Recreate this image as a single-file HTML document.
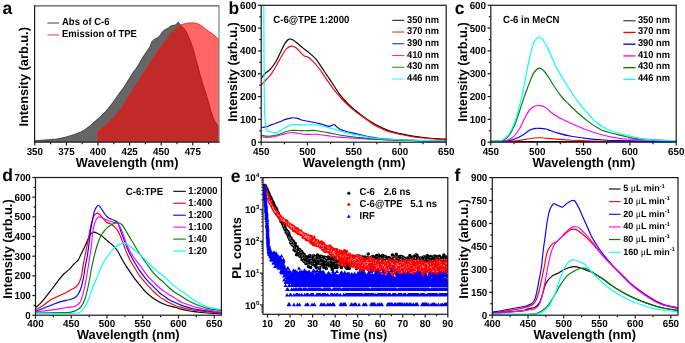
<!DOCTYPE html>
<html><head><meta charset="utf-8"><style>
html,body{margin:0;padding:0;background:#fff;width:685px;height:343px;overflow:hidden}
svg{display:block;will-change:transform;text-rendering:geometricPrecision}
</style></head><body>
<svg width="685" height="343" viewBox="0 0 685 343">
<rect width="685" height="343" fill="#fff"/>
<clipPath id="ca"><rect x="34.6" y="5.8" width="184.4" height="136.39999999999998"/></clipPath>
<g clip-path="url(#ca)"><path d="M34.80,141.20 C35.08,141.10 34.80,140.80 36.50,140.60 C38.20,140.40 41.28,140.32 45.00,140.00 C48.72,139.68 54.45,139.45 58.80,138.70 C63.15,137.95 66.98,136.87 71.10,135.50 C75.22,134.13 79.37,132.98 83.50,130.50 C87.63,128.02 91.77,124.30 95.90,120.60 C100.03,116.90 104.18,113.15 108.30,108.30 C112.42,103.45 117.82,95.30 120.60,91.50 C123.38,87.70 122.93,88.67 125.00,85.50 C127.07,82.33 130.93,75.67 133.00,72.50 C135.07,69.33 135.73,69.08 137.40,66.50 C139.07,63.92 140.93,60.28 143.00,57.00 C145.07,53.72 148.35,49.32 149.80,46.80 C151.25,44.28 151.08,43.05 151.70,41.90 C152.32,40.75 152.78,40.45 153.50,39.90 C154.22,39.35 154.97,39.25 156.00,38.60 C157.03,37.95 158.68,37.05 159.70,36.00 C160.72,34.95 161.28,33.32 162.10,32.30 C162.92,31.28 163.57,30.63 164.60,29.90 C165.63,29.17 167.27,28.53 168.30,27.90 C169.33,27.27 169.57,26.62 170.80,26.10 C172.03,25.58 174.67,25.22 175.70,24.80 C176.73,24.38 176.63,24.02 177.00,23.60 C177.37,23.18 177.57,22.43 177.90,22.30 C178.23,22.17 178.60,22.37 179.00,22.80 C179.40,23.23 179.47,23.95 180.30,24.90 C181.13,25.85 182.73,26.78 184.00,28.50 C185.27,30.22 186.47,32.03 187.90,35.20 C189.33,38.37 191.02,42.62 192.60,47.50 C194.18,52.38 196.00,59.42 197.40,64.50 C198.80,69.58 199.80,73.83 201.00,78.00 C202.20,82.17 203.40,85.68 204.60,89.50 C205.80,93.32 207.13,97.27 208.20,100.90 C209.27,104.53 210.08,108.30 211.00,111.30 C211.92,114.30 212.68,116.68 213.70,118.90 C214.72,121.12 216.13,123.12 217.10,124.60 C218.07,126.08 219.10,127.27 219.50,127.80 L219.5,142.2 L34.8,142.2 Z" fill="#666666"/><path d="M34.80,141.20 C35.08,141.10 34.80,140.80 36.50,140.60 C38.20,140.40 41.28,140.32 45.00,140.00 C48.72,139.68 54.45,139.45 58.80,138.70 C63.15,137.95 66.98,136.87 71.10,135.50 C75.22,134.13 79.37,132.98 83.50,130.50 C87.63,128.02 91.77,124.30 95.90,120.60 C100.03,116.90 104.18,113.15 108.30,108.30 C112.42,103.45 117.82,95.30 120.60,91.50 C123.38,87.70 122.93,88.67 125.00,85.50 C127.07,82.33 130.93,75.67 133.00,72.50 C135.07,69.33 135.73,69.08 137.40,66.50 C139.07,63.92 140.93,60.28 143.00,57.00 C145.07,53.72 148.35,49.32 149.80,46.80 C151.25,44.28 151.08,43.05 151.70,41.90 C152.32,40.75 152.78,40.45 153.50,39.90 C154.22,39.35 154.97,39.25 156.00,38.60 C157.03,37.95 158.68,37.05 159.70,36.00 C160.72,34.95 161.28,33.32 162.10,32.30 C162.92,31.28 163.57,30.63 164.60,29.90 C165.63,29.17 167.27,28.53 168.30,27.90 C169.33,27.27 169.57,26.62 170.80,26.10 C172.03,25.58 174.67,25.22 175.70,24.80 C176.73,24.38 176.63,24.02 177.00,23.60 C177.37,23.18 177.57,22.43 177.90,22.30 C178.23,22.17 178.60,22.37 179.00,22.80 C179.40,23.23 179.47,23.95 180.30,24.90 C181.13,25.85 182.73,26.78 184.00,28.50 C185.27,30.22 186.47,32.03 187.90,35.20 C189.33,38.37 191.02,42.62 192.60,47.50 C194.18,52.38 196.00,59.42 197.40,64.50 C198.80,69.58 199.80,73.83 201.00,78.00 C202.20,82.17 203.40,85.68 204.60,89.50 C205.80,93.32 207.13,97.27 208.20,100.90 C209.27,104.53 210.08,108.30 211.00,111.30 C211.92,114.30 212.68,116.68 213.70,118.90 C214.72,121.12 216.13,123.12 217.10,124.60 C218.07,126.08 219.10,127.27 219.50,127.80" fill="none" stroke="#3a3a3a" stroke-width="0.9"/><path d="M98,142 L98.00,131.30 C99.72,129.93 104.53,126.73 108.30,123.10 C112.07,119.47 117.40,113.60 120.60,109.50 C123.80,105.40 125.43,101.80 127.50,98.50 C129.57,95.20 130.93,92.88 133.00,89.70 C135.07,86.52 136.70,84.42 139.90,79.40 C143.10,74.38 148.08,65.80 152.20,59.60 C156.32,53.40 160.88,47.15 164.60,42.20 C168.32,37.25 171.62,32.83 174.50,29.90 C177.38,26.97 179.02,25.77 181.90,24.60 C184.78,23.43 188.90,22.93 191.80,22.90 C194.70,22.87 196.82,23.23 199.30,24.40 C201.78,25.57 204.58,28.38 206.70,29.90 C208.82,31.42 210.15,32.07 212.00,33.50 C213.85,34.93 216.55,37.42 217.80,38.50 C219.05,39.58 219.22,39.75 219.50,40.00 L219.5,142 Z" fill="rgb(255,0,0)" fill-opacity="0.6"/><path d="M98,142.2 L98.00,131.30 C99.72,129.93 104.53,126.73 108.30,123.10 C112.07,119.47 117.40,113.60 120.60,109.50 C123.80,105.40 125.43,101.80 127.50,98.50 C129.57,95.20 130.93,92.88 133.00,89.70 C135.07,86.52 136.70,84.42 139.90,79.40 C143.10,74.38 148.08,65.80 152.20,59.60 C156.32,53.40 160.88,47.15 164.60,42.20 C168.32,37.25 171.62,32.83 174.50,29.90 C177.38,26.97 179.02,25.77 181.90,24.60 C184.78,23.43 188.90,22.93 191.80,22.90 C194.70,22.87 196.82,23.23 199.30,24.40 C201.78,25.57 204.58,28.38 206.70,29.90 C208.82,31.42 210.15,32.07 212.00,33.50 C213.85,34.93 216.55,37.42 217.80,38.50 C219.05,39.58 219.22,39.75 219.50,40.00" fill="none" stroke="rgb(235,30,30)" stroke-width="0.9"/></g>
<line x1="34.6" y1="5.8" x2="219.0" y2="5.8" stroke="#555" stroke-width="1.2"/>
<line x1="219.0" y1="5.8" x2="219.0" y2="142.2" stroke="#808080" stroke-width="1.2"/>
<line x1="34.6" y1="5.2" x2="34.6" y2="142.79999999999998" stroke="#1a1a1a" stroke-width="1.2"/>
<line x1="34.0" y1="142.2" x2="219.6" y2="142.2" stroke="#1a1a1a" stroke-width="1.2"/>
<line x1="34.80" y1="142.2" x2="34.80" y2="145.6" stroke="#1a1a1a" stroke-width="1.2"/>
<text transform="translate(34.80,154.6) scale(1,1.04)" font-size="9.8" text-anchor="middle" font-family="Liberation Sans, sans-serif" font-weight="bold" >350</text>
<line x1="66.40" y1="142.2" x2="66.40" y2="145.6" stroke="#1a1a1a" stroke-width="1.2"/>
<text transform="translate(66.40,154.6) scale(1,1.04)" font-size="9.8" text-anchor="middle" font-family="Liberation Sans, sans-serif" font-weight="bold" >375</text>
<line x1="98.00" y1="142.2" x2="98.00" y2="145.6" stroke="#1a1a1a" stroke-width="1.2"/>
<text transform="translate(98.00,154.6) scale(1,1.04)" font-size="9.8" text-anchor="middle" font-family="Liberation Sans, sans-serif" font-weight="bold" >400</text>
<line x1="129.60" y1="142.2" x2="129.60" y2="145.6" stroke="#1a1a1a" stroke-width="1.2"/>
<text transform="translate(129.60,154.6) scale(1,1.04)" font-size="9.8" text-anchor="middle" font-family="Liberation Sans, sans-serif" font-weight="bold" >425</text>
<line x1="161.20" y1="142.2" x2="161.20" y2="145.6" stroke="#1a1a1a" stroke-width="1.2"/>
<text transform="translate(161.20,154.6) scale(1,1.04)" font-size="9.8" text-anchor="middle" font-family="Liberation Sans, sans-serif" font-weight="bold" >450</text>
<line x1="192.80" y1="142.2" x2="192.80" y2="145.6" stroke="#1a1a1a" stroke-width="1.2"/>
<text transform="translate(192.80,154.6) scale(1,1.04)" font-size="9.8" text-anchor="middle" font-family="Liberation Sans, sans-serif" font-weight="bold" >475</text>
<line x1="50.60" y1="142.2" x2="50.60" y2="144.2" stroke="#1a1a1a" stroke-width="1.2"/>
<line x1="82.20" y1="142.2" x2="82.20" y2="144.2" stroke="#1a1a1a" stroke-width="1.2"/>
<line x1="113.80" y1="142.2" x2="113.80" y2="144.2" stroke="#1a1a1a" stroke-width="1.2"/>
<line x1="145.40" y1="142.2" x2="145.40" y2="144.2" stroke="#1a1a1a" stroke-width="1.2"/>
<line x1="177.00" y1="142.2" x2="177.00" y2="144.2" stroke="#1a1a1a" stroke-width="1.2"/>
<line x1="208.60" y1="142.2" x2="208.60" y2="144.2" stroke="#1a1a1a" stroke-width="1.2"/>
<line x1="47.4" y1="23" x2="59.1" y2="23" stroke="#888" stroke-width="1.6"/>
<line x1="47.4" y1="34.9" x2="59.1" y2="34.9" stroke="#ff8080" stroke-width="1.6"/>
<text transform="translate(62,24.8) scale(1,1.07)" font-size="9.5" text-anchor="start" font-family="Liberation Sans, sans-serif" font-weight="bold" >Abs of C-6</text>
<text transform="translate(62,36.7) scale(1,1.07)" font-size="9.5" text-anchor="start" font-family="Liberation Sans, sans-serif" font-weight="bold" >Emission of TPE</text>
<text x="0" y="0" font-size="12.8" text-anchor="middle" font-family="Liberation Sans, sans-serif" font-weight="bold" transform="translate(28.4,76.85) rotate(-90)">Intensity (arb.u.)</text>
<text transform="translate(127.1,166.6) scale(1,1.03)" font-size="12.8" text-anchor="middle" font-family="Liberation Sans, sans-serif" font-weight="bold" >Wavelength (nm)</text>
<text x="2.5" y="13.7" font-size="17.5" text-anchor="start" font-family="Liberation Sans, sans-serif" font-weight="bold" >a</text>
<clipPath id="cb"><rect x="261.2" y="5.3" width="185.0" height="136.89999999999998"/></clipPath>
<g clip-path="url(#cb)">
<path d="M261.20,78.60 C261.83,77.78 263.50,75.25 265.00,73.70 C266.50,72.15 268.45,71.20 270.20,69.30 C271.95,67.40 273.75,65.20 275.50,62.30 C277.25,59.40 279.10,55.10 280.70,51.90 C282.30,48.70 283.70,45.23 285.10,43.10 C286.50,40.97 287.65,39.53 289.10,39.10 C290.55,38.67 292.28,39.68 293.80,40.50 C295.32,41.32 296.58,42.68 298.20,44.00 C299.82,45.32 301.88,47.10 303.50,48.40 C305.12,49.70 305.87,50.05 307.90,51.80 C309.93,53.55 313.08,55.83 315.70,58.90 C318.32,61.97 320.97,66.35 323.60,70.20 C326.23,74.05 328.88,78.07 331.50,82.00 C334.12,85.93 336.68,90.32 339.30,93.80 C341.92,97.28 344.57,100.15 347.20,102.90 C349.83,105.65 352.48,108.10 355.10,110.30 C357.72,112.50 360.98,114.67 362.90,116.10 C364.82,117.53 364.85,117.72 366.60,118.90 C368.35,120.08 371.22,121.92 373.40,123.20 C375.58,124.48 377.57,125.53 379.70,126.60 C381.83,127.67 384.02,128.72 386.20,129.60 C388.38,130.48 390.62,131.25 392.80,131.90 C394.98,132.55 396.02,132.80 399.30,133.50 C402.58,134.20 408.12,135.40 412.50,136.10 C416.88,136.80 421.23,137.27 425.60,137.70 C429.97,138.13 435.22,138.47 438.70,138.70 C442.18,138.93 445.20,139.03 446.50,139.10" fill="none" stroke="#000000" stroke-width="1.15" stroke-linejoin="round"/>
<path d="M261.20,85.10 C262.12,84.08 264.90,81.05 266.70,79.00 C268.50,76.95 270.25,75.28 272.00,72.80 C273.75,70.32 275.45,67.15 277.20,64.10 C278.95,61.05 280.90,57.12 282.50,54.50 C284.10,51.88 285.35,49.80 286.80,48.40 C288.25,47.00 289.73,46.25 291.20,46.10 C292.67,45.95 294.13,46.55 295.60,47.50 C297.07,48.45 298.62,50.43 300.00,51.80 C301.38,53.17 302.60,54.82 303.90,55.70 C305.20,56.58 306.70,56.57 307.80,57.10 C308.90,57.63 308.73,57.17 310.50,58.90 C312.27,60.63 315.78,64.18 318.40,67.50 C321.02,70.82 323.58,75.08 326.20,78.80 C328.82,82.52 331.47,86.43 334.10,89.80 C336.73,93.17 339.38,96.15 342.00,99.00 C344.62,101.85 347.18,104.50 349.80,106.90 C352.42,109.30 355.07,111.43 357.70,113.40 C360.33,115.37 362.98,116.87 365.60,118.70 C368.22,120.53 371.05,122.90 373.40,124.40 C375.75,125.90 377.57,126.67 379.70,127.70 C381.83,128.73 384.02,129.78 386.20,130.60 C388.38,131.42 390.62,132.00 392.80,132.60 C394.98,133.20 396.02,133.52 399.30,134.20 C402.58,134.88 408.12,136.03 412.50,136.70 C416.88,137.37 421.23,137.80 425.60,138.20 C429.97,138.60 435.22,138.90 438.70,139.10 C442.18,139.30 445.20,139.35 446.50,139.40" fill="none" stroke="#ff0000" stroke-width="1.15" stroke-linejoin="round"/>
<path d="M261.20,127.60 C261.98,127.48 264.25,127.35 265.90,126.90 C267.55,126.45 269.35,125.55 271.10,124.90 C272.85,124.25 274.65,123.65 276.40,123.00 C278.15,122.35 280.07,121.60 281.60,121.00 C283.13,120.40 284.28,119.83 285.60,119.40 C286.92,118.97 288.20,118.68 289.50,118.40 C290.80,118.12 292.08,117.70 293.40,117.70 C294.72,117.70 295.87,117.97 297.40,118.40 C298.93,118.83 300.85,119.82 302.60,120.30 C304.35,120.78 306.15,120.97 307.90,121.30 C309.65,121.63 311.42,121.95 313.10,122.30 C314.78,122.65 316.52,123.07 318.00,123.40 C319.48,123.73 320.17,123.80 322.00,124.30 C323.83,124.80 327.35,126.22 329.00,126.40 C330.65,126.58 331.02,125.70 331.90,125.40 C332.78,125.10 333.42,124.30 334.30,124.60 C335.18,124.90 335.95,126.28 337.20,127.20 C338.45,128.12 339.67,129.23 341.80,130.10 C343.93,130.97 346.68,131.57 350.00,132.40 C353.32,133.23 357.85,134.27 361.70,135.10 C365.55,135.93 369.02,136.73 373.10,137.40 C377.18,138.07 379.63,138.60 386.20,139.10 C392.77,139.60 402.45,140.07 412.50,140.40 C422.55,140.73 440.83,140.98 446.50,141.10" fill="none" stroke="#0000ff" stroke-width="1.15" stroke-linejoin="round"/>
<path d="M261.20,136.50 C261.98,136.65 263.80,137.35 265.90,137.40 C268.00,137.45 271.18,137.23 273.80,136.80 C276.42,136.37 278.98,135.47 281.60,134.80 C284.22,134.13 287.53,133.17 289.50,132.80 C291.47,132.43 291.87,132.48 293.40,132.60 C294.93,132.72 296.72,133.20 298.70,133.50 C300.68,133.80 302.58,134.27 305.30,134.40 C308.02,134.53 311.43,134.10 315.00,134.30 C318.57,134.50 322.82,135.13 326.70,135.60 C330.58,136.07 334.42,136.72 338.30,137.10 C342.18,137.48 346.10,137.65 350.00,137.90 C353.90,138.15 357.53,138.35 361.70,138.60 C365.87,138.85 368.62,139.12 375.00,139.40 C381.38,139.68 388.08,140.00 400.00,140.30 C411.92,140.60 438.75,141.05 446.50,141.20" fill="none" stroke="#ff00ff" stroke-width="1.15" stroke-linejoin="round"/>
<path d="M261.20,135.20 C261.98,135.35 264.25,135.95 265.90,136.10 C267.55,136.25 269.13,136.32 271.10,136.10 C273.07,135.88 275.50,135.45 277.70,134.80 C279.90,134.15 282.12,132.92 284.30,132.20 C286.48,131.48 288.62,130.78 290.80,130.50 C292.98,130.22 294.98,130.47 297.40,130.50 C299.82,130.53 302.37,130.70 305.30,130.70 C308.23,130.70 311.43,130.22 315.00,130.50 C318.57,130.78 322.82,131.68 326.70,132.40 C330.58,133.12 334.42,134.12 338.30,134.80 C342.18,135.48 346.10,135.98 350.00,136.50 C353.90,137.02 357.53,137.47 361.70,137.90 C365.87,138.33 368.62,138.70 375.00,139.10 C381.38,139.50 388.08,139.98 400.00,140.30 C411.92,140.62 438.75,140.88 446.50,141.00" fill="none" stroke="#008000" stroke-width="1.15" stroke-linejoin="round"/>
<path d="M263.80,4.00 C263.83,13.33 263.92,44.00 264.00,60.00 C264.08,76.00 264.17,90.83 264.30,100.00 C264.43,109.17 264.60,111.00 264.80,115.00 C265.00,119.00 265.22,121.58 265.50,124.00 C265.78,126.42 266.00,128.25 266.50,129.50 C267.00,130.75 267.07,130.98 268.50,131.50 C269.93,132.02 273.35,132.60 275.10,132.60 C276.85,132.60 277.47,132.23 279.00,131.50 C280.53,130.77 282.55,129.18 284.30,128.20 C286.05,127.22 287.98,126.25 289.50,125.60 C291.02,124.95 291.87,124.42 293.40,124.30 C294.93,124.18 296.72,124.80 298.70,124.90 C300.68,125.00 302.90,124.93 305.30,124.90 C307.70,124.87 310.98,124.65 313.10,124.70 C315.22,124.75 315.73,124.78 318.00,125.20 C320.27,125.62 323.32,126.33 326.70,127.20 C330.08,128.07 334.42,129.33 338.30,130.40 C342.18,131.47 346.10,132.68 350.00,133.60 C353.90,134.52 357.53,135.12 361.70,135.90 C365.87,136.68 368.62,137.65 375.00,138.30 C381.38,138.95 388.08,139.35 400.00,139.80 C411.92,140.25 438.75,140.80 446.50,141.00" fill="none" stroke="#00ffff" stroke-width="1.15" stroke-linejoin="round"/>
</g>
<rect x="261.2" y="5.3" width="185.00" height="136.90" fill="none" stroke="#1a1a1a" stroke-width="1.2"/>
<line x1="261.20" y1="142.2" x2="261.20" y2="145.6" stroke="#1a1a1a" stroke-width="1.2"/>
<text transform="translate(261.20,154.6) scale(1,1.04)" font-size="9.8" text-anchor="middle" font-family="Liberation Sans, sans-serif" font-weight="bold" >450</text>
<line x1="307.45" y1="142.2" x2="307.45" y2="145.6" stroke="#1a1a1a" stroke-width="1.2"/>
<text transform="translate(307.45,154.6) scale(1,1.04)" font-size="9.8" text-anchor="middle" font-family="Liberation Sans, sans-serif" font-weight="bold" >500</text>
<line x1="353.70" y1="142.2" x2="353.70" y2="145.6" stroke="#1a1a1a" stroke-width="1.2"/>
<text transform="translate(353.70,154.6) scale(1,1.04)" font-size="9.8" text-anchor="middle" font-family="Liberation Sans, sans-serif" font-weight="bold" >550</text>
<line x1="399.95" y1="142.2" x2="399.95" y2="145.6" stroke="#1a1a1a" stroke-width="1.2"/>
<text transform="translate(399.95,154.6) scale(1,1.04)" font-size="9.8" text-anchor="middle" font-family="Liberation Sans, sans-serif" font-weight="bold" >600</text>
<line x1="446.20" y1="142.2" x2="446.20" y2="145.6" stroke="#1a1a1a" stroke-width="1.2"/>
<text transform="translate(446.20,154.6) scale(1,1.04)" font-size="9.8" text-anchor="middle" font-family="Liberation Sans, sans-serif" font-weight="bold" >650</text>
<line x1="284.32" y1="142.2" x2="284.32" y2="144.2" stroke="#1a1a1a" stroke-width="1.2"/>
<line x1="330.57" y1="142.2" x2="330.57" y2="144.2" stroke="#1a1a1a" stroke-width="1.2"/>
<line x1="376.82" y1="142.2" x2="376.82" y2="144.2" stroke="#1a1a1a" stroke-width="1.2"/>
<line x1="423.07" y1="142.2" x2="423.07" y2="144.2" stroke="#1a1a1a" stroke-width="1.2"/>
<line x1="258.0" y1="142.20" x2="261.2" y2="142.20" stroke="#1a1a1a" stroke-width="1.2"/>
<text transform="translate(256.4,145.70) scale(1,1.04)" font-size="9.8" text-anchor="end" font-family="Liberation Sans, sans-serif" font-weight="bold" >0</text>
<line x1="258.0" y1="119.38" x2="261.2" y2="119.38" stroke="#1a1a1a" stroke-width="1.2"/>
<text transform="translate(256.4,122.88) scale(1,1.04)" font-size="9.8" text-anchor="end" font-family="Liberation Sans, sans-serif" font-weight="bold" >100</text>
<line x1="258.0" y1="96.57" x2="261.2" y2="96.57" stroke="#1a1a1a" stroke-width="1.2"/>
<text transform="translate(256.4,100.07) scale(1,1.04)" font-size="9.8" text-anchor="end" font-family="Liberation Sans, sans-serif" font-weight="bold" >200</text>
<line x1="258.0" y1="73.75" x2="261.2" y2="73.75" stroke="#1a1a1a" stroke-width="1.2"/>
<text transform="translate(256.4,77.25) scale(1,1.04)" font-size="9.8" text-anchor="end" font-family="Liberation Sans, sans-serif" font-weight="bold" >300</text>
<line x1="258.0" y1="50.93" x2="261.2" y2="50.93" stroke="#1a1a1a" stroke-width="1.2"/>
<text transform="translate(256.4,54.43) scale(1,1.04)" font-size="9.8" text-anchor="end" font-family="Liberation Sans, sans-serif" font-weight="bold" >400</text>
<line x1="258.0" y1="28.12" x2="261.2" y2="28.12" stroke="#1a1a1a" stroke-width="1.2"/>
<text transform="translate(256.4,31.62) scale(1,1.04)" font-size="9.8" text-anchor="end" font-family="Liberation Sans, sans-serif" font-weight="bold" >500</text>
<line x1="258.0" y1="5.30" x2="261.2" y2="5.30" stroke="#1a1a1a" stroke-width="1.2"/>
<text transform="translate(256.4,8.80) scale(1,1.04)" font-size="9.8" text-anchor="end" font-family="Liberation Sans, sans-serif" font-weight="bold" >600</text>
<line x1="259.2" y1="130.79" x2="261.2" y2="130.79" stroke="#1a1a1a" stroke-width="1.2"/>
<line x1="259.2" y1="107.97" x2="261.2" y2="107.97" stroke="#1a1a1a" stroke-width="1.2"/>
<line x1="259.2" y1="85.16" x2="261.2" y2="85.16" stroke="#1a1a1a" stroke-width="1.2"/>
<line x1="259.2" y1="62.34" x2="261.2" y2="62.34" stroke="#1a1a1a" stroke-width="1.2"/>
<line x1="259.2" y1="39.53" x2="261.2" y2="39.53" stroke="#1a1a1a" stroke-width="1.2"/>
<line x1="259.2" y1="16.71" x2="261.2" y2="16.71" stroke="#1a1a1a" stroke-width="1.2"/>
<text transform="translate(273.3,23) scale(1,1.07)" font-size="9.6" text-anchor="start" font-family="Liberation Sans, sans-serif" font-weight="bold" >C-6@TPE 1:2000</text>
<line x1="392.3" y1="20.30" x2="404.3" y2="20.30" stroke="#000" stroke-width="0.95"/>
<text transform="translate(407,22.50) scale(1,1.07)" font-size="9.3" text-anchor="start" font-family="Liberation Sans, sans-serif" font-weight="bold" >350 nm</text>
<line x1="392.3" y1="32.04" x2="404.3" y2="32.04" stroke="#ff0000" stroke-width="0.95"/>
<text transform="translate(407,34.24) scale(1,1.07)" font-size="9.3" text-anchor="start" font-family="Liberation Sans, sans-serif" font-weight="bold" >370 nm</text>
<line x1="392.3" y1="43.78" x2="404.3" y2="43.78" stroke="#0000ff" stroke-width="0.95"/>
<text transform="translate(407,45.98) scale(1,1.07)" font-size="9.3" text-anchor="start" font-family="Liberation Sans, sans-serif" font-weight="bold" >390 nm</text>
<line x1="392.3" y1="55.52" x2="404.3" y2="55.52" stroke="#ff00ff" stroke-width="0.95"/>
<text transform="translate(407,57.72) scale(1,1.07)" font-size="9.3" text-anchor="start" font-family="Liberation Sans, sans-serif" font-weight="bold" >410 nm</text>
<line x1="392.3" y1="67.26" x2="404.3" y2="67.26" stroke="#008000" stroke-width="0.95"/>
<text transform="translate(407,69.46) scale(1,1.07)" font-size="9.3" text-anchor="start" font-family="Liberation Sans, sans-serif" font-weight="bold" >430 nm</text>
<line x1="392.3" y1="79.00" x2="404.3" y2="79.00" stroke="#00ffff" stroke-width="0.95"/>
<text transform="translate(407,81.20) scale(1,1.07)" font-size="9.3" text-anchor="start" font-family="Liberation Sans, sans-serif" font-weight="bold" >446 nm</text>
<text x="0" y="0" font-size="12.8" text-anchor="middle" font-family="Liberation Sans, sans-serif" font-weight="bold" transform="translate(236.8,71.95) rotate(-90)">Intensity (arb.u.)</text>
<text transform="translate(354.1,166.7) scale(1,1.03)" font-size="12.8" text-anchor="middle" font-family="Liberation Sans, sans-serif" font-weight="bold" >Wavelength (nm)</text>
<text x="228.4" y="13.8" font-size="17.5" text-anchor="start" font-family="Liberation Sans, sans-serif" font-weight="bold" >b</text>
<clipPath id="cc"><rect x="490.8" y="5.3" width="185.40000000000003" height="136.89999999999998"/></clipPath>
<g clip-path="url(#cc)">
<path d="M490.80,141.60 L677.00,141.70" fill="none" stroke="#000" stroke-width="1.15" stroke-linejoin="round"/>
<path d="M490.80,141.50 C494.70,141.42 508.25,141.38 514.20,141.00 C520.15,140.62 522.42,139.73 526.50,139.20 C530.58,138.67 535.12,137.93 538.70,137.80 C542.28,137.67 542.58,138.00 548.00,138.40 C553.42,138.80 560.03,139.72 571.20,140.20 C582.37,140.68 597.37,141.07 615.00,141.30 C632.63,141.53 666.67,141.55 677.00,141.60" fill="none" stroke="#ff0000" stroke-width="1.15" stroke-linejoin="round"/>
<path d="M490.80,141.40 C493.25,141.33 501.60,141.37 505.50,141.00 C509.40,140.63 511.28,140.22 514.20,139.20 C517.12,138.18 520.37,136.42 523.00,134.90 C525.63,133.38 527.97,131.18 530.00,130.10 C532.03,129.02 533.45,128.68 535.20,128.40 C536.95,128.12 538.87,128.32 540.50,128.40 C542.13,128.48 543.75,128.70 545.00,128.90 C546.25,129.10 545.82,128.90 548.00,129.60 C550.18,130.30 554.23,131.98 558.10,133.10 C561.97,134.22 565.95,135.33 571.20,136.30 C576.45,137.27 583.97,138.28 589.60,138.90 C595.23,139.52 600.77,139.72 605.00,140.00 C609.23,140.28 603.00,140.33 615.00,140.60 C627.00,140.87 666.67,141.43 677.00,141.60" fill="none" stroke="#0000ff" stroke-width="1.15" stroke-linejoin="round"/>
<path d="M490.80,141.30 C493.25,141.18 501.88,141.23 505.50,140.60 C509.12,139.97 510.17,139.48 512.50,137.50 C514.83,135.52 517.47,131.92 519.50,128.70 C521.53,125.48 522.95,121.40 524.70,118.20 C526.45,115.00 528.25,111.53 530.00,109.50 C531.75,107.47 533.45,106.65 535.20,106.00 C536.95,105.35 539.03,105.48 540.50,105.60 C541.97,105.72 542.92,106.20 544.00,106.70 C545.08,107.20 546.00,107.83 547.00,108.60 C548.00,109.37 549.00,110.43 550.00,111.30 C551.00,112.17 551.83,112.97 553.00,113.80 C554.17,114.63 555.27,115.30 557.00,116.30 C558.73,117.30 560.15,118.22 563.40,119.80 C566.65,121.38 572.13,123.93 576.50,125.80 C580.87,127.67 585.23,129.47 589.60,131.00 C593.97,132.53 598.47,133.90 602.70,135.00 C606.93,136.10 610.97,136.93 615.00,137.60 C619.03,138.27 616.57,138.35 626.90,139.00 C637.23,139.65 668.65,141.08 677.00,141.50" fill="none" stroke="#ff00ff" stroke-width="1.15" stroke-linejoin="round"/>
<path d="M490.80,141.20 C492.00,141.22 495.85,141.48 498.00,141.30 C500.15,141.12 501.87,141.03 503.70,140.10 C505.53,139.17 507.25,138.03 509.00,135.70 C510.75,133.37 512.45,130.18 514.20,126.10 C515.95,122.02 517.75,116.30 519.50,111.20 C521.25,106.10 522.90,100.58 524.70,95.50 C526.50,90.42 528.78,84.48 530.30,80.70 C531.82,76.92 532.33,74.90 533.80,72.80 C535.27,70.70 537.48,68.48 539.10,68.10 C540.72,67.72 541.90,68.93 543.50,70.50 C545.10,72.07 547.12,75.17 548.70,77.50 C550.28,79.83 551.43,82.08 553.00,84.50 C554.57,86.92 556.43,89.67 558.10,92.00 C559.77,94.33 561.25,96.50 563.00,98.50 C564.75,100.50 565.92,101.42 568.60,104.00 C571.28,106.58 575.60,110.90 579.10,114.00 C582.60,117.10 586.10,120.07 589.60,122.60 C593.10,125.13 597.20,127.67 600.10,129.20 C603.00,130.73 604.35,130.97 607.00,131.80 C609.65,132.63 612.68,133.37 616.00,134.20 C619.32,135.03 623.25,136.05 626.90,136.80 C630.55,137.55 629.55,138.00 637.90,138.70 C646.25,139.40 670.48,140.62 677.00,141.00" fill="none" stroke="#008000" stroke-width="1.15" stroke-linejoin="round"/>
<path d="M490.80,140.60 C492.08,140.67 496.35,141.23 498.50,141.00 C500.65,140.77 501.95,140.37 503.70,139.20 C505.45,138.03 507.25,136.62 509.00,134.00 C510.75,131.38 512.60,127.58 514.20,123.50 C515.80,119.42 517.28,114.17 518.60,109.50 C519.92,104.83 520.87,101.17 522.10,95.50 C523.33,89.83 524.77,81.75 526.00,75.50 C527.23,69.25 528.33,63.10 529.50,58.00 C530.67,52.90 531.98,47.97 533.00,44.90 C534.02,41.83 534.58,40.87 535.60,39.60 C536.62,38.33 537.93,37.30 539.10,37.30 C540.27,37.30 541.28,38.05 542.60,39.60 C543.92,41.15 545.55,43.83 547.00,46.60 C548.45,49.37 550.00,53.28 551.30,56.20 C552.60,59.12 553.88,62.12 554.80,64.10 C555.72,66.08 554.93,64.82 556.80,68.10 C558.67,71.38 562.72,78.55 566.00,83.80 C569.28,89.05 573.00,94.78 576.50,99.60 C580.00,104.42 583.52,108.77 587.00,112.70 C590.48,116.63 594.90,120.93 597.40,123.20 C599.90,125.47 600.25,125.25 602.00,126.30 C603.75,127.35 605.73,128.52 607.90,129.50 C610.07,130.48 611.83,131.23 615.00,132.20 C618.17,133.17 623.08,134.35 626.90,135.30 C630.72,136.25 634.25,137.18 637.90,137.90 C641.55,138.62 642.28,139.13 648.80,139.60 C655.32,140.07 672.30,140.52 677.00,140.70" fill="none" stroke="#00ffff" stroke-width="1.15" stroke-linejoin="round"/>
</g>
<rect x="490.8" y="5.3" width="185.40" height="136.90" fill="none" stroke="#1a1a1a" stroke-width="1.2"/>
<line x1="490.80" y1="142.2" x2="490.80" y2="145.6" stroke="#1a1a1a" stroke-width="1.2"/>
<text transform="translate(490.80,154.6) scale(1,1.04)" font-size="9.8" text-anchor="middle" font-family="Liberation Sans, sans-serif" font-weight="bold" >450</text>
<line x1="537.15" y1="142.2" x2="537.15" y2="145.6" stroke="#1a1a1a" stroke-width="1.2"/>
<text transform="translate(537.15,154.6) scale(1,1.04)" font-size="9.8" text-anchor="middle" font-family="Liberation Sans, sans-serif" font-weight="bold" >500</text>
<line x1="583.50" y1="142.2" x2="583.50" y2="145.6" stroke="#1a1a1a" stroke-width="1.2"/>
<text transform="translate(583.50,154.6) scale(1,1.04)" font-size="9.8" text-anchor="middle" font-family="Liberation Sans, sans-serif" font-weight="bold" >550</text>
<line x1="629.85" y1="142.2" x2="629.85" y2="145.6" stroke="#1a1a1a" stroke-width="1.2"/>
<text transform="translate(629.85,154.6) scale(1,1.04)" font-size="9.8" text-anchor="middle" font-family="Liberation Sans, sans-serif" font-weight="bold" >600</text>
<line x1="676.20" y1="142.2" x2="676.20" y2="145.6" stroke="#1a1a1a" stroke-width="1.2"/>
<text transform="translate(676.20,154.6) scale(1,1.04)" font-size="9.8" text-anchor="middle" font-family="Liberation Sans, sans-serif" font-weight="bold" >650</text>
<line x1="513.98" y1="142.2" x2="513.98" y2="144.2" stroke="#1a1a1a" stroke-width="1.2"/>
<line x1="560.33" y1="142.2" x2="560.33" y2="144.2" stroke="#1a1a1a" stroke-width="1.2"/>
<line x1="606.68" y1="142.2" x2="606.68" y2="144.2" stroke="#1a1a1a" stroke-width="1.2"/>
<line x1="653.03" y1="142.2" x2="653.03" y2="144.2" stroke="#1a1a1a" stroke-width="1.2"/>
<line x1="487.6" y1="142.20" x2="490.8" y2="142.20" stroke="#1a1a1a" stroke-width="1.2"/>
<text transform="translate(486.0,145.70) scale(1,1.04)" font-size="9.8" text-anchor="end" font-family="Liberation Sans, sans-serif" font-weight="bold" >0</text>
<line x1="487.6" y1="119.38" x2="490.8" y2="119.38" stroke="#1a1a1a" stroke-width="1.2"/>
<text transform="translate(486.0,122.88) scale(1,1.04)" font-size="9.8" text-anchor="end" font-family="Liberation Sans, sans-serif" font-weight="bold" >100</text>
<line x1="487.6" y1="96.57" x2="490.8" y2="96.57" stroke="#1a1a1a" stroke-width="1.2"/>
<text transform="translate(486.0,100.07) scale(1,1.04)" font-size="9.8" text-anchor="end" font-family="Liberation Sans, sans-serif" font-weight="bold" >200</text>
<line x1="487.6" y1="73.75" x2="490.8" y2="73.75" stroke="#1a1a1a" stroke-width="1.2"/>
<text transform="translate(486.0,77.25) scale(1,1.04)" font-size="9.8" text-anchor="end" font-family="Liberation Sans, sans-serif" font-weight="bold" >300</text>
<line x1="487.6" y1="50.93" x2="490.8" y2="50.93" stroke="#1a1a1a" stroke-width="1.2"/>
<text transform="translate(486.0,54.43) scale(1,1.04)" font-size="9.8" text-anchor="end" font-family="Liberation Sans, sans-serif" font-weight="bold" >400</text>
<line x1="487.6" y1="28.12" x2="490.8" y2="28.12" stroke="#1a1a1a" stroke-width="1.2"/>
<text transform="translate(486.0,31.62) scale(1,1.04)" font-size="9.8" text-anchor="end" font-family="Liberation Sans, sans-serif" font-weight="bold" >500</text>
<line x1="487.6" y1="5.30" x2="490.8" y2="5.30" stroke="#1a1a1a" stroke-width="1.2"/>
<text transform="translate(486.0,8.80) scale(1,1.04)" font-size="9.8" text-anchor="end" font-family="Liberation Sans, sans-serif" font-weight="bold" >600</text>
<line x1="488.8" y1="130.79" x2="490.8" y2="130.79" stroke="#1a1a1a" stroke-width="1.2"/>
<line x1="488.8" y1="107.97" x2="490.8" y2="107.97" stroke="#1a1a1a" stroke-width="1.2"/>
<line x1="488.8" y1="85.16" x2="490.8" y2="85.16" stroke="#1a1a1a" stroke-width="1.2"/>
<line x1="488.8" y1="62.34" x2="490.8" y2="62.34" stroke="#1a1a1a" stroke-width="1.2"/>
<line x1="488.8" y1="39.53" x2="490.8" y2="39.53" stroke="#1a1a1a" stroke-width="1.2"/>
<line x1="488.8" y1="16.71" x2="490.8" y2="16.71" stroke="#1a1a1a" stroke-width="1.2"/>
<text transform="translate(503,23) scale(1,1.07)" font-size="9.6" text-anchor="start" font-family="Liberation Sans, sans-serif" font-weight="bold" >C-6 in MeCN</text>
<line x1="623.3" y1="20.70" x2="635.5" y2="20.70" stroke="#555" stroke-width="1.35"/>
<text transform="translate(637.9,22.50) scale(1,1.07)" font-size="9.3" text-anchor="start" font-family="Liberation Sans, sans-serif" font-weight="bold" >350 nm</text>
<line x1="623.3" y1="32.44" x2="635.5" y2="32.44" stroke="#ff0000" stroke-width="1.35"/>
<text transform="translate(637.9,34.24) scale(1,1.07)" font-size="9.3" text-anchor="start" font-family="Liberation Sans, sans-serif" font-weight="bold" >370 nm</text>
<line x1="623.3" y1="44.18" x2="635.5" y2="44.18" stroke="#0000ff" stroke-width="1.35"/>
<text transform="translate(637.9,45.98) scale(1,1.07)" font-size="9.3" text-anchor="start" font-family="Liberation Sans, sans-serif" font-weight="bold" >390 nm</text>
<line x1="623.3" y1="55.92" x2="635.5" y2="55.92" stroke="#ff00ff" stroke-width="1.35"/>
<text transform="translate(637.9,57.72) scale(1,1.07)" font-size="9.3" text-anchor="start" font-family="Liberation Sans, sans-serif" font-weight="bold" >410 nm</text>
<line x1="623.3" y1="67.66" x2="635.5" y2="67.66" stroke="#008000" stroke-width="1.35"/>
<text transform="translate(637.9,69.46) scale(1,1.07)" font-size="9.3" text-anchor="start" font-family="Liberation Sans, sans-serif" font-weight="bold" >430 nm</text>
<line x1="623.3" y1="79.40" x2="635.5" y2="79.40" stroke="#00ffff" stroke-width="1.35"/>
<text transform="translate(637.9,81.20) scale(1,1.07)" font-size="9.3" text-anchor="start" font-family="Liberation Sans, sans-serif" font-weight="bold" >446 nm</text>
<text x="0" y="0" font-size="12.8" text-anchor="middle" font-family="Liberation Sans, sans-serif" font-weight="bold" transform="translate(466.6,72.05) rotate(-90)">Intensity (arb.u.)</text>
<text transform="translate(583.9,166.7) scale(1,1.03)" font-size="12.8" text-anchor="middle" font-family="Liberation Sans, sans-serif" font-weight="bold" >Wavelength (nm)</text>
<text x="454.8" y="13.8" font-size="17.5" text-anchor="start" font-family="Liberation Sans, sans-serif" font-weight="bold" >c</text>
<clipPath id="cd"><rect x="35.5" y="177.5" width="185.9" height="137.7"/></clipPath>
<g clip-path="url(#cd)">
<path d="M35.50,307.60 C36.38,306.82 38.97,304.80 40.80,302.90 C42.63,301.00 44.58,298.60 46.50,296.20 C48.42,293.80 50.37,291.07 52.30,288.50 C54.23,285.93 56.18,283.22 58.10,280.80 C60.02,278.38 61.88,275.93 63.80,274.00 C65.72,272.07 67.90,270.87 69.60,269.20 C71.30,267.53 72.58,265.50 74.00,264.00 C75.42,262.50 76.93,261.82 78.10,260.20 C79.27,258.58 80.03,256.25 81.00,254.30 C81.97,252.35 82.93,250.53 83.90,248.50 C84.87,246.47 85.83,244.27 86.80,242.10 C87.77,239.93 88.83,237.03 89.70,235.50 C90.57,233.97 91.23,233.47 92.00,232.90 C92.77,232.33 93.42,232.03 94.30,232.10 C95.18,232.17 96.13,232.72 97.30,233.30 C98.47,233.88 100.05,234.73 101.30,235.60 C102.55,236.47 103.68,237.55 104.80,238.50 C105.92,239.45 106.60,240.10 108.00,241.30 C109.40,242.50 111.60,244.08 113.20,245.70 C114.80,247.32 116.02,248.53 117.60,251.00 C119.18,253.47 121.05,257.65 122.70,260.50 C124.35,263.35 125.75,265.42 127.50,268.10 C129.25,270.78 131.12,273.75 133.20,276.60 C135.28,279.45 137.98,282.72 140.00,285.20 C142.02,287.68 143.22,289.42 145.30,291.50 C147.38,293.58 149.83,295.78 152.50,297.70 C155.17,299.62 158.72,301.70 161.30,303.00 C163.88,304.30 165.72,304.78 168.00,305.50 C170.28,306.22 172.83,306.70 175.00,307.30 C177.17,307.90 179.00,308.57 181.00,309.10 C183.00,309.63 185.02,310.10 187.00,310.50 C188.98,310.90 190.92,311.20 192.90,311.50 C194.88,311.80 195.90,312.00 198.90,312.30 C201.90,312.60 207.05,313.03 210.90,313.30 C214.75,313.57 220.15,313.80 222.00,313.90" fill="none" stroke="#000" stroke-width="1.15" stroke-linejoin="round"/>
<path d="M35.50,309.70 C36.70,309.05 40.22,307.42 42.70,305.80 C45.18,304.18 47.83,301.60 50.40,300.00 C52.97,298.40 55.53,297.42 58.10,296.20 C60.67,294.98 63.82,293.70 65.80,292.70 C67.78,291.70 68.52,291.02 70.00,290.20 C71.48,289.38 73.33,288.78 74.70,287.80 C76.07,286.82 77.33,285.47 78.20,284.30 C79.07,283.13 79.32,282.35 79.90,280.80 C80.48,279.25 81.22,277.27 81.70,275.00 C82.18,272.73 82.23,270.45 82.80,267.20 C83.37,263.95 84.33,259.40 85.10,255.50 C85.87,251.60 86.63,247.80 87.40,243.80 C88.17,239.80 89.03,234.92 89.70,231.50 C90.37,228.08 90.72,225.83 91.40,223.30 C92.08,220.77 93.12,217.82 93.80,216.30 C94.48,214.78 94.92,214.73 95.50,214.20 C96.08,213.67 96.72,213.13 97.30,213.10 C97.88,213.07 98.33,213.47 99.00,214.00 C99.67,214.53 100.42,215.33 101.30,216.30 C102.18,217.27 103.42,218.82 104.30,219.80 C105.18,220.78 105.90,221.65 106.60,222.20 C107.30,222.75 107.70,222.77 108.50,223.10 C109.30,223.43 110.33,223.50 111.40,224.20 C112.47,224.90 113.80,226.15 114.90,227.30 C116.00,228.45 116.85,229.05 118.00,231.10 C119.15,233.15 120.53,236.43 121.80,239.60 C123.07,242.77 124.18,246.62 125.60,250.10 C127.02,253.58 128.57,257.18 130.30,260.50 C132.03,263.82 134.38,267.35 136.00,270.00 C137.62,272.65 138.45,274.30 140.00,276.40 C141.55,278.50 143.70,280.78 145.30,282.60 C146.90,284.42 148.15,285.73 149.60,287.30 C151.05,288.87 152.27,290.37 154.00,292.00 C155.73,293.63 158.42,295.88 160.00,297.10 C161.58,298.32 162.17,298.48 163.50,299.30 C164.83,300.12 166.08,300.97 168.00,302.00 C169.92,303.03 172.83,304.62 175.00,305.50 C177.17,306.38 179.00,306.73 181.00,307.30 C183.00,307.87 185.02,308.45 187.00,308.90 C188.98,309.35 190.92,309.67 192.90,310.00 C194.88,310.33 195.90,310.52 198.90,310.90 C201.90,311.28 207.05,311.87 210.90,312.30 C214.75,312.73 220.15,313.30 222.00,313.50" fill="none" stroke="#ff0000" stroke-width="1.15" stroke-linejoin="round"/>
<path d="M35.50,311.30 C37.02,310.70 41.80,308.78 44.60,307.70 C47.40,306.62 49.73,305.77 52.30,304.80 C54.87,303.83 57.43,302.70 60.00,301.90 C62.57,301.10 66.03,300.40 67.70,300.00 C69.37,299.60 68.83,299.87 70.00,299.50 C71.17,299.13 73.33,298.67 74.70,297.80 C76.07,296.93 77.13,295.97 78.20,294.30 C79.27,292.63 80.33,290.05 81.10,287.80 C81.87,285.55 82.32,282.93 82.80,280.80 C83.28,278.67 83.62,277.27 84.00,275.00 C84.38,272.73 84.53,270.45 85.10,267.20 C85.67,263.95 86.68,259.95 87.40,255.50 C88.12,251.05 88.83,244.88 89.40,240.50 C89.97,236.12 90.27,232.73 90.80,229.20 C91.33,225.67 92.02,222.22 92.60,219.30 C93.18,216.38 93.72,213.65 94.30,211.70 C94.88,209.75 95.47,208.67 96.10,207.60 C96.73,206.53 97.42,205.37 98.10,205.30 C98.78,205.23 99.47,206.33 100.20,207.20 C100.93,208.07 101.73,209.37 102.50,210.50 C103.27,211.63 103.88,212.83 104.80,214.00 C105.72,215.17 106.45,216.45 108.00,217.50 C109.55,218.55 112.50,219.45 114.10,220.30 C115.70,221.15 116.48,220.80 117.60,222.60 C118.72,224.40 119.63,227.95 120.80,231.10 C121.97,234.25 123.17,237.87 124.60,241.50 C126.03,245.13 127.65,249.27 129.40,252.90 C131.15,256.53 133.33,260.27 135.10,263.30 C136.87,266.33 138.30,268.63 140.00,271.10 C141.70,273.57 143.83,276.27 145.30,278.10 C146.77,279.93 147.78,281.00 148.80,282.10 C149.82,283.20 150.53,283.83 151.40,284.70 C152.27,285.57 152.57,285.88 154.00,287.30 C155.43,288.72 158.27,291.70 160.00,293.20 C161.73,294.70 163.08,295.35 164.40,296.30 C165.72,297.25 166.13,297.85 167.90,298.90 C169.67,299.95 172.82,301.57 175.00,302.60 C177.18,303.63 179.00,304.35 181.00,305.10 C183.00,305.85 185.02,306.50 187.00,307.10 C188.98,307.70 190.92,308.23 192.90,308.70 C194.88,309.17 195.90,309.43 198.90,309.90 C201.90,310.37 207.05,310.98 210.90,311.50 C214.75,312.02 220.15,312.75 222.00,313.00" fill="none" stroke="#0000ff" stroke-width="1.15" stroke-linejoin="round"/>
<path d="M35.50,312.00 C38.62,311.60 49.15,310.32 54.20,309.60 C59.25,308.88 62.58,308.18 65.80,307.70 C69.02,307.22 71.83,307.00 73.50,306.70 C75.17,306.40 74.73,306.62 75.80,305.90 C76.87,305.18 78.73,304.25 79.90,302.40 C81.07,300.55 81.92,297.82 82.80,294.80 C83.68,291.78 84.52,287.60 85.20,284.30 C85.88,281.00 86.43,277.67 86.90,275.00 C87.37,272.33 87.52,271.35 88.00,268.30 C88.48,265.25 89.22,260.58 89.80,256.70 C90.38,252.82 91.03,249.00 91.50,245.00 C91.97,241.00 92.13,236.12 92.60,232.70 C93.07,229.28 93.62,226.83 94.30,224.50 C94.98,222.17 95.92,219.97 96.70,218.70 C97.48,217.43 98.23,217.10 99.00,216.90 C99.77,216.70 100.33,217.10 101.30,217.50 C102.27,217.90 103.68,218.83 104.80,219.30 C105.92,219.77 106.60,219.83 108.00,220.30 C109.40,220.77 111.60,221.62 113.20,222.10 C114.80,222.58 116.33,222.17 117.60,223.20 C118.87,224.23 119.78,226.18 120.80,228.30 C121.82,230.42 122.58,232.90 123.70,235.90 C124.82,238.90 125.92,242.87 127.50,246.30 C129.08,249.73 131.12,253.32 133.20,256.50 C135.28,259.68 137.98,262.67 140.00,265.40 C142.02,268.13 143.83,270.92 145.30,272.90 C146.77,274.88 147.63,275.98 148.80,277.30 C149.97,278.62 151.13,279.63 152.30,280.80 C153.47,281.97 154.52,283.05 155.80,284.30 C157.08,285.55 158.57,287.10 160.00,288.30 C161.43,289.50 162.93,290.47 164.40,291.50 C165.87,292.53 167.35,293.57 168.80,294.50 C170.25,295.43 171.80,296.30 173.10,297.10 C174.40,297.90 175.28,298.50 176.60,299.30 C177.92,300.10 179.27,301.07 181.00,301.90 C182.73,302.73 185.02,303.57 187.00,304.30 C188.98,305.03 190.92,305.70 192.90,306.30 C194.88,306.90 196.90,307.40 198.90,307.90 C200.90,308.40 202.90,308.87 204.90,309.30 C206.90,309.73 208.05,309.98 210.90,310.50 C213.75,311.02 220.15,312.08 222.00,312.40" fill="none" stroke="#ff00ff" stroke-width="1.15" stroke-linejoin="round"/>
<path d="M35.50,313.10 C40.22,313.00 58.05,312.62 63.80,312.50 C69.55,312.38 67.80,312.82 70.00,312.40 C72.20,311.98 75.05,311.08 77.00,310.00 C78.95,308.92 80.33,307.85 81.70,305.90 C83.07,303.95 84.13,301.50 85.20,298.30 C86.27,295.10 87.33,290.08 88.10,286.70 C88.87,283.32 89.23,281.07 89.80,278.00 C90.37,274.93 90.83,271.67 91.50,268.30 C92.17,264.93 93.02,261.10 93.80,257.80 C94.58,254.50 95.42,251.22 96.20,248.50 C96.98,245.78 97.65,243.75 98.50,241.50 C99.35,239.25 100.33,236.77 101.30,235.00 C102.27,233.23 103.18,232.23 104.30,230.90 C105.42,229.57 106.52,228.18 108.00,227.00 C109.48,225.82 111.60,224.53 113.20,223.80 C114.80,223.07 116.17,222.48 117.60,222.60 C119.03,222.72 120.47,223.23 121.80,224.50 C123.13,225.77 124.33,228.15 125.60,230.20 C126.87,232.25 127.82,234.12 129.40,236.80 C130.98,239.48 133.42,243.52 135.10,246.30 C136.78,249.08 138.10,251.33 139.50,253.50 C140.90,255.67 142.25,257.53 143.50,259.30 C144.75,261.07 145.68,262.27 147.00,264.10 C148.32,265.93 149.93,268.40 151.40,270.30 C152.87,272.20 154.37,274.02 155.80,275.50 C157.23,276.98 158.57,277.93 160.00,279.20 C161.43,280.47 162.93,281.72 164.40,283.10 C165.87,284.48 167.35,286.18 168.80,287.50 C170.25,288.82 171.65,289.90 173.10,291.00 C174.55,292.10 175.68,292.93 177.50,294.10 C179.32,295.27 182.42,297.00 184.00,298.00 C185.58,299.00 185.52,299.25 187.00,300.10 C188.48,300.95 190.92,302.20 192.90,303.10 C194.88,304.00 196.90,304.77 198.90,305.50 C200.90,306.23 202.90,306.90 204.90,307.50 C206.90,308.10 208.05,308.58 210.90,309.10 C213.75,309.62 220.15,310.35 222.00,310.60" fill="none" stroke="#008000" stroke-width="1.15" stroke-linejoin="round"/>
<path d="M35.50,313.50 C41.25,313.50 62.88,313.60 70.00,313.50 C77.12,313.40 76.07,313.48 78.20,312.90 C80.33,312.32 81.25,311.85 82.80,310.00 C84.35,308.15 85.93,305.30 87.50,301.80 C89.07,298.30 90.65,292.97 92.20,289.00 C93.75,285.03 95.55,281.05 96.80,278.00 C98.05,274.95 98.50,273.48 99.70,270.70 C100.90,267.92 102.48,263.93 104.00,261.30 C105.52,258.67 107.27,256.93 108.80,254.90 C110.33,252.87 111.67,250.70 113.20,249.10 C114.73,247.50 116.57,246.25 118.00,245.30 C119.43,244.35 120.53,243.72 121.80,243.40 C123.07,243.08 124.02,242.77 125.60,243.40 C127.18,244.03 129.40,245.77 131.30,247.20 C133.20,248.63 134.97,250.20 137.00,252.00 C139.03,253.80 141.53,256.12 143.50,258.00 C145.47,259.88 147.05,261.55 148.80,263.30 C150.55,265.05 152.13,266.80 154.00,268.50 C155.87,270.20 158.27,272.08 160.00,273.50 C161.73,274.92 162.93,275.77 164.40,277.00 C165.87,278.23 167.35,279.58 168.80,280.90 C170.25,282.22 171.65,283.65 173.10,284.90 C174.55,286.15 175.68,287.08 177.50,288.40 C179.32,289.72 181.43,290.95 184.00,292.80 C186.57,294.65 190.42,297.78 192.90,299.50 C195.38,301.22 196.90,302.03 198.90,303.10 C200.90,304.17 202.90,305.10 204.90,305.90 C206.90,306.70 208.05,307.27 210.90,307.90 C213.75,308.53 220.15,309.40 222.00,309.70" fill="none" stroke="#00ffff" stroke-width="1.15" stroke-linejoin="round"/>
</g>
<rect x="35.5" y="177.5" width="185.90" height="137.70" fill="none" stroke="#1a1a1a" stroke-width="1.2"/>
<line x1="35.50" y1="315.2" x2="35.50" y2="318.59999999999997" stroke="#1a1a1a" stroke-width="1.2"/>
<text transform="translate(35.50,327.3) scale(1,1.04)" font-size="9.8" text-anchor="middle" font-family="Liberation Sans, sans-serif" font-weight="bold" >400</text>
<line x1="71.25" y1="315.2" x2="71.25" y2="318.59999999999997" stroke="#1a1a1a" stroke-width="1.2"/>
<text transform="translate(71.25,327.3) scale(1,1.04)" font-size="9.8" text-anchor="middle" font-family="Liberation Sans, sans-serif" font-weight="bold" >450</text>
<line x1="107.00" y1="315.2" x2="107.00" y2="318.59999999999997" stroke="#1a1a1a" stroke-width="1.2"/>
<text transform="translate(107.00,327.3) scale(1,1.04)" font-size="9.8" text-anchor="middle" font-family="Liberation Sans, sans-serif" font-weight="bold" >500</text>
<line x1="142.75" y1="315.2" x2="142.75" y2="318.59999999999997" stroke="#1a1a1a" stroke-width="1.2"/>
<text transform="translate(142.75,327.3) scale(1,1.04)" font-size="9.8" text-anchor="middle" font-family="Liberation Sans, sans-serif" font-weight="bold" >550</text>
<line x1="178.50" y1="315.2" x2="178.50" y2="318.59999999999997" stroke="#1a1a1a" stroke-width="1.2"/>
<text transform="translate(178.50,327.3) scale(1,1.04)" font-size="9.8" text-anchor="middle" font-family="Liberation Sans, sans-serif" font-weight="bold" >600</text>
<line x1="214.25" y1="315.2" x2="214.25" y2="318.59999999999997" stroke="#1a1a1a" stroke-width="1.2"/>
<text transform="translate(214.25,327.3) scale(1,1.04)" font-size="9.8" text-anchor="middle" font-family="Liberation Sans, sans-serif" font-weight="bold" >650</text>
<line x1="53.38" y1="315.2" x2="53.38" y2="317.2" stroke="#1a1a1a" stroke-width="1.2"/>
<line x1="89.12" y1="315.2" x2="89.12" y2="317.2" stroke="#1a1a1a" stroke-width="1.2"/>
<line x1="124.88" y1="315.2" x2="124.88" y2="317.2" stroke="#1a1a1a" stroke-width="1.2"/>
<line x1="160.62" y1="315.2" x2="160.62" y2="317.2" stroke="#1a1a1a" stroke-width="1.2"/>
<line x1="196.38" y1="315.2" x2="196.38" y2="317.2" stroke="#1a1a1a" stroke-width="1.2"/>
<line x1="32.3" y1="315.20" x2="35.5" y2="315.20" stroke="#1a1a1a" stroke-width="1.2"/>
<text transform="translate(30.8,318.70) scale(1,1.04)" font-size="9.8" text-anchor="end" font-family="Liberation Sans, sans-serif" font-weight="bold" >0</text>
<line x1="32.3" y1="295.53" x2="35.5" y2="295.53" stroke="#1a1a1a" stroke-width="1.2"/>
<text transform="translate(30.8,299.03) scale(1,1.04)" font-size="9.8" text-anchor="end" font-family="Liberation Sans, sans-serif" font-weight="bold" >100</text>
<line x1="32.3" y1="275.86" x2="35.5" y2="275.86" stroke="#1a1a1a" stroke-width="1.2"/>
<text transform="translate(30.8,279.36) scale(1,1.04)" font-size="9.8" text-anchor="end" font-family="Liberation Sans, sans-serif" font-weight="bold" >200</text>
<line x1="32.3" y1="256.19" x2="35.5" y2="256.19" stroke="#1a1a1a" stroke-width="1.2"/>
<text transform="translate(30.8,259.69) scale(1,1.04)" font-size="9.8" text-anchor="end" font-family="Liberation Sans, sans-serif" font-weight="bold" >300</text>
<line x1="32.3" y1="236.51" x2="35.5" y2="236.51" stroke="#1a1a1a" stroke-width="1.2"/>
<text transform="translate(30.8,240.01) scale(1,1.04)" font-size="9.8" text-anchor="end" font-family="Liberation Sans, sans-serif" font-weight="bold" >400</text>
<line x1="32.3" y1="216.84" x2="35.5" y2="216.84" stroke="#1a1a1a" stroke-width="1.2"/>
<text transform="translate(30.8,220.34) scale(1,1.04)" font-size="9.8" text-anchor="end" font-family="Liberation Sans, sans-serif" font-weight="bold" >500</text>
<line x1="32.3" y1="197.17" x2="35.5" y2="197.17" stroke="#1a1a1a" stroke-width="1.2"/>
<text transform="translate(30.8,200.67) scale(1,1.04)" font-size="9.8" text-anchor="end" font-family="Liberation Sans, sans-serif" font-weight="bold" >600</text>
<line x1="32.3" y1="177.50" x2="35.5" y2="177.50" stroke="#1a1a1a" stroke-width="1.2"/>
<text transform="translate(30.8,181.00) scale(1,1.04)" font-size="9.8" text-anchor="end" font-family="Liberation Sans, sans-serif" font-weight="bold" >700</text>
<line x1="33.5" y1="305.36" x2="35.5" y2="305.36" stroke="#1a1a1a" stroke-width="1.2"/>
<line x1="33.5" y1="285.69" x2="35.5" y2="285.69" stroke="#1a1a1a" stroke-width="1.2"/>
<line x1="33.5" y1="266.02" x2="35.5" y2="266.02" stroke="#1a1a1a" stroke-width="1.2"/>
<line x1="33.5" y1="246.35" x2="35.5" y2="246.35" stroke="#1a1a1a" stroke-width="1.2"/>
<line x1="33.5" y1="226.68" x2="35.5" y2="226.68" stroke="#1a1a1a" stroke-width="1.2"/>
<line x1="33.5" y1="207.01" x2="35.5" y2="207.01" stroke="#1a1a1a" stroke-width="1.2"/>
<line x1="33.5" y1="187.34" x2="35.5" y2="187.34" stroke="#1a1a1a" stroke-width="1.2"/>
<text transform="translate(125.8,195) scale(1,1.07)" font-size="9.6" text-anchor="start" font-family="Liberation Sans, sans-serif" font-weight="bold" >C-6:TPE</text>
<line x1="173.2" y1="191.30" x2="185.8" y2="191.30" stroke="#000" stroke-width="1.1"/>
<text transform="translate(188.2,193.90) scale(1,1.07)" font-size="9.4" text-anchor="start" font-family="Liberation Sans, sans-serif" font-weight="bold" >1:2000</text>
<line x1="173.2" y1="203.25" x2="185.8" y2="203.25" stroke="#ff0000" stroke-width="1.1"/>
<text transform="translate(188.2,205.85) scale(1,1.07)" font-size="9.4" text-anchor="start" font-family="Liberation Sans, sans-serif" font-weight="bold" >1:400</text>
<line x1="173.2" y1="215.20" x2="185.8" y2="215.20" stroke="#0000ff" stroke-width="1.1"/>
<text transform="translate(188.2,217.80) scale(1,1.07)" font-size="9.4" text-anchor="start" font-family="Liberation Sans, sans-serif" font-weight="bold" >1:200</text>
<line x1="173.2" y1="227.15" x2="185.8" y2="227.15" stroke="#ff00ff" stroke-width="1.1"/>
<text transform="translate(188.2,229.75) scale(1,1.07)" font-size="9.4" text-anchor="start" font-family="Liberation Sans, sans-serif" font-weight="bold" >1:100</text>
<line x1="173.2" y1="239.10" x2="185.8" y2="239.10" stroke="#008000" stroke-width="1.1"/>
<text transform="translate(188.2,241.70) scale(1,1.07)" font-size="9.4" text-anchor="start" font-family="Liberation Sans, sans-serif" font-weight="bold" >1:40</text>
<line x1="173.2" y1="251.05" x2="185.8" y2="251.05" stroke="#00ffff" stroke-width="1.1"/>
<text transform="translate(188.2,253.65) scale(1,1.07)" font-size="9.4" text-anchor="start" font-family="Liberation Sans, sans-serif" font-weight="bold" >1:20</text>
<text x="0" y="0" font-size="12.8" text-anchor="middle" font-family="Liberation Sans, sans-serif" font-weight="bold" transform="translate(11.7,249.1) rotate(-90)">Intensity (arb.u.)</text>
<text transform="translate(128.3,339.1) scale(1,1.03)" font-size="12.8" text-anchor="middle" font-family="Liberation Sans, sans-serif" font-weight="bold" >Wavelength (nm)</text>
<text x="2.2" y="181" font-size="17.5" text-anchor="start" font-family="Liberation Sans, sans-serif" font-weight="bold" >d</text>
<clipPath id="ce"><rect x="263.0" y="177.6" width="184.8" height="136.70000000000002"/></clipPath>
<g clip-path="url(#ce)">
<path d="M263.9 186.3h0M264.0 186.0h0M264.4 185.5h0M264.5 186.0h0M265.0 185.6h0M265.1 185.8h0M265.6 186.4h0M265.7 187.0h0M266.2 188.4h0M266.3 188.1h0M266.7 188.8h0M266.8 189.5h0M266.9 189.1h0M267.1 190.2h0M267.4 190.3h0M267.5 191.1h0M267.9 191.8h0M268.0 191.9h0M268.2 192.5h0M268.5 192.8h0M268.6 192.9h0M268.7 193.8h0M268.9 193.7h0M269.2 194.7h0M269.3 195.0h0M269.7 195.6h0M269.8 195.9h0M269.9 196.5h0M270.4 197.8h0M270.5 197.3h0M270.9 198.3h0M271.0 197.9h0M271.1 199.1h0M271.2 198.7h0M271.5 199.8h0M271.6 199.5h0M271.8 199.9h0M271.9 200.9h0M272.2 200.9h0M272.3 201.5h0M272.5 202.0h0M272.8 202.2h0M272.9 203.1h0M273.1 203.5h0M273.4 203.1h0M273.5 204.1h0M273.6 204.3h0M274.0 204.7h0M274.1 204.9h0M274.2 205.4h0M274.5 205.8h0M274.6 206.3h0M274.7 207.1h0M275.1 207.4h0M275.2 208.1h0M275.5 208.4h0M275.7 209.1h0M275.8 209.7h0M275.9 207.7h0M276.0 210.0h0M276.4 210.5h0M276.5 210.1h0M276.6 210.8h0M276.7 209.6h0M276.9 211.8h0M277.0 211.5h0M277.1 212.8h0M277.2 212.2h0M277.5 213.8h0M277.6 212.2h0M277.7 213.3h0M277.8 212.4h0M277.9 213.2h0M278.1 214.4h0M278.2 215.0h0M278.3 214.4h0M278.4 213.8h0M278.7 215.7h0M278.8 215.0h0M278.9 215.3h0M279.0 216.0h0M279.1 216.8h0M279.3 216.4h0M279.4 217.3h0M279.5 217.1h0M279.7 216.6h0M280.0 218.0h0M280.1 218.4h0M280.2 219.0h0M280.6 219.0h0M280.7 219.4h0M280.8 219.9h0M281.1 221.5h0M281.2 220.7h0M281.4 221.3h0M281.5 221.1h0M281.8 222.0h0M282.0 222.6h0M282.4 221.6h0M282.5 222.1h0M282.6 223.7h0M282.7 223.9h0M283.0 223.9h0M283.1 225.1h0M283.2 224.4h0M283.3 225.5h0M283.5 225.8h0M283.6 226.1h0M283.7 225.0h0M283.8 226.5h0M284.1 227.8h0M284.2 225.5h0M284.3 227.6h0M284.4 226.1h0M284.5 227.8h0M284.7 227.0h0M284.8 228.9h0M284.9 227.5h0M285.0 227.2h0M285.4 229.0h0M285.5 229.7h0M285.9 230.5h0M286.0 230.7h0M286.1 232.2h0M286.2 230.8h0M286.3 229.9h0M286.6 232.8h0M286.7 231.7h0M287.1 232.2h0M287.2 233.3h0M287.5 234.2h0M287.7 231.4h0M287.8 232.6h0M287.9 232.1h0M288.0 234.1h0M288.3 234.4h0M288.4 235.2h0M288.5 236.1h0M288.6 232.7h0M288.7 237.1h0M288.9 236.5h0M289.0 237.7h0M289.1 234.4h0M289.2 236.2h0M289.6 239.3h0M289.7 238.7h0M290.1 236.9h0M290.2 236.9h0M290.3 239.7h0M290.4 239.9h0M290.5 238.3h0M290.8 242.9h0M290.9 239.4h0M291.0 238.0h0M291.1 241.7h0M291.3 240.0h0M291.4 239.9h0M291.6 240.9h0M291.7 242.9h0M291.9 241.6h0M292.0 242.3h0M292.1 240.2h0M292.2 244.6h0M292.3 242.0h0M292.5 241.6h0M292.6 244.9h0M292.7 242.9h0M292.8 242.5h0M292.9 241.3h0M293.1 245.6h0M293.2 240.9h0M293.3 244.7h0M293.5 245.5h0M293.7 244.0h0M293.8 242.8h0M293.9 245.6h0M294.0 250.1h0M294.1 246.2h0M294.3 244.6h0M294.4 245.1h0M294.5 247.2h0M294.6 246.0h0M294.7 245.6h0M294.9 249.6h0M295.0 247.2h0M295.1 245.5h0M295.3 243.5h0M295.5 250.3h0M295.6 248.8h0M295.7 250.9h0M295.9 247.0h0M296.1 250.1h0M296.2 249.3h0M296.3 248.4h0M296.4 247.2h0M296.5 254.7h0M296.7 249.1h0M296.8 247.9h0M296.9 250.6h0M297.0 248.8h0M297.1 246.8h0M297.3 251.4h0M297.4 248.1h0M297.5 252.3h0M297.6 251.2h0M298.0 248.8h0M298.1 250.9h0M298.2 250.1h0M298.3 252.3h0M298.5 254.0h0M298.6 254.3h0M298.7 250.9h0M298.8 252.3h0M298.9 251.7h0M299.1 255.0h0M299.2 252.6h0M299.3 249.6h0M299.4 253.6h0M299.8 251.2h0M299.9 250.1h0M300.0 256.2h0M300.1 253.0h0M300.3 254.7h0M300.4 254.7h0M300.5 255.8h0M300.7 251.2h0M300.9 253.0h0M301.0 251.7h0M301.1 253.0h0M301.2 255.4h0M301.3 252.3h0M301.5 256.2h0M301.6 251.4h0M301.7 252.3h0M301.8 256.6h0M301.9 259.4h0M302.1 253.3h0M302.2 256.2h0M302.3 257.0h0M302.4 253.0h0M302.5 258.4h0M302.7 253.6h0M302.8 256.6h0M302.9 256.2h0M303.0 258.9h0M303.1 258.4h0M303.3 254.7h0M303.4 255.0h0M303.5 259.9h0M303.6 260.4h0M303.7 261.0h0M304.0 254.3h0M304.2 257.9h0M304.3 261.6h0M304.5 255.8h0M304.6 256.2h0M304.7 258.4h0M304.9 258.9h0M305.2 256.2h0M305.3 258.4h0M305.4 262.2h0M305.5 257.5h0M305.7 256.6h0M305.8 261.0h0M305.9 263.5h0M306.0 262.2h0M306.1 257.9h0M306.3 259.9h0M306.4 259.9h0M306.5 258.9h0M306.6 257.9h0M306.7 257.0h0M307.0 259.9h0M307.1 257.0h0M307.2 259.4h0M307.3 257.5h0M307.5 257.9h0M307.6 257.5h0M307.7 259.4h0M307.8 262.9h0M307.9 258.9h0M308.2 257.9h0M308.3 259.4h0M308.4 266.6h0M308.7 257.0h0M308.8 259.4h0M308.9 257.9h0M309.0 260.4h0M309.1 258.9h0M309.3 259.9h0M309.4 258.9h0M309.6 255.8h0M309.7 255.4h0M309.9 257.5h0M310.0 262.9h0M310.1 260.4h0M310.3 256.6h0M310.5 261.0h0M310.6 261.6h0M310.7 267.5h0M310.8 258.9h0M311.1 257.5h0M311.2 262.2h0M311.3 258.9h0M311.4 257.5h0M311.5 258.4h0M311.7 261.0h0M311.8 256.6h0M311.9 258.4h0M312.0 261.0h0M312.4 264.2h0M312.5 260.4h0M312.6 262.2h0M312.7 256.6h0M312.9 261.0h0M313.0 260.4h0M313.1 259.9h0M313.2 257.9h0M313.3 261.6h0M313.6 255.8h0M313.7 261.6h0M313.9 258.4h0M314.1 258.9h0M314.2 259.4h0M314.3 259.9h0M314.4 260.4h0M314.7 258.4h0M314.8 257.9h0M314.9 265.8h0M315.0 261.6h0M315.4 257.0h0M315.5 258.9h0M315.6 257.5h0M315.9 258.4h0M316.0 265.0h0M316.1 256.6h0M316.2 257.5h0M316.3 267.5h0M316.5 260.4h0M316.6 262.9h0M316.7 261.6h0M316.8 258.9h0M317.1 261.0h0M317.2 261.6h0M317.3 259.4h0M317.4 259.9h0M317.5 255.0h0M317.7 262.9h0M317.8 261.6h0M317.9 262.2h0M318.0 262.9h0M318.3 260.4h0M318.4 262.9h0M318.5 259.9h0M318.9 258.4h0M319.0 262.2h0M319.1 257.5h0M319.2 258.9h0M319.3 261.6h0M319.5 259.9h0M319.6 268.5h0M319.7 261.6h0M319.8 267.5h0M319.9 256.2h0M320.1 263.5h0M320.2 259.9h0M320.7 263.5h0M320.8 263.5h0M320.9 262.9h0M321.0 257.9h0M321.1 261.6h0M321.3 260.4h0M321.4 256.2h0M321.5 258.9h0M321.6 263.5h0M321.7 257.0h0M321.9 261.0h0M322.0 264.2h0M322.1 262.9h0M322.2 265.0h0M322.5 258.9h0M322.6 257.5h0M322.7 259.4h0M322.8 257.0h0M322.9 265.0h0M323.1 262.2h0M323.2 258.4h0M323.3 259.4h0M323.4 265.0h0M323.5 262.2h0M323.7 259.9h0M323.8 259.9h0M323.9 267.5h0M324.0 257.0h0M324.1 262.9h0M324.4 258.4h0M324.5 259.4h0M324.6 259.9h0M325.0 260.4h0M325.1 262.9h0M325.2 263.5h0M325.5 257.5h0M325.6 265.8h0M325.7 266.6h0M325.8 257.9h0M325.9 261.0h0M326.1 263.5h0M326.2 261.0h0M326.3 268.5h0M326.4 265.0h0M326.5 258.9h0M326.7 260.4h0M326.8 258.9h0M326.9 259.4h0M327.0 260.4h0M327.1 258.4h0M327.4 261.6h0M327.5 262.9h0M327.7 262.2h0M328.0 258.9h0M328.1 262.9h0M328.2 257.0h0M328.5 261.6h0M328.6 261.0h0M328.7 258.4h0M328.8 259.4h0M328.9 261.6h0M329.1 263.5h0M329.2 260.4h0M329.3 265.8h0M329.4 264.2h0M329.7 261.0h0M329.8 261.0h0M330.0 259.4h0M330.1 263.5h0M330.3 261.6h0M330.4 263.5h0M330.5 261.6h0M330.6 264.2h0M330.7 258.4h0M330.9 259.9h0M331.0 254.0h0M331.1 257.5h0M331.2 265.0h0M331.5 259.9h0M331.6 258.9h0M331.7 255.0h0M331.8 267.5h0M331.9 263.5h0M332.1 257.5h0M332.2 269.5h0M332.3 261.0h0M332.4 258.9h0M332.5 263.5h0M332.7 264.2h0M332.8 257.5h0M332.9 265.8h0M333.0 261.6h0M333.1 263.5h0M333.4 259.9h0M333.5 261.6h0M333.6 258.9h0M333.9 262.2h0M334.0 267.5h0M334.1 263.5h0M334.2 261.6h0M334.3 256.6h0M334.5 262.2h0M334.6 258.9h0M334.7 262.9h0M334.8 262.2h0M334.9 261.6h0M335.1 259.4h0M335.2 261.6h0M335.3 259.4h0M335.4 262.2h0M335.5 263.5h0M335.7 265.0h0M335.8 263.5h0M335.9 260.4h0M336.0 264.2h0M336.1 262.9h0M336.3 267.5h0M336.4 259.4h0M336.5 259.9h0M336.6 264.2h0M336.7 261.6h0M336.9 265.8h0M337.0 257.5h0M337.1 267.5h0M337.2 262.9h0M337.3 257.0h0M337.6 257.5h0M337.7 276.2h0M337.8 263.5h0M337.9 256.6h0M338.1 258.4h0M338.2 263.5h0M338.4 258.4h0M338.5 261.6h0M338.7 262.9h0M338.8 257.5h0M338.9 257.0h0M339.0 261.0h0M339.1 263.5h0M339.3 260.4h0M339.4 261.6h0M339.5 264.2h0M339.9 263.5h0M340.0 258.4h0M340.1 259.4h0M340.2 264.2h0M340.5 260.4h0M340.6 265.0h0M340.7 262.9h0M340.8 261.0h0M340.9 258.4h0M341.1 259.9h0M341.2 266.6h0M341.4 267.5h0M341.5 259.9h0M341.7 258.9h0M341.8 261.6h0M341.9 262.2h0M342.1 259.9h0M342.3 257.9h0M342.4 260.4h0M342.5 259.9h0M342.6 261.0h0M342.7 265.0h0M342.9 263.5h0M343.0 260.4h0M343.1 261.0h0M343.2 259.9h0M343.5 265.0h0M343.6 262.9h0M343.7 261.6h0M343.8 258.4h0M343.9 256.6h0M344.2 262.2h0M344.3 259.9h0M344.4 261.0h0M344.5 260.4h0M344.8 261.6h0M344.9 264.2h0M345.0 258.9h0M345.3 265.8h0M345.4 257.5h0M345.6 262.2h0M345.7 259.9h0M345.9 258.4h0M346.0 267.5h0M346.2 258.4h0M346.3 262.2h0M346.6 261.0h0M346.7 258.9h0M346.8 259.4h0M346.9 262.9h0M347.1 268.5h0M347.2 263.5h0M347.3 264.2h0M347.4 262.2h0M347.5 261.6h0M347.7 257.5h0M347.8 259.9h0M347.9 265.0h0M348.0 261.6h0M348.1 266.6h0M348.3 262.9h0M348.4 262.2h0M348.5 259.4h0M348.7 265.0h0M348.9 257.0h0M349.0 258.9h0M349.1 261.0h0M349.2 260.4h0M349.3 268.5h0M349.5 258.4h0M349.6 262.9h0M349.7 265.8h0M349.8 263.5h0M349.9 259.4h0M350.1 262.2h0M350.2 265.8h0M350.3 259.4h0M350.4 261.0h0M350.7 261.6h0M350.8 258.9h0M350.9 259.9h0M351.0 262.9h0M351.3 257.0h0M351.4 259.4h0M351.5 257.9h0M351.9 262.2h0M352.0 264.2h0M352.1 258.4h0M352.2 257.0h0M352.3 259.4h0M352.5 261.0h0M352.6 257.5h0M352.7 261.6h0M352.9 265.8h0M353.1 259.9h0M353.2 256.2h0M353.3 261.0h0M353.4 257.9h0M353.5 258.4h0M353.7 259.4h0M353.8 263.5h0M354.0 260.4h0M354.1 265.0h0M354.3 261.0h0M354.4 259.4h0M354.5 259.9h0M354.6 261.0h0M354.7 262.2h0M354.9 264.2h0M355.0 258.4h0M355.1 262.2h0M355.2 265.0h0M355.5 257.9h0M355.6 265.8h0M355.8 262.9h0M355.9 259.4h0M356.1 265.0h0M356.2 256.2h0M356.3 263.5h0M356.4 268.5h0M356.5 260.4h0M356.7 261.0h0M356.8 258.9h0M357.0 260.4h0M357.1 262.2h0M357.3 265.0h0M357.4 261.0h0M357.5 262.2h0M357.6 259.4h0M357.7 262.9h0M357.9 258.9h0M358.0 261.0h0M358.1 261.6h0M358.2 263.5h0M358.6 267.5h0M358.7 261.6h0M358.8 265.8h0M358.9 262.2h0M359.1 261.0h0M359.2 262.9h0M359.3 258.4h0M359.4 257.0h0M359.5 265.8h0M359.8 262.2h0M359.9 262.9h0M360.0 261.6h0M360.1 261.0h0M360.3 265.0h0M360.4 261.0h0M360.5 270.6h0M360.6 262.9h0M360.7 259.9h0M360.9 261.6h0M361.0 261.0h0M361.1 264.2h0M361.2 259.9h0M361.3 260.4h0M361.5 265.0h0M361.6 258.9h0M361.7 259.9h0M361.8 267.5h0M361.9 263.5h0M362.1 261.0h0M362.2 258.9h0M362.3 263.5h0M362.4 259.9h0M362.7 257.0h0M362.8 257.0h0M362.9 266.6h0M363.0 264.2h0M363.1 258.4h0M363.3 262.9h0M363.4 261.6h0M363.5 267.5h0M363.6 266.6h0M363.7 258.9h0M364.0 261.6h0M364.1 259.9h0M364.2 259.4h0M364.3 258.9h0M364.6 266.6h0M364.7 260.4h0M364.8 261.0h0M364.9 265.0h0M365.1 257.0h0M365.2 261.6h0M365.3 261.0h0M365.4 259.4h0M365.5 262.2h0M365.7 264.2h0M365.8 262.9h0M365.9 263.5h0M366.1 260.4h0M366.3 264.2h0M366.4 263.5h0M366.5 259.9h0M366.6 260.4h0M366.7 261.0h0M366.9 261.6h0M367.0 262.9h0M367.1 264.2h0M367.2 257.5h0M367.3 262.2h0M367.5 259.4h0M367.6 259.9h0M367.8 265.0h0M367.9 266.6h0M368.1 261.6h0M368.2 254.0h0M368.3 262.9h0M368.4 261.6h0M368.5 259.9h0M368.7 263.5h0M368.8 262.9h0M368.9 265.0h0M369.0 257.9h0M369.1 265.8h0M369.4 262.2h0M369.5 259.4h0M369.6 260.4h0M369.9 264.2h0M370.0 265.8h0M370.1 261.6h0M370.2 264.2h0M370.3 261.0h0M370.5 260.4h0M370.6 262.9h0M370.7 261.0h0M370.8 265.0h0M370.9 259.9h0M371.1 263.5h0M371.2 260.4h0M371.3 262.2h0M371.4 261.6h0M371.5 265.0h0M371.7 257.0h0M371.8 265.0h0M371.9 265.8h0M372.0 262.9h0M372.1 261.0h0M372.4 261.0h0M372.5 259.9h0M372.6 258.9h0M372.7 265.0h0M372.9 262.2h0M373.0 257.5h0M373.1 265.0h0M373.2 262.9h0M373.3 256.6h0M373.5 257.9h0M373.6 268.5h0M373.7 258.9h0M373.8 263.5h0M373.9 261.6h0M374.1 260.4h0M374.2 262.2h0M374.3 257.9h0M374.4 262.9h0M374.5 261.6h0M374.7 260.4h0M374.8 259.4h0M374.9 263.5h0M375.0 261.0h0M375.1 258.4h0M375.3 262.2h0M375.4 261.0h0M375.5 267.5h0M375.7 257.0h0M375.9 258.9h0M376.0 261.0h0M376.1 263.5h0M376.2 261.6h0M376.3 260.4h0M376.6 260.4h0M376.7 255.4h0M376.8 259.9h0M377.2 261.6h0M377.3 263.5h0M377.4 259.9h0M377.5 257.0h0M377.7 255.4h0M377.8 260.4h0M377.9 258.4h0M378.0 257.0h0M378.1 262.9h0M378.3 261.0h0M378.4 264.2h0M378.5 267.5h0M378.6 255.0h0M378.7 257.0h0M378.9 265.8h0M379.0 261.0h0M379.1 258.9h0M379.2 263.5h0M379.3 255.8h0M379.6 265.8h0M379.7 261.6h0M379.8 261.0h0M379.9 259.4h0M380.2 261.6h0M380.3 261.0h0M380.4 265.8h0M380.5 259.4h0M380.8 257.9h0M380.9 259.9h0M381.0 261.6h0M381.1 264.2h0M381.3 261.0h0M381.4 259.4h0M381.5 259.9h0M381.6 265.8h0M381.7 258.9h0M381.9 262.9h0M382.0 264.2h0M382.1 259.4h0M382.2 265.0h0M382.3 255.8h0M382.6 261.0h0M382.7 255.4h0M382.9 265.8h0M383.1 263.5h0M383.2 258.9h0M383.3 263.5h0M383.4 260.4h0M383.5 258.4h0M383.7 265.0h0M383.8 259.9h0M383.9 264.2h0M384.0 266.6h0M384.1 260.4h0M384.4 257.9h0M384.5 261.0h0M384.6 262.2h0M384.9 269.5h0M385.0 258.9h0M385.1 260.4h0M385.2 258.4h0M385.3 256.6h0M385.5 265.0h0M385.6 264.2h0M385.7 265.0h0M385.8 269.5h0M386.2 258.9h0M386.3 262.2h0M386.4 259.4h0M386.5 258.4h0M386.7 263.5h0M386.8 258.4h0M386.9 260.4h0M387.0 259.9h0M387.1 264.2h0M387.4 261.0h0M387.5 266.6h0M387.6 262.2h0M387.7 263.5h0M387.9 262.9h0M388.0 264.2h0M388.1 267.5h0M388.2 257.5h0M388.3 260.4h0M388.5 262.9h0M388.6 258.9h0M388.7 259.9h0M388.8 262.2h0M389.1 268.5h0M389.2 262.2h0M389.3 261.6h0M389.4 267.5h0M389.5 263.5h0M389.7 259.4h0M389.8 262.2h0M389.9 257.9h0M390.0 261.0h0M390.1 263.5h0M390.3 262.9h0M390.4 262.9h0M390.5 259.4h0M390.6 265.8h0M390.7 260.4h0M391.0 262.9h0M391.2 263.5h0M391.3 264.2h0M391.5 259.4h0M391.6 263.5h0M391.8 262.2h0M391.9 260.4h0M392.1 265.0h0M392.2 261.0h0M392.3 260.4h0M392.4 255.0h0M392.5 259.9h0M392.8 261.6h0M392.9 259.9h0M393.0 262.2h0M393.3 265.8h0M393.4 261.6h0M393.5 258.4h0M393.6 258.9h0M394.0 264.2h0M394.1 260.4h0M394.2 261.6h0M394.3 262.2h0M394.5 261.0h0M394.6 264.2h0M394.7 260.4h0M394.8 259.9h0M394.9 263.5h0M395.1 265.8h0M395.2 262.9h0M395.3 259.9h0M395.4 256.6h0M395.5 257.0h0M395.7 265.8h0M395.8 260.4h0M395.9 257.9h0M396.0 265.8h0M396.1 262.9h0M396.3 254.3h0M396.4 256.2h0M396.5 265.8h0M396.6 264.2h0M396.9 261.0h0M397.0 261.0h0M397.1 258.4h0M397.2 259.4h0M397.3 257.5h0M397.5 257.0h0M397.6 261.6h0M397.7 262.2h0M397.8 261.0h0M398.1 265.0h0M398.2 261.6h0M398.3 260.4h0M398.4 263.5h0M398.5 258.9h0M398.8 261.0h0M398.9 259.4h0M399.0 262.9h0M399.1 262.2h0M399.3 268.5h0M399.4 260.4h0M399.5 265.0h0M399.6 259.4h0M399.7 261.6h0M399.9 256.6h0M400.0 263.5h0M400.1 261.6h0M400.2 262.2h0M400.3 262.9h0M400.6 260.4h0M400.7 264.2h0M400.8 262.2h0M400.9 262.9h0M401.1 259.9h0M401.2 256.6h0M401.3 261.6h0M401.4 259.9h0M401.5 257.5h0M401.7 257.0h0M401.8 258.9h0M401.9 261.6h0M402.0 261.0h0M402.3 266.6h0M402.4 265.0h0M402.5 260.4h0M402.6 257.0h0M402.7 263.5h0M402.9 261.6h0M403.0 265.0h0M403.1 257.9h0M403.2 262.9h0M403.3 265.8h0M403.5 267.5h0M403.6 257.9h0M403.7 262.9h0M403.8 261.0h0M403.9 260.4h0M404.1 261.6h0M404.2 260.4h0M404.3 257.9h0M404.5 266.6h0M404.7 261.6h0M404.8 258.4h0M404.9 258.9h0M405.0 259.9h0M405.4 263.5h0M405.5 259.9h0M405.6 261.6h0M405.9 259.4h0M406.0 264.2h0M406.1 262.9h0M406.2 260.4h0M406.3 262.2h0M406.5 265.8h0M406.6 273.1h0M406.7 266.6h0M406.8 258.9h0M406.9 264.2h0M407.1 260.4h0M407.2 262.2h0M407.3 261.6h0M407.4 265.0h0M407.5 260.4h0M407.7 257.9h0M407.8 262.9h0M407.9 278.0h0M408.0 265.0h0M408.1 259.4h0M408.3 259.9h0M408.4 265.0h0M408.5 261.6h0M408.6 261.0h0M408.7 257.9h0M408.9 260.4h0M409.0 264.2h0M409.2 262.9h0M409.3 258.4h0M409.5 260.4h0M409.6 261.6h0M409.7 259.9h0M409.8 257.9h0M409.9 255.4h0M410.1 260.4h0M410.2 261.0h0M410.3 262.2h0M410.4 265.0h0M410.5 259.9h0M410.7 257.5h0M410.8 262.9h0M410.9 260.4h0M411.1 265.8h0M411.4 258.9h0M411.5 259.4h0M411.6 260.4h0M411.7 265.0h0M412.0 260.4h0M412.1 262.9h0M412.2 259.9h0M412.3 262.2h0M412.5 261.6h0M412.6 260.4h0M412.7 271.8h0M412.8 258.9h0M412.9 262.9h0M413.1 261.0h0M413.2 264.2h0M413.3 261.6h0M413.4 259.4h0M413.7 258.4h0M413.8 265.8h0M413.9 256.6h0M414.0 257.0h0M414.1 260.4h0M414.3 265.0h0M414.4 257.9h0M414.5 261.0h0M414.6 257.0h0M414.7 262.2h0M414.9 262.9h0M415.0 265.0h0M415.1 257.0h0M415.2 267.5h0M415.3 261.6h0M415.5 265.8h0M415.6 261.0h0M415.7 258.4h0M415.8 258.9h0M415.9 257.9h0M416.1 254.7h0M416.2 262.2h0M416.3 263.5h0M416.4 258.9h0M416.7 265.0h0M416.8 260.4h0M416.9 259.9h0M417.0 274.6h0M417.1 255.4h0M417.3 268.5h0M417.4 259.9h0M417.5 261.6h0M417.6 258.9h0M417.7 262.2h0M418.0 258.9h0M418.2 261.0h0M418.3 258.4h0M418.5 260.4h0M418.6 257.9h0M418.7 261.6h0M418.8 259.4h0M418.9 260.4h0M419.1 258.9h0M419.2 260.4h0M419.3 262.2h0M419.4 265.8h0M419.5 265.0h0M419.7 259.9h0M419.8 261.0h0M420.0 263.5h0M420.1 261.6h0M420.4 257.9h0M420.5 264.2h0M420.6 263.5h0M420.7 259.9h0M421.0 263.5h0M421.1 257.9h0M421.2 265.0h0M421.3 260.4h0M421.5 261.0h0M421.6 259.9h0M421.7 259.4h0M421.8 263.5h0M421.9 261.0h0M422.1 262.2h0M422.2 259.4h0M422.3 261.6h0M422.4 262.9h0M422.8 264.2h0M422.9 262.9h0M423.0 261.6h0M423.1 262.2h0M423.4 264.2h0M423.5 259.9h0M423.6 257.0h0M423.7 261.0h0M423.9 262.9h0M424.0 258.4h0M424.1 265.0h0M424.2 265.8h0M424.3 258.9h0M424.6 263.5h0M424.7 262.2h0M424.9 259.4h0M425.1 265.0h0M425.2 257.0h0M425.3 262.2h0M425.4 259.9h0M425.5 257.9h0M425.7 260.4h0M425.8 262.2h0M426.0 257.5h0M426.1 260.4h0M426.3 268.5h0M426.4 264.2h0M426.5 263.5h0M426.6 258.9h0M426.7 266.6h0M426.9 262.2h0M427.0 269.5h0M427.1 265.8h0M427.2 262.9h0M427.3 255.4h0M427.5 258.9h0M427.6 262.9h0M427.7 267.5h0M427.8 257.9h0M427.9 259.9h0M428.1 261.6h0M428.2 259.9h0M428.3 265.8h0M428.4 261.6h0M428.5 263.5h0M428.8 266.6h0M428.9 265.0h0M429.0 261.6h0M429.1 264.2h0M429.3 261.0h0M429.4 261.0h0M429.5 269.5h0M429.6 260.4h0M429.7 261.6h0M429.9 262.2h0M430.0 263.5h0M430.1 262.2h0M430.2 264.2h0M430.3 261.0h0M430.5 256.6h0M430.6 258.9h0M430.7 257.9h0M430.8 261.0h0M430.9 263.5h0M431.1 265.0h0M431.2 258.4h0M431.3 257.9h0M431.4 259.9h0M431.5 260.4h0M431.8 265.8h0M431.9 263.5h0M432.1 259.9h0M432.3 260.4h0M432.4 261.0h0M432.5 264.2h0M432.6 262.2h0M432.7 259.4h0M433.0 259.4h0M433.1 260.4h0M433.2 267.5h0M433.3 265.8h0M433.5 261.0h0M433.6 262.2h0M433.7 263.5h0M433.8 256.2h0M433.9 259.4h0M434.1 261.6h0M434.2 262.9h0M434.3 260.4h0M434.4 257.0h0M434.5 264.2h0M434.7 265.0h0M434.8 264.2h0M434.9 260.4h0M435.1 257.5h0M435.3 258.4h0M435.4 256.2h0M435.5 261.6h0M435.6 265.0h0M435.7 267.5h0M435.9 258.4h0M436.0 262.9h0M436.1 265.0h0M436.2 257.9h0M436.3 263.5h0M436.5 259.9h0M436.6 260.4h0M436.7 263.5h0M436.8 267.5h0M436.9 264.2h0M437.1 262.9h0M437.2 266.6h0M437.3 262.2h0M437.4 262.9h0M437.5 263.5h0M437.7 261.6h0M437.8 258.4h0M437.9 262.2h0M438.0 263.5h0M438.1 261.0h0M438.3 256.6h0M438.4 258.4h0M438.5 261.6h0M438.6 263.5h0M438.7 261.0h0M438.9 265.0h0M439.0 266.6h0M439.2 259.9h0M439.3 257.9h0M439.5 256.2h0M439.6 259.4h0M439.7 262.2h0M439.8 258.4h0M440.1 257.9h0M440.2 260.4h0M440.3 261.0h0M440.4 259.9h0M440.5 259.4h0M440.7 262.9h0M440.8 260.4h0M440.9 258.9h0M441.0 259.9h0M441.1 261.0h0M441.4 264.2h0M441.5 260.4h0M441.6 261.6h0M441.7 259.9h0M441.9 265.0h0M442.0 261.0h0M442.1 265.8h0M442.2 262.2h0M442.3 261.6h0M442.5 260.4h0M442.6 259.9h0M442.7 262.9h0M442.8 259.4h0M442.9 262.2h0M443.1 257.0h0M443.2 262.9h0M443.3 260.4h0M443.5 261.0h0M443.7 262.2h0M443.8 264.2h0M443.9 255.0h0M444.0 269.5h0M444.1 263.5h0M444.3 257.9h0M444.4 259.9h0M444.5 262.2h0M444.6 261.0h0M444.7 259.4h0M444.9 271.8h0M445.0 265.0h0M445.1 266.6h0M445.2 259.9h0M445.3 267.5h0M445.5 260.4h0M445.6 259.9h0M445.7 258.4h0M445.8 262.9h0M445.9 261.0h0M446.2 261.6h0M446.4 259.4h0M446.5 259.9h0M446.7 257.0h0M446.8 262.2h0M446.9 264.2h0M447.0 259.9h0M447.1 265.8h0M447.3 257.9h0M447.4 261.6h0M447.5 262.2h0M447.6 263.5h0M447.7 261.0h0" stroke="#000" stroke-width="3.5" stroke-linecap="round" fill="none"/><path d="M263.5 185.9h0M264.7 185.4h0M265.2 186.0h0M265.8 188.0h0M265.9 187.7h0M267.1 190.7h0M268.3 193.4h0M268.9 194.6h0M269.3 195.2h0M271.5 200.5h0M271.8 200.5h0M271.9 201.1h0M272.7 203.1h0M275.1 208.0h0M276.1 209.7h0M276.5 211.4h0M276.6 211.1h0M277.1 213.4h0M277.4 212.0h0M277.5 212.8h0M277.9 214.0h0M278.3 215.3h0M278.5 214.9h0M279.1 216.7h0M279.3 216.2h0M279.7 218.0h0M279.8 218.6h0M280.4 219.5h0M280.7 221.1h0M281.0 220.9h0M283.3 224.6h0M283.4 226.1h0M284.0 225.7h0M284.4 228.5h0M285.0 228.6h0M286.2 232.4h0M286.3 231.3h0M287.1 233.8h0M287.5 231.7h0M287.9 234.0h0M288.2 232.3h0M288.6 237.3h0M289.2 238.9h0M289.3 238.3h0M289.8 236.5h0M289.9 239.3h0M290.4 242.5h0M290.5 239.0h0M290.6 237.6h0M291.2 240.5h0M291.3 242.5h0M291.8 244.2h0M291.9 241.6h0M292.2 244.5h0M292.5 240.9h0M292.7 245.2h0M293.3 243.6h0M293.4 242.4h0M293.5 245.2h0M293.7 245.8h0M293.9 244.2h0M294.5 249.2h0M294.6 246.8h0M295.7 249.7h0M296.3 248.7h0M296.4 247.5h0M296.5 250.2h0M296.6 248.4h0M296.9 251.0h0M297.1 251.9h0M298.2 253.9h0M298.4 251.9h0M298.5 251.3h0M299.5 249.7h0M299.6 255.8h0M300.3 250.8h0M300.7 252.6h0M301.3 251.9h0M301.7 252.9h0M301.8 255.8h0M301.9 256.6h0M302.5 255.8h0M302.6 258.5h0M302.7 258.0h0M302.9 254.3h0M303.0 254.6h0M303.3 260.6h0M303.8 257.5h0M303.9 261.2h0M304.8 255.8h0M304.9 258.0h0M305.0 261.8h0M305.5 263.1h0M305.6 261.8h0M307.4 262.5h0M307.9 259.0h0M309.0 258.5h0M309.3 255.0h0M310.4 258.5h0M310.8 261.8h0M310.9 258.5h0M311.1 258.0h0M311.3 260.6h0M311.4 256.2h0M311.6 260.6h0M312.0 263.8h0M312.2 261.8h0M313.2 255.4h0M313.8 259.0h0M314.3 258.0h0M314.4 257.5h0M315.0 256.6h0M315.1 258.5h0M315.2 257.1h0M316.3 261.2h0M317.0 259.5h0M318.1 259.5h0M318.5 258.0h0M319.2 268.1h0M319.3 261.2h0M319.4 267.1h0M319.7 263.1h0M319.8 259.5h0M320.5 262.5h0M321.1 258.5h0M321.2 263.1h0M321.3 256.6h0M321.7 262.5h0M322.1 258.5h0M322.3 259.0h0M324.2 259.5h0M324.6 260.0h0M325.3 266.2h0M325.4 257.5h0M325.5 260.6h0M325.7 263.1h0M326.1 258.5h0M326.4 258.5h0M326.7 258.0h0M327.0 261.2h0M327.3 261.8h0M328.1 261.2h0M328.2 260.6h0M328.5 261.2h0M329.3 260.6h0M329.4 260.6h0M329.7 263.1h0M330.1 261.2h0M330.7 257.1h0M331.3 254.6h0M331.9 260.6h0M332.6 261.2h0M333.1 261.2h0M333.6 267.1h0M333.8 261.2h0M333.9 256.2h0M334.7 259.0h0M334.8 261.2h0M334.9 259.0h0M335.6 263.8h0M336.0 259.0h0M336.2 263.8h0M336.6 257.1h0M337.4 263.1h0M337.5 256.2h0M337.7 258.0h0M337.8 263.1h0M338.3 262.5h0M338.4 257.1h0M339.1 263.8h0M339.6 258.0h0M340.1 260.0h0M340.2 264.6h0M340.4 260.6h0M341.9 257.5h0M342.5 263.1h0M343.3 261.2h0M343.5 256.2h0M344.6 258.5h0M345.2 261.8h0M345.5 258.0h0M345.6 267.1h0M346.2 260.6h0M346.5 262.5h0M347.3 257.1h0M348.1 259.0h0M348.3 264.6h0M348.5 256.6h0M348.6 258.5h0M348.7 260.6h0M349.4 263.1h0M349.9 259.0h0M351.0 259.0h0M351.1 257.5h0M351.5 261.8h0M351.7 258.0h0M351.9 259.0h0M352.1 260.6h0M352.2 257.1h0M352.5 265.4h0M352.7 259.5h0M352.8 255.8h0M352.9 260.6h0M353.1 258.0h0M353.3 259.0h0M353.9 260.6h0M354.2 260.6h0M354.5 263.8h0M354.6 258.0h0M354.8 264.6h0M355.2 265.4h0M355.4 262.5h0M355.5 259.0h0M355.8 255.8h0M356.3 260.6h0M356.4 258.5h0M356.6 260.0h0M357.0 260.6h0M357.1 261.8h0M357.6 260.6h0M357.7 261.2h0M357.8 263.1h0M358.2 267.1h0M358.3 261.2h0M358.4 265.4h0M358.8 262.5h0M359.6 261.2h0M359.7 260.6h0M360.1 270.2h0M360.2 262.5h0M360.5 261.2h0M360.7 263.8h0M361.1 264.6h0M362.0 259.5h0M362.5 266.2h0M362.6 263.8h0M363.3 258.5h0M363.7 259.5h0M364.3 260.0h0M364.4 260.6h0M365.4 262.5h0M365.7 260.0h0M366.1 259.5h0M366.3 260.6h0M366.5 261.2h0M366.7 263.8h0M366.8 257.1h0M366.9 261.8h0M367.4 264.6h0M367.5 266.2h0M367.8 253.6h0M368.6 257.5h0M368.7 265.4h0M369.0 261.8h0M369.2 260.0h0M369.5 263.8h0M369.7 261.2h0M369.9 260.6h0M370.2 262.5h0M370.9 261.8h0M371.3 256.6h0M371.7 260.6h0M372.3 264.6h0M372.5 261.8h0M372.7 264.6h0M373.4 263.1h0M373.8 261.8h0M374.0 262.5h0M374.1 261.2h0M374.3 260.0h0M376.8 261.2h0M377.0 259.5h0M377.1 256.6h0M377.4 260.0h0M377.7 262.5h0M378.0 263.8h0M378.2 254.6h0M378.6 260.6h0M378.7 258.5h0M378.8 263.1h0M379.2 265.4h0M379.3 261.2h0M380.4 257.5h0M380.5 259.5h0M381.2 265.4h0M381.7 259.0h0M381.8 264.6h0M382.2 260.6h0M382.3 255.0h0M382.8 258.5h0M382.9 263.1h0M383.0 260.0h0M383.7 260.0h0M384.0 257.5h0M384.1 260.6h0M384.5 269.1h0M384.6 258.5h0M384.8 258.0h0M384.9 256.2h0M385.1 264.6h0M385.4 269.1h0M385.8 258.5h0M386.5 260.0h0M386.6 259.5h0M387.5 262.5h0M387.6 263.8h0M387.7 267.1h0M389.1 263.1h0M389.3 259.0h0M390.6 262.5h0M390.8 263.1h0M391.8 260.6h0M392.4 261.2h0M392.9 265.4h0M393.9 261.8h0M394.2 263.8h0M394.5 263.1h0M394.7 265.4h0M395.0 256.2h0M395.3 265.4h0M395.4 260.0h0M395.5 257.5h0M395.7 262.5h0M395.9 253.9h0M396.0 255.8h0M396.1 265.4h0M396.9 257.1h0M397.1 256.6h0M397.3 261.8h0M397.4 260.6h0M397.8 261.2h0M398.0 263.1h0M398.1 258.5h0M398.5 259.0h0M398.7 261.8h0M399.2 259.0h0M399.3 261.2h0M399.6 263.1h0M399.7 261.2h0M400.2 260.0h0M400.7 259.5h0M401.0 259.5h0M401.1 257.1h0M401.3 256.6h0M401.4 258.5h0M401.9 266.2h0M402.0 264.6h0M402.5 261.2h0M403.1 267.1h0M403.2 257.5h0M403.3 262.5h0M404.5 258.5h0M405.2 261.2h0M405.7 262.5h0M405.8 260.0h0M405.9 261.8h0M406.1 265.4h0M406.5 263.8h0M406.7 260.0h0M407.5 277.6h0M407.9 259.5h0M408.1 261.2h0M408.5 260.0h0M409.4 257.5h0M409.7 260.0h0M409.8 260.6h0M410.1 259.5h0M410.4 262.5h0M411.9 261.8h0M412.4 258.5h0M413.0 259.0h0M414.0 257.5h0M414.8 267.1h0M414.9 261.2h0M415.3 258.0h0M415.4 258.5h0M415.5 257.5h0M415.7 254.3h0M415.8 261.8h0M417.1 261.2h0M417.9 258.0h0M418.1 260.0h0M418.4 259.0h0M418.5 260.0h0M418.8 260.0h0M419.0 265.4h0M419.1 264.6h0M420.2 263.1h0M420.7 257.5h0M421.2 259.5h0M421.3 259.0h0M421.9 261.2h0M422.6 261.2h0M423.0 263.8h0M423.2 256.6h0M423.7 264.6h0M423.8 265.4h0M424.5 259.0h0M425.0 259.5h0M425.1 257.5h0M425.4 261.8h0M426.5 261.8h0M426.6 269.1h0M426.8 262.5h0M426.9 255.0h0M427.2 262.5h0M427.5 259.5h0M427.9 265.4h0M428.0 261.2h0M428.1 263.1h0M428.9 260.6h0M429.2 260.0h0M429.3 261.2h0M429.5 261.8h0M429.7 261.8h0M429.8 263.8h0M429.9 260.6h0M430.3 257.5h0M430.5 263.1h0M430.9 257.5h0M432.0 260.6h0M432.7 260.0h0M433.1 260.6h0M433.4 255.8h0M433.8 262.5h0M434.0 256.6h0M434.4 263.8h0M435.7 264.6h0M435.8 257.5h0M436.2 260.0h0M437.0 262.5h0M437.1 263.1h0M437.9 256.2h0M438.3 260.6h0M438.6 266.2h0M438.9 257.5h0M439.2 259.0h0M439.7 257.5h0M439.8 260.0h0M440.0 259.5h0M440.3 262.5h0M440.4 260.0h0M441.2 261.2h0M441.3 259.5h0M441.5 264.6h0M441.7 265.4h0M442.2 259.5h0M442.4 259.0h0M442.8 262.5h0M442.9 260.0h0M443.6 269.1h0M444.0 259.5h0M444.3 259.0h0M444.6 264.6h0M444.8 259.5h0M446.1 259.5h0M446.6 259.5h0M446.7 265.4h0M447.0 261.2h0" stroke="#9a9a9a" stroke-width="0.9" stroke-linecap="round" fill="none"/>
<path d="M263.9 185.9h0M264.1 186.3h0M264.3 186.9h0M264.4 187.4h0M264.6 188.0h0M265.0 188.8h0M265.2 189.5h0M265.3 189.9h0M265.6 190.8h0M265.7 190.6h0M265.8 191.4h0M266.2 191.8h0M266.3 192.7h0M266.5 193.1h0M266.7 193.7h0M266.8 194.2h0M267.0 194.3h0M267.1 194.8h0M267.4 195.5h0M267.5 196.0h0M267.7 196.3h0M268.0 197.0h0M268.1 197.3h0M268.2 197.8h0M268.6 197.9h0M268.7 198.6h0M268.9 199.6h0M269.1 200.0h0M269.2 200.2h0M269.4 200.5h0M269.5 201.2h0M269.8 201.7h0M270.0 202.4h0M270.1 201.8h0M270.4 202.0h0M270.5 203.1h0M270.6 203.4h0M271.0 204.3h0M271.1 204.0h0M271.6 205.0h0M271.7 205.3h0M271.9 205.8h0M272.2 206.2h0M272.3 206.9h0M272.5 207.4h0M272.8 207.2h0M272.9 207.5h0M273.0 208.1h0M273.1 208.3h0M273.4 208.0h0M273.5 208.8h0M274.0 208.7h0M274.1 209.9h0M274.2 209.6h0M274.6 210.3h0M274.7 211.2h0M275.1 211.4h0M275.2 211.3h0M275.3 211.2h0M275.4 212.1h0M275.8 212.0h0M276.3 212.8h0M276.4 213.5h0M276.5 212.5h0M276.7 213.0h0M276.9 214.4h0M277.0 213.7h0M277.1 214.7h0M277.5 214.9h0M277.6 214.8h0M277.7 213.8h0M278.2 215.3h0M278.3 215.0h0M278.4 216.1h0M278.8 216.1h0M278.9 215.3h0M279.0 217.1h0M279.4 216.9h0M279.6 216.1h0M280.0 216.1h0M280.1 217.6h0M280.5 218.1h0M280.6 217.4h0M280.7 219.0h0M280.8 218.0h0M281.2 218.2h0M281.4 218.9h0M281.5 220.2h0M281.7 219.7h0M281.8 219.5h0M282.1 219.1h0M282.3 219.9h0M282.4 218.4h0M282.5 220.2h0M282.6 220.3h0M283.0 219.5h0M283.1 220.7h0M283.2 220.1h0M283.5 220.8h0M283.6 220.9h0M283.7 219.8h0M283.8 221.3h0M284.2 221.8h0M284.3 221.2h0M284.4 221.3h0M284.5 220.7h0M284.8 221.7h0M284.9 222.0h0M285.0 221.1h0M285.1 220.6h0M285.4 223.0h0M285.5 222.0h0M285.6 221.6h0M285.9 221.0h0M286.0 222.3h0M286.3 222.2h0M286.6 223.7h0M286.7 222.8h0M286.8 221.3h0M287.2 222.9h0M287.3 224.2h0M287.4 223.5h0M287.8 224.7h0M287.9 223.3h0M288.0 223.9h0M288.3 224.9h0M288.4 224.0h0M288.5 224.4h0M288.6 225.2h0M288.7 225.3h0M289.0 224.6h0M289.1 224.8h0M289.2 224.0h0M289.5 225.5h0M289.6 225.4h0M289.7 226.0h0M290.1 226.5h0M290.2 226.4h0M290.3 224.9h0M290.4 226.0h0M290.7 226.8h0M290.8 225.7h0M290.9 226.3h0M291.0 225.8h0M291.1 227.5h0M291.4 226.0h0M291.6 226.5h0M291.7 227.5h0M292.0 228.3h0M292.1 226.6h0M292.2 225.9h0M292.3 227.2h0M292.6 228.1h0M292.7 227.1h0M293.1 227.5h0M293.2 228.9h0M293.4 226.6h0M293.5 229.6h0M293.8 230.5h0M293.9 229.0h0M294.0 227.3h0M294.1 229.6h0M294.3 228.1h0M294.4 229.0h0M294.5 228.5h0M294.9 229.3h0M295.0 229.2h0M295.1 228.6h0M295.3 230.1h0M295.5 230.8h0M295.6 230.6h0M295.7 230.9h0M295.8 229.8h0M295.9 228.7h0M296.2 230.2h0M296.5 229.0h0M296.8 232.0h0M296.9 231.1h0M297.3 230.2h0M297.4 231.3h0M297.5 229.2h0M297.7 230.9h0M297.9 230.1h0M298.0 231.5h0M298.1 230.9h0M298.6 233.4h0M298.7 231.7h0M298.8 232.7h0M299.1 231.8h0M299.2 232.1h0M299.3 233.1h0M299.4 232.5h0M299.5 233.7h0M299.7 231.5h0M299.8 232.7h0M299.9 232.0h0M300.3 231.7h0M300.4 232.7h0M300.5 231.9h0M300.7 231.2h0M300.9 233.7h0M301.0 233.3h0M301.1 232.1h0M301.2 232.7h0M301.5 233.8h0M301.6 234.5h0M301.7 232.9h0M301.8 234.0h0M301.9 233.3h0M302.2 234.6h0M302.3 233.1h0M302.4 233.3h0M302.8 233.8h0M302.9 233.5h0M303.1 237.0h0M303.4 235.0h0M303.5 234.3h0M303.7 236.1h0M304.0 234.6h0M304.1 235.2h0M304.2 234.1h0M304.3 235.3h0M304.6 237.7h0M304.7 234.3h0M304.9 235.5h0M305.1 235.2h0M305.2 234.9h0M305.3 236.9h0M305.4 234.6h0M305.5 236.5h0M305.7 236.1h0M305.8 235.7h0M305.9 236.6h0M306.0 236.1h0M306.1 237.3h0M306.3 237.8h0M306.4 239.3h0M306.5 237.6h0M306.6 236.2h0M306.7 236.5h0M306.9 238.3h0M307.0 239.0h0M307.1 237.5h0M307.3 238.6h0M307.5 235.3h0M307.6 236.4h0M307.7 239.3h0M307.8 237.8h0M307.9 238.8h0M308.1 237.1h0M308.2 237.2h0M308.3 238.1h0M308.4 237.7h0M308.5 240.0h0M308.7 238.7h0M308.8 238.9h0M308.9 237.8h0M309.0 237.1h0M309.3 236.5h0M309.4 236.3h0M309.5 238.7h0M309.7 239.4h0M309.9 238.8h0M310.0 239.0h0M310.1 238.2h0M310.3 241.0h0M310.5 237.7h0M310.6 237.0h0M310.7 241.9h0M310.8 240.8h0M310.9 236.6h0M311.1 238.2h0M311.2 239.3h0M311.5 239.0h0M311.8 242.9h0M311.9 239.1h0M312.1 240.4h0M312.3 242.0h0M312.4 238.4h0M312.5 239.7h0M312.6 242.8h0M312.7 241.6h0M312.9 240.8h0M313.0 241.4h0M313.1 242.6h0M313.2 243.5h0M313.3 239.3h0M313.6 241.4h0M313.7 237.3h0M313.8 244.7h0M313.9 240.9h0M314.1 242.9h0M314.2 241.4h0M314.3 239.3h0M314.4 240.1h0M314.7 241.2h0M314.8 243.1h0M314.9 242.0h0M315.3 240.8h0M315.4 243.1h0M315.5 241.4h0M315.7 243.5h0M315.9 244.7h0M316.0 242.6h0M316.1 244.9h0M316.2 244.2h0M316.3 241.6h0M316.5 243.1h0M316.6 240.9h0M316.7 242.2h0M316.8 242.9h0M316.9 241.4h0M317.1 242.3h0M317.2 244.0h0M317.3 243.1h0M317.4 244.9h0M317.5 242.5h0M317.8 241.2h0M317.9 243.5h0M318.0 245.6h0M318.1 244.9h0M318.4 243.7h0M318.5 245.1h0M318.6 244.2h0M318.7 244.6h0M319.0 243.5h0M319.1 245.6h0M319.2 244.6h0M319.6 243.5h0M319.7 244.0h0M319.8 244.6h0M320.1 246.6h0M320.2 245.5h0M320.3 244.0h0M320.7 242.9h0M320.8 244.7h0M320.9 247.2h0M321.0 244.9h0M321.1 245.6h0M321.4 242.0h0M321.5 245.5h0M321.6 243.5h0M321.7 246.0h0M321.9 244.4h0M322.0 244.6h0M322.1 245.5h0M322.3 246.6h0M322.5 248.8h0M322.6 246.0h0M322.7 248.6h0M322.8 243.2h0M322.9 249.3h0M323.2 249.8h0M323.3 246.2h0M323.4 248.6h0M323.5 249.1h0M323.7 249.6h0M323.8 243.9h0M323.9 246.0h0M324.0 247.2h0M324.3 248.4h0M324.4 247.5h0M324.5 248.1h0M324.9 248.8h0M325.0 249.3h0M325.1 247.9h0M325.2 251.4h0M325.5 246.0h0M325.6 248.1h0M325.7 247.0h0M325.8 250.3h0M325.9 248.8h0M326.2 250.6h0M326.3 248.6h0M326.4 247.7h0M326.5 250.1h0M326.7 248.8h0M326.8 249.3h0M326.9 247.5h0M327.1 247.9h0M327.3 250.1h0M327.4 250.6h0M327.7 250.1h0M327.9 250.9h0M328.0 247.0h0M328.1 247.7h0M328.2 250.9h0M328.3 249.6h0M328.5 249.8h0M328.6 246.4h0M328.7 248.6h0M328.9 251.2h0M329.1 252.0h0M329.2 252.3h0M329.3 250.6h0M329.4 248.4h0M329.5 251.2h0M329.7 250.1h0M329.8 252.0h0M329.9 253.0h0M330.0 248.4h0M330.1 246.4h0M330.4 248.1h0M330.5 248.6h0M330.9 254.0h0M331.0 251.7h0M331.1 252.0h0M331.3 253.6h0M331.5 248.8h0M331.6 251.4h0M331.7 250.3h0M331.8 255.4h0M331.9 248.4h0M332.1 249.1h0M332.2 252.3h0M332.3 254.7h0M332.4 250.6h0M332.8 253.3h0M332.9 254.3h0M333.0 252.3h0M333.1 249.1h0M333.4 253.0h0M333.5 255.8h0M333.6 251.7h0M333.7 252.3h0M333.9 254.0h0M334.0 250.9h0M334.1 252.0h0M334.2 253.0h0M334.5 254.7h0M334.6 253.0h0M334.7 252.0h0M334.8 251.7h0M334.9 254.3h0M335.1 253.6h0M335.2 255.0h0M335.3 253.0h0M335.4 255.4h0M335.5 254.3h0M335.8 251.7h0M335.9 253.0h0M336.0 250.6h0M336.1 249.6h0M336.3 250.9h0M336.4 255.4h0M336.5 256.2h0M336.7 257.9h0M336.9 254.0h0M337.0 250.6h0M337.1 256.2h0M337.2 254.0h0M337.6 257.5h0M337.7 257.9h0M337.8 254.0h0M337.9 258.4h0M338.2 253.3h0M338.3 258.9h0M338.4 256.2h0M338.5 254.3h0M338.7 252.0h0M338.8 254.3h0M338.9 253.3h0M339.0 251.7h0M339.1 251.2h0M339.3 255.8h0M339.4 251.4h0M339.5 255.0h0M339.6 263.5h0M339.7 254.7h0M339.9 258.4h0M340.0 254.0h0M340.1 256.2h0M340.2 257.5h0M340.3 256.6h0M340.5 252.0h0M340.6 261.6h0M340.7 257.0h0M340.8 262.9h0M340.9 251.7h0M341.1 256.6h0M341.2 259.4h0M341.3 255.0h0M341.4 255.4h0M341.5 259.9h0M341.7 256.2h0M341.8 256.2h0M341.9 260.4h0M342.0 253.3h0M342.1 254.3h0M342.3 257.5h0M342.4 261.6h0M342.5 257.0h0M342.6 265.0h0M342.7 252.6h0M342.9 259.4h0M343.0 254.7h0M343.1 255.4h0M343.2 257.5h0M343.3 257.0h0M343.5 261.0h0M343.6 257.5h0M343.7 255.0h0M343.8 256.2h0M344.2 255.0h0M344.3 254.0h0M344.4 255.8h0M344.5 257.9h0M344.7 250.9h0M344.8 265.0h0M344.9 258.9h0M345.0 259.9h0M345.1 262.2h0M345.3 258.4h0M345.4 259.4h0M345.5 255.0h0M345.6 255.8h0M345.7 257.5h0M345.9 256.6h0M346.0 255.0h0M346.1 256.6h0M346.2 261.0h0M346.3 251.7h0M346.5 257.0h0M346.6 255.0h0M346.7 255.4h0M346.8 261.0h0M346.9 258.4h0M347.1 260.4h0M347.2 256.2h0M347.3 257.0h0M347.4 257.9h0M347.5 256.6h0M347.7 261.6h0M347.8 258.9h0M347.9 261.0h0M348.3 257.9h0M348.4 258.9h0M348.5 261.6h0M348.6 258.4h0M348.7 256.6h0M349.0 262.2h0M349.1 257.0h0M349.2 255.0h0M349.3 260.4h0M349.5 256.6h0M349.6 254.3h0M349.7 259.9h0M349.8 258.4h0M349.9 261.6h0M350.1 263.5h0M350.2 262.9h0M350.3 265.8h0M350.4 261.0h0M350.5 261.6h0M350.7 260.4h0M350.8 256.6h0M350.9 259.4h0M351.0 260.4h0M351.1 262.2h0M351.3 264.2h0M351.4 257.9h0M351.5 257.5h0M351.6 258.4h0M351.7 258.9h0M351.9 263.5h0M352.0 259.4h0M352.1 261.0h0M352.3 261.6h0M352.6 257.0h0M352.7 261.0h0M352.8 260.4h0M352.9 256.2h0M353.1 265.8h0M353.2 261.0h0M353.3 261.6h0M353.4 262.9h0M353.8 257.5h0M353.9 263.5h0M354.0 261.0h0M354.1 259.9h0M354.3 258.4h0M354.4 262.9h0M354.5 262.2h0M354.7 258.9h0M354.9 261.6h0M355.0 262.2h0M355.1 259.4h0M355.2 260.4h0M355.3 259.9h0M355.6 260.4h0M355.8 258.4h0M355.9 259.9h0M356.1 261.0h0M356.2 265.8h0M356.3 263.5h0M356.4 262.9h0M356.5 267.5h0M356.7 261.6h0M356.8 259.9h0M356.9 260.4h0M357.0 258.9h0M357.1 259.4h0M357.3 262.2h0M357.4 258.4h0M357.5 255.8h0M357.6 261.6h0M357.7 264.2h0M357.9 263.5h0M358.0 262.9h0M358.1 258.9h0M358.2 263.5h0M358.3 257.5h0M358.5 259.4h0M358.6 255.8h0M358.7 257.5h0M358.8 259.9h0M358.9 262.9h0M359.2 265.0h0M359.3 265.8h0M359.4 260.4h0M359.5 261.0h0M359.8 261.0h0M359.9 261.6h0M360.0 265.0h0M360.1 256.6h0M360.3 268.5h0M360.4 263.5h0M360.5 261.6h0M360.6 257.0h0M360.7 258.9h0M360.9 258.4h0M361.0 263.5h0M361.1 271.8h0M361.2 262.2h0M361.3 266.6h0M361.5 262.9h0M361.6 262.2h0M361.7 260.4h0M361.8 258.9h0M361.9 261.6h0M362.1 268.5h0M362.2 258.4h0M362.3 265.0h0M362.4 265.8h0M362.5 268.5h0M362.7 262.9h0M362.8 259.9h0M362.9 261.0h0M363.0 265.8h0M363.1 261.6h0M363.4 262.2h0M363.5 262.9h0M363.6 273.1h0M363.7 269.5h0M363.9 259.4h0M364.0 268.5h0M364.1 265.0h0M364.2 262.9h0M364.3 264.2h0M364.6 264.2h0M364.7 259.9h0M364.8 265.0h0M364.9 266.6h0M365.1 267.5h0M365.2 262.9h0M365.3 261.0h0M365.4 266.6h0M365.5 264.2h0M365.8 265.8h0M365.9 260.4h0M366.0 262.2h0M366.1 262.9h0M366.4 265.0h0M366.5 263.5h0M366.6 262.9h0M366.7 276.2h0M367.0 265.0h0M367.1 261.6h0M367.2 266.6h0M367.5 265.8h0M367.6 264.2h0M367.7 262.9h0M367.8 265.0h0M367.9 261.0h0M368.1 269.5h0M368.2 262.2h0M368.3 261.6h0M368.4 267.5h0M368.5 265.0h0M368.7 257.9h0M368.8 265.8h0M368.9 262.9h0M369.0 267.5h0M369.1 259.4h0M369.4 263.5h0M369.5 265.0h0M369.7 270.6h0M370.0 267.5h0M370.1 261.6h0M370.2 265.8h0M370.5 258.4h0M370.6 260.4h0M370.7 271.8h0M370.8 262.9h0M370.9 262.2h0M371.1 267.5h0M371.2 265.8h0M371.3 267.5h0M371.4 268.5h0M371.5 265.0h0M371.7 263.5h0M371.8 265.8h0M371.9 267.5h0M372.1 262.9h0M372.4 269.5h0M372.5 263.5h0M372.6 270.6h0M372.7 267.5h0M373.0 259.9h0M373.1 264.2h0M373.2 265.0h0M373.3 259.4h0M373.5 261.0h0M373.6 265.8h0M373.7 266.6h0M373.9 263.5h0M374.1 262.2h0M374.2 265.8h0M374.3 262.9h0M374.4 266.6h0M374.5 263.5h0M374.7 267.5h0M374.8 263.5h0M374.9 267.5h0M375.0 262.2h0M375.1 265.0h0M375.3 268.5h0M375.4 265.8h0M375.5 261.6h0M375.6 267.5h0M375.7 262.2h0M375.9 271.8h0M376.0 263.5h0M376.1 267.5h0M376.2 262.2h0M376.3 261.0h0M376.5 266.6h0M376.6 267.5h0M376.7 268.5h0M376.8 261.6h0M376.9 262.9h0M377.2 274.6h0M377.3 265.8h0M377.4 267.5h0M377.5 266.6h0M377.7 265.0h0M377.8 265.0h0M377.9 274.6h0M378.0 268.5h0M378.1 265.8h0M378.3 271.8h0M378.4 268.5h0M378.5 265.0h0M378.6 262.2h0M378.7 267.5h0M379.0 266.6h0M379.1 263.5h0M379.2 265.0h0M379.3 268.5h0M379.5 265.8h0M379.6 268.5h0M379.7 264.2h0M379.8 269.5h0M379.9 273.1h0M380.2 259.4h0M380.3 266.6h0M380.4 268.5h0M380.5 261.6h0M380.7 265.8h0M380.8 261.0h0M380.9 265.8h0M381.0 262.9h0M381.1 276.2h0M381.3 265.0h0M381.4 264.2h0M381.5 263.5h0M381.6 262.9h0M381.7 266.6h0M381.9 265.0h0M382.0 265.0h0M382.2 263.5h0M382.3 268.5h0M382.5 265.8h0M382.6 267.5h0M382.7 266.6h0M382.8 264.2h0M382.9 262.9h0M383.1 274.6h0M383.2 266.6h0M383.3 270.6h0M383.4 265.0h0M383.5 264.2h0M383.7 269.5h0M383.8 265.8h0M383.9 264.2h0M384.0 265.0h0M384.1 273.1h0M384.3 271.8h0M384.4 271.8h0M384.5 263.5h0M384.6 261.6h0M384.7 268.5h0M384.9 267.5h0M385.0 265.8h0M385.1 267.5h0M385.2 268.5h0M385.5 263.5h0M385.6 265.0h0M385.7 266.6h0M385.8 267.5h0M385.9 271.8h0M386.1 263.5h0M386.2 268.5h0M386.3 267.5h0M386.4 270.6h0M386.7 262.9h0M386.8 264.2h0M386.9 269.5h0M387.0 261.0h0M387.3 266.6h0M387.4 273.1h0M387.5 268.5h0M387.6 267.5h0M387.7 266.6h0M387.9 263.5h0M388.0 265.8h0M388.3 264.2h0M388.5 268.5h0M388.6 265.0h0M388.7 270.6h0M388.8 268.5h0M388.9 267.5h0M389.2 269.5h0M389.3 259.9h0M389.4 265.8h0M389.5 265.0h0M389.7 262.2h0M389.8 268.5h0M389.9 270.6h0M390.0 265.0h0M390.1 269.5h0M390.3 263.5h0M390.4 261.6h0M390.5 266.6h0M390.9 262.9h0M391.0 273.1h0M391.1 270.6h0M391.2 267.5h0M391.5 266.6h0M391.6 266.6h0M391.7 262.9h0M391.8 264.2h0M392.1 274.6h0M392.2 268.5h0M392.3 278.0h0M392.4 276.2h0M392.5 264.2h0M392.8 271.8h0M392.9 268.5h0M393.0 264.2h0M393.3 267.5h0M393.4 266.6h0M393.5 265.0h0M393.6 269.5h0M393.7 261.6h0M393.9 273.1h0M394.0 265.0h0M394.1 268.5h0M394.2 271.8h0M394.3 270.6h0M394.5 278.0h0M394.6 265.8h0M394.7 263.5h0M394.9 258.9h0M395.1 270.6h0M395.2 269.5h0M395.3 264.2h0M395.4 260.4h0M395.5 280.2h0M395.8 268.5h0M395.9 271.8h0M396.0 273.1h0M396.1 265.8h0M396.3 267.5h0M396.4 263.5h0M396.5 264.2h0M396.6 267.5h0M396.7 266.6h0M396.9 268.5h0M397.0 265.8h0M397.1 264.2h0M397.2 263.5h0M397.5 265.0h0M397.6 268.5h0M397.7 266.6h0M397.8 267.5h0M398.2 264.2h0M398.3 265.8h0M398.4 267.5h0M398.8 271.8h0M398.9 262.9h0M399.0 265.8h0M399.1 269.5h0M399.3 274.6h0M399.4 269.5h0M399.5 265.8h0M399.6 262.9h0M400.0 266.6h0M400.1 269.5h0M400.3 262.9h0M400.5 263.5h0M400.6 265.8h0M400.7 265.0h0M400.8 269.5h0M400.9 263.5h0M401.2 265.0h0M401.3 268.5h0M401.4 267.5h0M401.5 263.5h0M401.8 271.8h0M401.9 262.9h0M402.0 264.2h0M402.3 273.1h0M402.4 271.8h0M402.5 267.5h0M402.7 268.5h0M402.9 261.0h0M403.0 273.1h0M403.1 264.2h0M403.2 267.5h0M403.5 268.5h0M403.6 268.5h0M403.7 267.5h0M403.8 274.6h0M403.9 270.6h0M404.2 262.9h0M404.3 265.0h0M404.4 264.2h0M404.5 266.6h0M404.8 265.0h0M404.9 271.8h0M405.0 266.6h0M405.1 270.6h0M405.4 265.8h0M405.5 270.6h0M405.6 273.1h0M405.7 262.9h0M405.9 261.0h0M406.0 276.2h0M406.1 269.5h0M406.2 268.5h0M406.3 270.6h0M406.5 271.8h0M406.6 265.0h0M406.7 273.1h0M406.8 271.8h0M406.9 267.5h0M407.1 263.5h0M407.2 261.0h0M407.3 267.5h0M407.4 266.6h0M407.5 273.1h0M407.8 266.6h0M407.9 276.2h0M408.0 270.6h0M408.1 263.5h0M408.3 268.5h0M408.4 264.2h0M408.5 274.6h0M408.6 267.5h0M408.7 265.0h0M408.9 268.5h0M409.0 265.0h0M409.1 264.2h0M409.2 270.6h0M409.3 274.6h0M409.6 266.6h0M409.7 268.5h0M409.8 265.0h0M410.2 265.8h0M410.3 268.5h0M410.4 267.5h0M410.5 261.6h0M410.8 273.1h0M410.9 262.9h0M411.0 274.6h0M411.1 270.6h0M411.3 276.2h0M411.4 269.5h0M411.5 268.5h0M411.7 263.5h0M411.9 265.8h0M412.0 271.8h0M412.1 267.5h0M412.2 273.1h0M412.3 259.9h0M412.6 265.8h0M412.7 264.2h0M412.8 265.0h0M413.2 269.5h0M413.3 265.8h0M413.5 271.8h0M413.7 273.1h0M413.8 265.8h0M413.9 268.5h0M414.0 262.9h0M414.1 270.6h0M414.4 266.6h0M414.5 267.5h0M414.6 270.6h0M414.7 268.5h0M414.9 280.2h0M415.0 271.8h0M415.1 269.5h0M415.2 265.8h0M415.3 261.6h0M415.5 274.6h0M415.6 271.8h0M415.7 264.2h0M415.8 269.5h0M415.9 261.6h0M416.1 268.5h0M416.2 269.5h0M416.3 265.8h0M416.4 267.5h0M416.7 266.6h0M416.8 276.2h0M416.9 270.6h0M417.0 269.5h0M417.1 265.8h0M417.3 265.0h0M417.4 280.2h0M417.5 268.5h0M417.7 265.0h0M417.9 270.6h0M418.0 263.5h0M418.1 265.0h0M418.2 266.6h0M418.3 262.2h0M418.5 261.0h0M418.6 265.8h0M418.7 268.5h0M418.8 264.2h0M419.1 267.5h0M419.2 265.0h0M419.3 276.2h0M419.4 264.2h0M419.5 265.8h0M419.8 274.6h0M419.9 270.6h0M420.0 267.5h0M420.1 265.0h0M420.4 266.6h0M420.5 269.5h0M420.6 270.6h0M420.9 268.5h0M421.0 268.5h0M421.1 265.0h0M421.2 263.5h0M421.3 266.6h0M421.5 262.9h0M421.6 268.5h0M421.7 265.8h0M421.8 267.5h0M421.9 273.1h0M422.1 261.0h0M422.2 271.8h0M422.3 276.2h0M422.4 262.9h0M422.5 267.5h0M422.7 264.2h0M422.8 265.8h0M422.9 267.5h0M423.0 273.1h0M423.1 264.2h0M423.3 276.2h0M423.4 269.5h0M423.5 262.9h0M423.6 267.5h0M423.7 265.8h0M423.9 266.6h0M424.0 273.1h0M424.1 267.5h0M424.2 266.6h0M424.6 266.6h0M424.7 264.2h0M424.8 269.5h0M424.9 274.6h0M425.1 289.7h0M425.2 266.6h0M425.3 269.5h0M425.4 264.2h0M425.5 270.6h0M425.7 265.0h0M425.8 274.6h0M425.9 276.2h0M426.1 271.8h0M426.3 265.8h0M426.4 263.5h0M426.5 267.5h0M426.9 268.5h0M427.0 264.2h0M427.1 270.6h0M427.2 278.0h0M427.3 269.5h0M427.5 268.5h0M427.6 263.5h0M427.7 266.6h0M427.8 269.5h0M427.9 267.5h0M428.2 268.5h0M428.3 265.0h0M428.4 264.2h0M428.7 265.8h0M428.8 268.5h0M428.9 269.5h0M429.0 267.5h0M429.1 265.0h0M429.4 271.8h0M429.5 276.2h0M429.6 274.6h0M429.9 265.8h0M430.0 268.5h0M430.1 262.2h0M430.2 274.6h0M430.3 271.8h0M430.5 273.1h0M430.6 274.6h0M430.7 265.0h0M430.8 263.5h0M430.9 267.5h0M431.2 274.6h0M431.3 265.8h0M431.4 267.5h0M431.7 268.5h0M431.8 274.6h0M431.9 269.5h0M432.0 265.8h0M432.1 266.6h0M432.3 268.5h0M432.4 269.5h0M432.5 266.6h0M432.6 274.6h0M432.7 270.6h0M433.0 265.0h0M433.1 276.2h0M433.2 262.2h0M433.3 271.8h0M433.5 264.2h0M433.6 270.6h0M433.7 269.5h0M433.8 278.0h0M433.9 263.5h0M434.1 271.8h0M434.2 271.8h0M434.3 266.6h0M434.4 274.6h0M434.5 270.6h0M434.8 262.9h0M434.9 271.8h0M435.0 267.5h0M435.1 262.2h0M435.4 265.0h0M435.5 267.5h0M435.6 268.5h0M436.0 273.1h0M436.1 268.5h0M436.2 267.5h0M436.3 270.6h0M436.6 259.9h0M436.7 271.8h0M436.8 269.5h0M436.9 266.6h0M437.1 270.6h0M437.2 271.8h0M437.3 270.6h0M437.4 265.8h0M437.5 262.9h0M437.7 263.5h0M437.8 266.6h0M437.9 271.8h0M438.0 268.5h0M438.1 264.2h0M438.3 269.5h0M438.4 265.0h0M438.5 266.6h0M438.6 269.5h0M438.7 274.6h0M439.0 273.1h0M439.1 270.6h0M439.2 267.5h0M439.3 261.0h0M439.5 269.5h0M439.6 265.0h0M439.7 269.5h0M439.8 261.6h0M439.9 263.5h0M440.2 269.5h0M440.3 265.0h0M440.4 265.8h0M440.5 273.1h0M440.7 270.6h0M440.8 262.9h0M440.9 268.5h0M441.3 278.0h0M441.4 270.6h0M441.5 262.2h0M441.6 265.0h0M441.7 264.2h0M441.9 274.6h0M442.0 265.8h0M442.1 266.6h0M442.2 265.0h0M442.3 269.5h0M442.5 271.8h0M442.6 265.0h0M442.7 276.2h0M442.9 273.1h0M443.1 271.8h0M443.2 270.6h0M443.3 266.6h0M443.4 267.5h0M443.7 264.2h0M443.8 265.8h0M443.9 264.2h0M444.1 266.6h0M444.3 262.2h0M444.4 271.8h0M444.5 266.6h0M444.6 265.8h0M445.0 265.0h0M445.1 266.6h0M445.2 269.5h0M445.5 267.5h0M445.6 273.1h0M445.7 270.6h0M445.8 261.0h0M445.9 267.5h0M446.2 264.2h0M446.3 262.9h0M446.4 269.5h0M446.5 270.6h0M446.7 267.5h0M446.8 263.5h0M446.9 266.6h0M447.1 276.2h0M447.3 268.5h0M447.4 265.8h0M447.5 268.5h0M447.6 267.5h0" stroke="#ff0000" stroke-width="3.7" stroke-linecap="round" fill="none"/><path d="M264.0 187.0h0M264.9 189.5h0M265.2 190.4h0M266.1 192.7h0M266.7 194.4h0M267.0 195.1h0M267.6 196.6h0M267.7 196.9h0M267.8 197.4h0M269.0 200.1h0M269.4 201.3h0M269.6 202.0h0M270.0 201.6h0M270.1 202.7h0M270.6 203.9h0M271.2 204.6h0M272.4 206.8h0M272.5 207.1h0M273.0 207.6h0M273.1 208.4h0M273.7 209.5h0M273.8 209.2h0M274.8 210.9h0M274.9 210.8h0M275.0 211.7h0M275.4 211.6h0M275.9 212.4h0M276.1 212.1h0M277.3 213.4h0M277.8 214.9h0M278.4 215.7h0M279.6 215.7h0M280.1 217.7h0M280.4 217.6h0M281.1 219.8h0M281.7 218.7h0M282.0 218.0h0M282.7 220.3h0M283.1 220.4h0M283.3 219.4h0M283.4 220.9h0M283.8 221.4h0M284.0 220.9h0M284.4 221.3h0M284.6 220.7h0M284.7 220.2h0M285.9 221.8h0M286.8 222.5h0M286.9 223.8h0M288.3 224.9h0M288.6 224.2h0M288.8 223.6h0M289.2 225.0h0M290.3 226.4h0M290.4 225.3h0M290.5 225.9h0M290.6 225.4h0M291.2 226.1h0M291.3 227.1h0M291.6 227.9h0M291.7 226.2h0M291.9 226.8h0M292.7 227.1h0M293.0 226.2h0M293.7 229.2h0M293.9 227.7h0M294.0 228.6h0M294.1 228.1h0M294.9 229.7h0M295.8 229.8h0M297.0 230.9h0M297.7 230.5h0M298.4 232.3h0M298.9 232.7h0M299.4 232.3h0M299.5 231.6h0M300.1 231.5h0M300.6 232.9h0M300.7 231.7h0M301.1 233.4h0M301.4 233.6h0M301.5 232.9h0M301.9 232.7h0M302.0 232.9h0M302.5 233.1h0M303.0 234.6h0M303.1 233.9h0M303.3 235.7h0M304.2 237.3h0M304.9 236.5h0M305.0 234.2h0M305.1 236.1h0M305.3 235.7h0M305.9 237.4h0M306.1 237.2h0M306.3 236.1h0M306.5 237.9h0M306.7 237.1h0M307.1 234.9h0M307.3 238.9h0M307.7 236.7h0M308.0 237.3h0M308.1 239.6h0M308.4 238.5h0M308.6 236.7h0M308.9 236.1h0M309.0 235.9h0M309.1 238.3h0M309.3 239.0h0M309.7 237.8h0M309.9 240.6h0M310.7 237.8h0M310.8 238.9h0M312.3 241.2h0M313.3 236.9h0M313.5 240.5h0M313.8 241.0h0M314.0 239.7h0M314.3 240.8h0M315.3 243.1h0M315.6 242.2h0M316.7 241.9h0M316.9 242.7h0M317.0 244.5h0M317.4 240.8h0M317.6 245.2h0M317.7 244.5h0M318.1 244.7h0M318.6 243.1h0M319.7 246.2h0M319.8 245.1h0M320.4 244.3h0M320.6 244.5h0M321.3 245.6h0M321.9 246.2h0M322.1 248.4h0M322.2 245.6h0M323.0 248.2h0M323.1 248.7h0M323.5 245.6h0M323.6 246.8h0M324.8 251.0h0M325.1 245.6h0M327.0 250.2h0M327.5 250.5h0M327.7 247.3h0M328.2 246.0h0M328.3 248.2h0M328.5 250.8h0M328.9 250.2h0M329.0 248.0h0M329.1 250.8h0M329.6 248.0h0M330.5 253.6h0M330.9 253.2h0M331.2 251.0h0M331.3 249.9h0M332.0 250.2h0M332.4 252.9h0M333.0 252.6h0M333.1 255.4h0M333.2 251.3h0M333.3 251.9h0M333.5 253.6h0M333.8 252.6h0M334.3 251.6h0M334.5 253.9h0M334.8 254.6h0M334.9 252.6h0M335.0 255.0h0M335.6 250.2h0M336.0 255.0h0M337.2 257.1h0M337.3 257.5h0M337.4 253.6h0M337.5 258.0h0M337.9 258.5h0M338.7 250.8h0M338.9 255.4h0M340.7 256.2h0M340.9 254.6h0M341.3 255.8h0M342.2 264.6h0M342.9 256.6h0M343.2 257.1h0M344.0 255.4h0M345.0 259.0h0M345.5 256.2h0M345.6 254.6h0M346.1 256.6h0M347.1 256.2h0M348.1 261.2h0M348.7 256.6h0M348.9 260.0h0M349.2 253.9h0M350.0 260.6h0M350.5 259.0h0M350.7 261.8h0M351.1 257.1h0M351.6 259.0h0M352.4 260.0h0M352.7 265.4h0M352.8 260.6h0M353.0 262.5h0M353.7 259.5h0M354.5 261.2h0M354.9 259.5h0M355.2 260.0h0M355.4 258.0h0M355.7 260.6h0M355.8 265.4h0M356.0 262.5h0M356.6 258.5h0M357.0 258.0h0M357.1 255.4h0M357.5 263.1h0M357.7 258.5h0M357.9 257.1h0M358.4 259.5h0M358.5 262.5h0M358.9 265.4h0M359.1 260.6h0M359.9 268.1h0M360.0 263.1h0M360.2 256.6h0M360.3 258.5h0M361.5 261.2h0M361.7 268.1h0M361.8 258.0h0M362.0 265.4h0M362.6 265.4h0M363.1 262.5h0M363.2 272.7h0M363.9 263.8h0M364.2 263.8h0M364.5 266.2h0M364.8 262.5h0M365.0 266.2h0M366.0 264.6h0M366.2 262.5h0M366.7 261.2h0M367.1 265.4h0M367.2 263.8h0M367.3 262.5h0M367.4 264.6h0M367.5 260.6h0M368.5 262.5h0M368.6 267.1h0M369.0 263.1h0M369.3 270.2h0M370.1 258.0h0M370.2 260.0h0M370.4 262.5h0M371.7 262.5h0M372.9 259.0h0M373.5 263.1h0M373.7 261.8h0M375.0 265.4h0M375.6 263.1h0M375.9 260.6h0M376.2 267.1h0M376.3 268.1h0M376.9 265.4h0M377.0 267.1h0M377.5 274.2h0M377.9 271.4h0M378.1 264.6h0M378.3 267.1h0M378.6 266.2h0M379.4 269.1h0M379.5 272.7h0M380.0 268.1h0M380.1 261.2h0M380.4 260.6h0M381.5 264.6h0M382.3 266.2h0M382.7 274.2h0M382.8 266.2h0M383.0 264.6h0M383.4 265.4h0M383.6 264.6h0M383.9 271.4h0M384.2 261.2h0M384.5 267.1h0M384.7 267.1h0M384.8 268.1h0M385.1 263.1h0M385.3 266.2h0M385.4 267.1h0M386.0 270.2h0M386.5 269.1h0M386.6 260.6h0M387.0 272.7h0M387.5 263.1h0M387.6 265.4h0M388.2 264.6h0M388.3 270.2h0M388.4 268.1h0M388.8 269.1h0M389.5 270.2h0M390.0 261.2h0M390.5 262.5h0M390.6 272.7h0M391.2 266.2h0M391.4 263.8h0M391.7 274.2h0M392.1 263.8h0M392.6 263.8h0M393.1 264.6h0M393.5 272.7h0M393.6 264.6h0M394.5 258.5h0M395.1 279.8h0M395.4 268.1h0M395.7 265.4h0M396.2 267.1h0M396.3 266.2h0M396.5 268.1h0M396.7 263.8h0M397.1 264.6h0M397.3 266.2h0M397.8 263.8h0M397.9 265.4h0M398.6 265.4h0M398.7 269.1h0M398.9 274.2h0M399.1 265.4h0M399.9 262.5h0M400.2 265.4h0M400.3 264.6h0M400.4 269.1h0M400.9 268.1h0M401.0 267.1h0M401.4 271.4h0M401.5 262.5h0M401.9 272.7h0M402.1 267.1h0M402.7 263.8h0M403.2 268.1h0M403.3 267.1h0M403.8 262.5h0M404.0 263.8h0M404.5 271.4h0M404.6 266.2h0M404.7 270.2h0M405.0 265.4h0M405.8 268.1h0M405.9 270.2h0M406.2 264.6h0M406.3 272.7h0M406.4 271.4h0M406.5 267.1h0M407.5 275.8h0M407.9 268.1h0M408.3 264.6h0M408.8 270.2h0M409.2 266.2h0M409.8 265.4h0M410.1 261.2h0M410.4 272.7h0M410.5 262.5h0M411.1 268.1h0M411.3 263.1h0M411.5 265.4h0M411.8 272.7h0M413.1 271.4h0M413.5 268.1h0M414.0 266.2h0M414.1 267.1h0M414.3 268.1h0M414.5 279.8h0M414.6 271.4h0M415.1 274.2h0M415.2 271.4h0M415.5 261.2h0M415.8 269.1h0M416.3 266.2h0M416.5 270.2h0M416.6 269.1h0M418.1 260.6h0M418.2 265.4h0M419.5 270.2h0M419.7 264.6h0M420.2 270.2h0M420.5 268.1h0M420.9 266.2h0M421.8 271.4h0M422.0 262.5h0M422.1 267.1h0M422.4 265.4h0M422.5 267.1h0M423.2 267.1h0M423.5 266.2h0M423.7 267.1h0M424.2 266.2h0M424.7 289.3h0M425.0 263.8h0M425.4 274.2h0M425.5 275.8h0M426.0 263.1h0M426.6 263.8h0M426.8 277.6h0M427.3 266.2h0M427.8 268.1h0M427.9 264.6h0M428.0 263.8h0M428.3 265.4h0M429.0 271.4h0M430.3 264.6h0M430.4 263.1h0M430.5 267.1h0M430.8 274.2h0M431.0 267.1h0M431.3 268.1h0M431.4 274.2h0M432.0 269.1h0M432.1 266.2h0M432.2 274.2h0M432.9 271.4h0M433.2 270.2h0M433.7 271.4h0M433.8 271.4h0M433.9 266.2h0M434.4 262.5h0M435.7 268.1h0M436.3 271.4h0M436.4 269.1h0M437.1 262.5h0M437.5 271.4h0M438.1 266.2h0M439.4 261.2h0M439.5 263.1h0M440.0 265.4h0M440.1 272.7h0M440.3 270.2h0M440.4 262.5h0M440.9 277.6h0M441.2 264.6h0M441.9 269.1h0M442.8 270.2h0M442.9 266.2h0M443.4 265.4h0M444.1 266.2h0M444.2 265.4h0M445.8 263.8h0M446.3 267.1h0M446.4 263.1h0M447.2 267.1h0" stroke="#ffb0b0" stroke-width="0.9" stroke-linecap="round" fill="none"/>
<path d="M262.0,187.3H266.0L264.0,183.7H264.0zM262.0,187.1H266.0L264.0,183.5H264.0zM262.0,187.5H266.0L264.0,183.9H264.0zM262.0,187.1H266.0L264.0,183.5H264.0zM262.0,187.4H266.0L264.0,183.8H264.0zM262.0,187.5H266.0L264.0,183.9H264.0zM262.0,187.9H266.0L264.0,184.3H264.0zM262.0,187.8H266.0L264.0,184.2H264.0zM262.0,188.3H266.0L264.0,184.7H264.0zM262.0,188.8H266.0L264.0,185.2H264.0zM262.0,189.0H266.0L264.0,185.4H264.0zM262.0,189.0H266.0L264.0,185.4H264.0zM262.0,189.2H266.0L264.0,185.6H264.0zM262.0,189.7H266.0L264.0,186.1H264.0zM262.0,190.1H266.0L264.0,186.5H264.0zM262.5,190.3H266.5L264.5,186.7H264.5zM262.5,190.1H266.5L264.5,186.5H264.5zM262.5,190.7H266.5L264.5,187.1H264.5zM262.5,191.2H266.5L264.5,187.6H264.5zM262.5,190.9H266.5L264.5,187.3H264.5zM262.5,191.2H266.5L264.5,187.6H264.5zM262.5,191.5H266.5L264.5,187.9H264.5zM262.5,192.5H266.5L264.5,188.9H264.5zM262.5,192.6H266.5L264.5,189.0H264.5zM262.5,192.2H266.5L264.5,188.6H264.5zM262.5,192.8H266.5L264.5,189.2H264.5zM262.5,192.9H266.5L264.5,189.3H264.5zM262.5,192.7H266.5L264.5,189.1H264.5zM262.5,193.8H266.5L264.5,190.2H264.5zM262.5,194.1H266.5L264.5,190.5H264.5zM262.5,194.3H266.5L264.5,190.7H264.5zM262.5,194.7H266.5L264.5,191.1H264.5zM262.5,195.0H266.5L264.5,191.4H264.5zM262.5,195.0H266.5L264.5,191.4H264.5zM262.5,195.2H266.5L264.5,191.6H264.5zM263.0,195.5H267.0L265.0,191.9H265.0zM263.0,196.0H267.0L265.0,192.4H265.0zM263.0,196.3H267.0L265.0,192.7H265.0zM263.0,196.3H267.0L265.0,192.7H265.0zM263.0,196.2H267.0L265.0,192.6H265.0zM263.0,196.9H267.0L265.0,193.3H265.0zM263.0,197.2H267.0L265.0,193.6H265.0zM263.0,197.2H267.0L265.0,193.6H265.0zM263.0,197.7H267.0L265.0,194.1H265.0zM263.0,198.4H267.0L265.0,194.8H265.0zM263.0,198.5H267.0L265.0,194.9H265.0zM263.0,198.5H267.0L265.0,194.9H265.0zM263.0,198.2H267.0L265.0,194.6H265.0zM263.0,199.3H267.0L265.0,195.7H265.0zM263.0,199.4H267.0L265.0,195.8H265.0zM263.0,198.9H267.0L265.0,195.3H265.0zM263.0,199.7H267.0L265.0,196.1H265.0zM263.0,199.9H267.0L265.0,196.3H265.0zM263.0,200.8H267.0L265.0,197.2H265.0zM263.0,200.5H267.0L265.0,196.9H265.0zM263.5,200.8H267.5L265.5,197.2H265.5zM263.5,201.2H267.5L265.5,197.6H265.5zM263.5,201.2H267.5L265.5,197.6H265.5zM263.5,202.1H267.5L265.5,198.5H265.5zM263.5,201.9H267.5L265.5,198.3H265.5zM263.5,202.4H267.5L265.5,198.8H265.5zM263.5,202.7H267.5L265.5,199.1H265.5zM263.5,202.8H267.5L265.5,199.2H265.5zM263.5,202.7H267.5L265.5,199.1H265.5zM263.5,203.1H267.5L265.5,199.5H265.5zM263.5,203.5H267.5L265.5,199.9H265.5zM263.5,204.2H267.5L265.5,200.6H265.5zM263.5,203.9H267.5L265.5,200.3H265.5zM263.5,204.4H267.5L265.5,200.8H265.5zM263.5,205.2H267.5L265.5,201.6H265.5zM263.5,205.2H267.5L265.5,201.6H265.5zM263.5,205.2H267.5L265.5,201.6H265.5zM263.5,205.3H267.5L265.5,201.7H265.5zM263.5,205.9H267.5L265.5,202.3H265.5zM263.5,206.2H267.5L265.5,202.6H265.5zM264.0,206.6H268.0L266.0,203.0H266.0zM264.0,206.9H268.0L266.0,203.3H266.0zM264.0,206.5H268.0L266.0,202.9H266.0zM264.0,207.3H268.0L266.0,203.7H266.0zM264.0,207.5H268.0L266.0,203.9H266.0zM264.0,207.7H268.0L266.0,204.1H266.0zM264.0,207.6H268.0L266.0,204.0H266.0zM264.0,208.4H268.0L266.0,204.8H266.0zM264.0,208.8H268.0L266.0,205.2H266.0zM264.0,209.4H268.0L266.0,205.8H266.0zM264.0,209.7H268.0L266.0,206.1H266.0zM264.0,209.8H268.0L266.0,206.2H266.0zM264.0,210.7H268.0L266.0,207.1H266.0zM264.0,211.0H268.0L266.0,207.4H266.0zM264.0,211.2H268.0L266.0,207.6H266.0zM264.0,211.7H268.0L266.0,208.1H266.0zM264.0,212.8H268.0L266.0,209.2H266.0zM264.0,212.6H268.0L266.0,209.0H266.0zM264.0,213.5H268.0L266.0,209.9H266.0zM264.5,213.5H268.5L266.5,209.9H266.5zM264.5,213.6H268.5L266.5,210.0H266.5zM264.5,214.8H268.5L266.5,211.2H266.5zM264.5,213.4H268.5L266.5,209.8H266.5zM264.5,215.2H268.5L266.5,211.6H266.5zM264.5,216.0H268.5L266.5,212.4H266.5zM264.5,214.8H268.5L266.5,211.2H266.5zM264.5,215.1H268.5L266.5,211.5H266.5zM264.5,217.4H268.5L266.5,213.8H266.5zM264.5,215.7H268.5L266.5,212.1H266.5zM264.5,217.1H268.5L266.5,213.5H266.5zM264.5,216.7H268.5L266.5,213.1H266.5zM264.5,218.7H268.5L266.5,215.1H266.5zM264.5,218.6H268.5L266.5,215.0H266.5zM264.5,218.1H268.5L266.5,214.5H266.5zM264.5,218.9H268.5L266.5,215.3H266.5zM264.5,219.9H268.5L266.5,216.3H266.5zM264.5,219.8H268.5L266.5,216.2H266.5zM264.5,219.3H268.5L266.5,215.7H266.5zM264.5,221.9H268.5L266.5,218.3H266.5zM265.0,221.5H269.0L267.0,217.9H267.0zM265.0,220.7H269.0L267.0,217.1H267.0zM265.0,221.6H269.0L267.0,218.0H267.0zM265.0,220.4H269.0L267.0,216.8H267.0zM265.0,222.2H269.0L267.0,218.6H267.0zM265.0,221.7H269.0L267.0,218.1H267.0zM265.0,222.5H269.0L267.0,218.9H267.0zM265.0,222.5H269.0L267.0,218.9H267.0zM265.0,223.9H269.0L267.0,220.3H267.0zM265.0,224.1H269.0L267.0,220.5H267.0zM265.0,223.9H269.0L267.0,220.3H267.0zM265.0,225.3H269.0L267.0,221.7H267.0zM265.0,225.4H269.0L267.0,221.8H267.0zM265.0,225.7H269.0L267.0,222.1H267.0zM265.0,226.3H269.0L267.0,222.7H267.0zM265.0,226.9H269.0L267.0,223.3H267.0zM265.0,225.6H269.0L267.0,222.0H267.0zM265.0,227.5H269.0L267.0,223.9H267.0zM265.0,228.6H269.0L267.0,225.0H267.0zM265.0,227.9H269.0L267.0,224.3H267.0zM265.5,228.5H269.5L267.5,224.9H267.5zM265.5,229.8H269.5L267.5,226.2H267.5zM265.5,229.9H269.5L267.5,226.3H267.5zM265.5,230.3H269.5L267.5,226.7H267.5zM265.5,233.7H269.5L267.5,230.1H267.5zM265.5,229.9H269.5L267.5,226.3H267.5zM265.5,230.6H269.5L267.5,227.0H267.5zM265.5,232.2H269.5L267.5,228.6H267.5zM265.5,234.0H269.5L267.5,230.4H267.5zM265.5,231.6H269.5L267.5,228.0H267.5zM265.5,234.0H269.5L267.5,230.4H267.5zM265.5,233.7H269.5L267.5,230.1H267.5zM265.5,235.8H269.5L267.5,232.2H267.5zM265.5,236.5H269.5L267.5,232.9H267.5zM265.5,234.9H269.5L267.5,231.3H267.5zM265.5,238.4H269.5L267.5,234.8H267.5zM265.5,239.1H269.5L267.5,235.5H267.5zM265.5,237.8H269.5L267.5,234.2H267.5zM265.5,239.0H269.5L267.5,235.4H267.5zM266.0,238.3H270.0L268.0,234.7H268.0zM266.0,241.7H270.0L268.0,238.1H268.0zM266.0,241.8H270.0L268.0,238.2H268.0zM266.0,240.2H270.0L268.0,236.6H268.0zM266.0,241.2H270.0L268.0,237.6H268.0zM266.0,239.5H270.0L268.0,235.9H268.0zM266.0,240.7H270.0L268.0,237.1H268.0zM266.0,243.6H270.0L268.0,240.0H268.0zM266.0,241.0H270.0L268.0,237.4H268.0zM266.0,243.5H270.0L268.0,239.9H268.0zM266.0,243.2H270.0L268.0,239.6H268.0zM266.0,242.6H270.0L268.0,239.0H268.0zM266.0,242.7H270.0L268.0,239.1H268.0zM266.0,245.5H270.0L268.0,241.9H268.0zM266.0,244.4H270.0L268.0,240.8H268.0zM266.0,246.9H270.5L268.5,243.3H268.0zM266.0,243.0H270.0L268.0,239.4H268.0zM266.0,244.1H270.0L268.0,240.5H268.0zM266.5,248.1H270.5L268.5,244.5H268.5zM266.5,249.9H271.0L269.0,246.3H268.5zM266.5,247.1H270.5L268.5,243.5H268.5zM266.5,246.8H270.5L268.5,243.2H268.5zM266.5,249.4H271.5L269.5,245.8H268.5zM266.5,248.5H270.5L268.5,244.9H268.5zM266.5,249.2H270.5L268.5,245.6H268.5zM266.5,247.9H270.5L268.5,244.3H268.5zM266.5,250.6H270.5L268.5,247.0H268.5zM266.5,247.5H271.0L269.0,243.9H268.5zM266.5,253.0H271.5L269.5,249.4H268.5zM269.0,253.0H273.0L271.0,249.4H271.0zM267.0,250.9H271.0L269.0,247.3H269.0zM267.0,252.5H272.0L270.0,248.9H269.0zM267.0,253.6H273.0L271.0,250.0H269.0zM267.0,251.6H272.0L270.0,248.0H269.0zM267.0,252.7H272.5L270.5,249.1H269.0zM267.0,250.1H271.0L269.0,246.5H269.0zM267.0,252.2H271.5L269.5,248.6H269.0zM267.0,251.1H271.5L269.5,247.5H269.0zM267.0,253.9H271.5L269.5,250.3H269.0zM272.0,253.9H276.0L274.0,250.3H274.0zM267.0,255.3H272.0L270.0,251.7H269.0zM267.0,251.4H271.5L269.5,247.8H269.0zM267.0,248.8H271.0L269.0,245.2H269.0zM267.5,254.3H272.0L270.0,250.7H269.5zM267.5,256.0H274.0L272.0,252.4H269.5zM267.5,251.9H271.5L269.5,248.3H269.5zM267.5,255.6H272.5L270.5,252.0H269.5zM271.0,255.6H275.0L273.0,252.0H273.0zM267.5,253.3H272.0L270.0,249.7H269.5zM268.0,254.9H272.0L270.0,251.3H270.0zM271.0,254.9H275.0L273.0,251.3H273.0zM268.0,254.6H272.0L270.0,251.0H270.0zM274.0,254.6H278.0L276.0,251.0H276.0zM268.0,256.3H272.5L270.5,252.7H270.0zM270.0,256.3H275.0L273.0,252.7H272.0zM273.5,256.3H277.5L275.5,252.7H275.5zM268.5,257.5H273.0L271.0,253.9H270.5zM271.0,257.5H275.0L273.0,253.9H273.0zM273.5,257.5H277.5L275.5,253.9H275.5zM279.5,257.5H283.5L281.5,253.9H281.5zM268.5,257.1H274.0L272.0,253.5H270.5zM272.0,257.1H276.0L274.0,253.5H274.0zM274.0,257.1H279.0L277.0,253.5H276.0zM268.5,258.3H274.5L272.5,254.7H270.5zM273.0,258.3H277.0L275.0,254.7H275.0zM276.5,258.3H280.5L278.5,254.7H278.5zM269.0,261.2H273.5L271.5,257.6H271.0zM274.5,261.2H279.5L277.5,257.6H276.5zM277.5,261.2H281.5L279.5,257.6H279.5zM281.5,261.2H285.5L283.5,257.6H283.5zM269.5,259.2H276.5L274.5,255.6H271.5zM274.0,259.2H278.0L276.0,255.6H276.0zM269.5,260.7H273.5L271.5,257.1H271.5zM271.5,260.7H276.5L274.5,257.1H273.5zM274.0,260.7H279.5L277.5,257.1H276.0zM277.0,260.7H281.5L279.5,257.1H279.0zM279.0,260.7H283.0L281.0,257.1H281.0zM269.5,257.9H274.5L272.5,254.3H271.5zM273.0,257.9H277.0L275.0,254.3H275.0zM274.5,257.9H279.0L277.0,254.3H276.5zM276.5,257.9H280.5L278.5,254.3H278.5zM270.0,261.7H276.0L274.0,258.1H272.0zM273.5,261.7H277.5L275.5,258.1H275.5zM277.0,261.7H281.0L279.0,258.1H279.0zM278.5,261.7H282.5L280.5,258.1H280.5zM270.0,256.7H276.5L274.5,253.1H272.0zM271.0,258.8H276.0L274.0,255.2H273.0zM275.0,258.8H279.0L277.0,255.2H277.0zM271.5,264.8H275.5L273.5,261.2H273.5zM273.5,264.8H277.5L275.5,261.2H275.5zM275.0,264.8H280.0L278.0,261.2H277.0zM278.0,264.8H282.0L280.0,261.2H280.0zM279.5,264.8H283.5L281.5,261.2H281.5zM271.5,264.2H275.5L273.5,260.6H273.5zM276.0,264.2H280.0L278.0,260.6H278.0zM278.0,264.2H284.5L282.5,260.6H280.0zM272.5,260.2H276.5L274.5,256.6H274.5zM277.5,260.2H281.5L279.5,256.6H279.5zM272.5,259.7H276.5L274.5,256.1H274.5zM274.0,259.7H280.5L278.5,256.1H276.0zM278.0,259.7H282.0L280.0,256.1H280.0zM272.5,263.5H277.5L275.5,259.9H274.5zM275.0,263.5H280.0L278.0,259.9H277.0zM278.5,263.5H282.5L280.5,259.9H280.5zM281.0,263.5H285.0L283.0,259.9H283.0zM273.0,267.9H277.0L275.0,264.3H275.0zM281.0,267.9H286.0L284.0,264.3H283.0zM274.0,267.1H278.0L276.0,263.5H276.0zM280.0,267.1H284.0L282.0,263.5H282.0zM282.0,267.1H286.0L284.0,263.5H284.0zM274.0,262.3H278.0L276.0,258.7H276.0zM274.5,266.3H278.5L276.5,262.7H276.5zM276.0,266.3H281.5L279.5,262.7H278.0zM279.0,266.3H285.5L283.5,262.7H281.0zM274.5,262.9H284.0L282.0,259.3H276.5zM281.5,262.9H285.5L283.5,259.3H283.5zM275.5,265.5H280.5L278.5,261.9H277.5zM278.0,265.5H285.0L283.0,261.9H280.0zM276.0,268.8H280.0L278.0,265.2H278.0zM279.0,268.8H283.0L281.0,265.2H281.0zM277.0,269.8H282.0L280.0,266.2H279.0zM280.0,269.8H284.0L282.0,266.2H282.0zM281.5,269.8H287.0L285.0,266.2H283.5zM285.5,269.8H290.0L288.0,266.2H287.5zM297.0,269.8H301.0L299.0,266.2H299.0zM279.0,273.1H283.0L281.0,269.5H281.0zM281.0,273.1H289.0L287.0,269.5H283.0zM287.0,273.1H292.0L290.0,269.5H289.0zM293.0,273.1H298.0L296.0,269.5H295.0zM298.0,273.1H302.0L300.0,269.5H300.0zM300.0,273.1H304.0L302.0,269.5H302.0zM303.5,273.1H307.5L305.5,269.5H305.5zM307.0,273.1H311.0L309.0,269.5H309.0zM312.5,273.1H316.5L314.5,269.5H314.5zM318.0,273.1H322.5L320.5,269.5H320.0zM321.0,273.1H325.0L323.0,269.5H323.0zM331.0,273.1H335.0L333.0,269.5H333.0zM335.0,273.1H339.0L337.0,269.5H337.0zM361.5,273.1H365.5L363.5,269.5H363.5zM369.0,273.1H373.0L371.0,269.5H371.0zM376.0,273.1H380.0L378.0,269.5H378.0zM381.0,273.1H385.0L383.0,269.5H383.0zM279.5,274.4H284.5L282.5,270.8H281.5zM283.0,274.4H288.5L286.5,270.8H285.0zM286.5,274.4H291.0L289.0,270.8H288.5zM291.0,274.4H295.5L293.5,270.8H293.0zM293.5,274.4H297.5L295.5,270.8H295.5zM295.5,274.4H299.5L297.5,270.8H297.5zM297.5,274.4H301.5L299.5,270.8H299.5zM299.0,274.4H303.0L301.0,270.8H301.0zM301.5,274.4H306.5L304.5,270.8H303.5zM304.0,274.4H309.5L307.5,270.8H306.0zM307.5,274.4H312.0L310.0,270.8H309.5zM310.0,274.4H314.0L312.0,270.8H312.0zM317.0,274.4H322.0L320.0,270.8H319.0zM319.5,274.4H326.0L324.0,270.8H321.5zM326.5,274.4H330.5L328.5,270.8H328.5zM339.0,274.4H344.0L342.0,270.8H341.0zM342.5,274.4H347.0L345.0,270.8H344.5zM356.0,274.4H360.0L358.0,270.8H358.0zM358.0,274.4H362.0L360.0,270.8H360.0zM359.5,274.4H364.5L362.5,270.8H361.5zM366.5,274.4H371.0L369.0,270.8H368.5zM374.0,274.4H379.0L377.0,270.8H376.0zM387.0,274.4H391.0L389.0,270.8H389.0zM395.0,274.4H399.0L397.0,270.8H397.0zM405.5,274.4H409.5L407.5,270.8H407.5zM415.5,274.4H419.5L417.5,270.8H417.5zM417.0,274.4H422.0L420.0,270.8H419.0zM428.0,274.4H432.0L430.0,270.8H430.0zM438.0,274.4H442.0L440.0,270.8H440.0zM441.5,274.4H445.5L443.5,270.8H443.5zM280.0,270.8H286.0L284.0,267.2H282.0zM280.5,271.9H284.5L282.5,268.3H282.5zM282.0,271.9H288.5L286.5,268.3H284.0zM291.5,271.9H295.5L293.5,268.3H293.5zM302.5,271.9H306.5L304.5,268.3H304.5zM311.5,271.9H315.5L313.5,268.3H313.5zM315.0,271.9H319.0L317.0,268.3H317.0zM389.5,271.9H393.5L391.5,268.3H391.5zM282.0,281.5H286.5L284.5,277.9H284.0zM285.0,281.5H298.0L296.0,277.9H287.0zM296.0,281.5H343.5L341.5,277.9H298.0zM341.0,281.5H363.0L361.0,277.9H343.0zM360.5,281.5H370.0L368.0,277.9H362.5zM367.5,281.5H372.5L370.5,277.9H369.5zM370.0,281.5H391.5L389.5,277.9H372.0zM389.0,281.5H396.5L394.5,277.9H391.0zM394.0,281.5H403.0L401.0,277.9H396.0zM401.0,281.5H406.5L404.5,277.9H403.0zM404.0,281.5H424.0L422.0,277.9H406.0zM421.5,281.5H428.5L426.5,277.9H423.5zM426.0,281.5H442.5L440.5,277.9H428.0zM440.0,281.5H448.5L446.5,277.9H442.0zM282.0,277.5H286.5L284.5,273.9H284.0zM284.0,277.5H288.0L286.0,273.9H286.0zM285.5,277.5H289.5L287.5,273.9H287.5zM288.0,277.5H295.5L293.5,273.9H290.0zM293.0,277.5H298.5L296.5,273.9H295.0zM296.5,277.5H309.0L307.0,273.9H298.5zM306.5,277.5H318.5L316.5,273.9H308.5zM316.0,277.5H322.0L320.0,273.9H318.0zM320.0,277.5H325.5L323.5,273.9H322.0zM323.0,277.5H329.0L327.0,273.9H325.0zM327.0,277.5H339.0L337.0,273.9H329.0zM337.0,277.5H346.5L344.5,273.9H339.0zM344.5,277.5H352.5L350.5,273.9H346.5zM350.0,277.5H355.0L353.0,273.9H352.0zM353.0,277.5H357.0L355.0,273.9H355.0zM354.5,277.5H360.0L358.0,273.9H356.5zM358.0,277.5H364.5L362.5,273.9H360.0zM363.0,277.5H369.0L367.0,273.9H365.0zM366.5,277.5H374.0L372.0,273.9H368.5zM372.5,277.5H377.0L375.0,273.9H374.5zM375.5,277.5H380.5L378.5,273.9H377.5zM378.0,277.5H383.5L381.5,273.9H380.0zM381.0,277.5H387.0L385.0,273.9H383.0zM385.0,277.5H389.0L387.0,273.9H387.0zM386.5,277.5H393.0L391.0,273.9H388.5zM395.0,277.5H405.5L403.5,273.9H397.0zM403.0,277.5H407.5L405.5,273.9H405.0zM405.0,277.5H409.0L407.0,273.9H407.0zM407.5,277.5H415.0L413.0,273.9H409.5zM412.5,277.5H416.5L414.5,273.9H414.5zM414.5,277.5H419.0L417.0,273.9H416.5zM417.0,277.5H421.0L419.0,273.9H419.0zM418.5,277.5H422.5L420.5,273.9H420.5zM423.0,277.5H428.0L426.0,273.9H425.0zM428.0,277.5H433.5L431.5,273.9H430.0zM431.0,277.5H435.0L433.0,273.9H433.0zM433.0,277.5H439.0L437.0,273.9H435.0zM437.0,277.5H442.5L440.5,273.9H439.0zM441.0,277.5H445.5L443.5,273.9H443.0zM443.0,277.5H448.0L446.0,273.9H445.0zM283.0,275.9H289.5L287.5,272.3H285.0zM288.5,275.9H295.0L293.0,272.3H290.5zM292.5,275.9H297.0L295.0,272.3H294.5zM295.0,275.9H301.5L299.5,272.3H297.0zM299.0,275.9H303.0L301.0,272.3H301.0zM302.0,275.9H306.5L304.5,272.3H304.0zM305.0,275.9H310.0L308.0,272.3H307.0zM308.0,275.9H312.0L310.0,272.3H310.0zM310.0,275.9H314.0L312.0,272.3H312.0zM311.5,275.9H315.5L313.5,272.3H313.5zM313.5,275.9H326.5L324.5,272.3H315.5zM325.5,275.9H329.5L327.5,272.3H327.5zM327.0,275.9H332.0L330.0,272.3H329.0zM330.5,275.9H337.5L335.5,272.3H332.5zM342.5,275.9H347.0L345.0,272.3H344.5zM345.0,275.9H351.5L349.5,272.3H347.0zM349.5,275.9H354.0L352.0,272.3H351.5zM352.0,275.9H357.0L355.0,272.3H354.0zM356.5,275.9H360.5L358.5,272.3H358.5zM359.5,275.9H363.5L361.5,272.3H361.5zM361.0,275.9H365.0L363.0,272.3H363.0zM363.5,275.9H367.5L365.5,272.3H365.5zM366.0,275.9H370.0L368.0,272.3H368.0zM370.5,275.9H374.5L372.5,272.3H372.5zM373.0,275.9H377.0L375.0,272.3H375.0zM374.5,275.9H379.5L377.5,272.3H376.5zM377.5,275.9H381.5L379.5,272.3H379.5zM395.0,275.9H399.0L397.0,272.3H397.0zM401.5,275.9H405.5L403.5,272.3H403.5zM405.0,275.9H409.0L407.0,272.3H407.0zM408.5,275.9H412.5L410.5,272.3H410.5zM413.0,275.9H417.0L415.0,272.3H415.0zM415.5,275.9H421.0L419.0,272.3H417.5zM423.5,275.9H427.5L425.5,272.3H425.5zM428.0,275.9H432.0L430.0,272.3H430.0zM431.0,275.9H435.0L433.0,272.3H433.0zM438.0,275.9H442.0L440.0,272.3H440.0zM443.5,275.9H447.5L445.5,272.3H445.5zM283.5,284.0H287.5L285.5,280.4H285.5zM285.0,284.0H289.0L287.0,280.4H287.0zM286.5,284.0H290.5L288.5,280.4H288.5zM288.0,284.0H300.0L298.0,280.4H290.0zM297.5,284.0H306.5L304.5,280.4H299.5zM304.0,284.0H309.0L307.0,280.4H306.0zM306.5,284.0H318.0L316.0,280.4H308.5zM315.5,284.0H352.0L350.0,280.4H317.5zM349.5,284.0H359.0L357.0,280.4H351.5zM356.5,284.0H376.0L374.0,280.4H358.5zM373.5,284.0H381.0L379.0,280.4H375.5zM378.5,284.0H385.5L383.5,280.4H380.5zM383.0,284.0H449.0L447.0,280.4H385.0zM283.5,287.1H287.5L285.5,283.5H285.5zM287.0,287.1H291.5L289.5,283.5H289.0zM289.5,287.1H319.0L317.0,283.5H291.5zM316.5,287.1H351.0L349.0,283.5H318.5zM348.5,287.1H382.5L380.5,283.5H350.5zM380.0,287.1H449.5L447.5,283.5H382.0zM284.5,279.3H292.5L290.5,275.7H286.5zM290.0,279.3H320.0L318.0,275.7H292.0zM317.5,279.3H326.0L324.0,275.7H319.5zM323.5,279.3H339.5L337.5,275.7H325.5zM337.5,279.3H347.0L345.0,275.7H339.5zM345.0,279.3H370.0L368.0,275.7H347.0zM368.0,279.3H375.0L373.0,275.7H370.0zM373.0,279.3H386.5L384.5,275.7H375.0zM384.0,279.3H389.5L387.5,275.7H386.0zM387.0,279.3H394.0L392.0,275.7H389.0zM391.5,279.3H395.5L393.5,275.7H393.5zM394.0,279.3H400.5L398.5,275.7H396.0zM398.0,279.3H405.0L403.0,275.7H400.0zM402.5,279.3H410.5L408.5,275.7H404.5zM409.0,279.3H414.0L412.0,275.7H411.0zM412.0,279.3H417.0L415.0,275.7H414.0zM414.5,279.3H422.0L420.0,275.7H416.5zM419.5,279.3H424.5L422.5,275.7H421.5zM423.0,279.3H427.0L425.0,275.7H425.0zM424.5,279.3H431.5L429.5,275.7H426.5zM431.5,279.3H436.0L434.0,275.7H433.5zM434.0,279.3H438.5L436.5,275.7H436.0zM436.0,279.3H443.0L441.0,275.7H438.0zM440.5,279.3H444.5L442.5,275.7H442.5zM285.0,291.0H290.0L288.0,287.4H287.0zM289.5,291.0H293.5L291.5,287.4H291.5zM291.0,291.0H295.5L293.5,287.4H293.0zM293.0,291.0H299.0L297.0,287.4H295.0zM296.5,291.0H303.5L301.5,287.4H298.5zM301.0,291.0H308.5L306.5,287.4H303.0zM306.0,291.0H323.0L321.0,287.4H308.0zM321.0,291.0H332.5L330.5,287.4H323.0zM331.0,291.0H343.0L341.0,287.4H333.0zM340.5,291.0H371.5L369.5,287.4H342.5zM369.0,291.0H398.5L396.5,287.4H371.0zM396.0,291.0H431.5L429.5,287.4H398.0zM429.0,291.0H449.5L447.5,287.4H431.0zM285.0,296.6H289.0L287.0,293.0H287.0zM288.0,296.6H293.0L291.0,293.0H290.0zM292.0,296.6H296.0L294.0,293.0H294.0zM294.0,296.6H300.0L298.0,293.0H296.0zM297.5,296.6H301.5L299.5,293.0H299.5zM299.5,296.6H304.0L302.0,293.0H301.5zM302.5,296.6H307.0L305.0,293.0H304.5zM304.5,296.6H310.5L308.5,293.0H306.5zM308.5,296.6H315.5L313.5,293.0H310.5zM314.5,296.6H322.5L320.5,293.0H316.5zM320.0,296.6H328.0L326.0,293.0H322.0zM325.5,296.6H330.0L328.0,293.0H327.5zM328.5,296.6H334.5L332.5,293.0H330.5zM332.0,296.6H337.0L335.0,293.0H334.0zM334.5,296.6H340.0L338.0,293.0H336.5zM338.0,296.6H342.5L340.5,293.0H340.0zM341.5,296.6H346.0L344.0,293.0H343.5zM343.5,296.6H364.5L362.5,293.0H345.5zM362.0,296.6H376.0L374.0,293.0H364.0zM373.5,296.6H378.0L376.0,293.0H375.5zM375.5,296.6H388.5L386.5,293.0H377.5zM386.0,296.6H392.5L390.5,293.0H388.0zM390.5,296.6H398.0L396.0,293.0H392.5zM396.0,296.6H404.0L402.0,293.0H398.0zM401.5,296.6H408.0L406.0,293.0H403.5zM406.0,296.6H421.0L419.0,293.0H408.0zM418.5,296.6H426.5L424.5,293.0H420.5zM424.0,296.6H428.0L426.0,293.0H426.0zM425.5,296.6H439.5L437.5,293.0H427.5zM437.0,296.6H450.0L448.0,293.0H439.0zM286.5,306.2H291.5L289.5,302.6H288.5zM292.0,306.2H296.0L294.0,302.6H294.0zM295.5,306.2H299.5L297.5,302.6H297.5zM297.5,306.2H301.5L299.5,302.6H299.5zM304.0,306.2H308.0L306.0,302.6H306.0zM305.5,306.2H310.0L308.0,302.6H307.5zM310.0,306.2H314.0L312.0,302.6H312.0zM312.0,306.2H316.5L314.5,302.6H314.0zM319.0,306.2H323.5L321.5,302.6H321.0zM321.0,306.2H325.0L323.0,302.6H323.0zM322.5,306.2H326.5L324.5,302.6H324.5zM325.5,306.2H329.5L327.5,302.6H327.5zM327.0,306.2H331.0L329.0,302.6H329.0zM328.5,306.2H332.5L330.5,302.6H330.5zM330.5,306.2H336.0L334.0,302.6H332.5zM338.5,306.2H343.5L341.5,302.6H340.5zM341.0,306.2H347.5L345.5,302.6H343.0zM349.0,306.2H353.5L351.5,302.6H351.0zM351.0,306.2H355.0L353.0,302.6H353.0zM352.5,306.2H358.0L356.0,302.6H354.5zM357.0,306.2H361.0L359.0,302.6H359.0zM361.5,306.2H366.0L364.0,302.6H363.5zM363.5,306.2H368.0L366.0,302.6H365.5zM369.0,306.2H377.0L375.0,302.6H371.0zM375.5,306.2H379.5L377.5,302.6H377.5zM377.0,306.2H381.5L379.5,302.6H379.0zM379.0,306.2H384.0L382.0,302.6H381.0zM385.5,306.2H394.5L392.5,302.6H387.5zM392.5,306.2H398.0L396.0,302.6H394.5zM395.5,306.2H404.5L402.5,302.6H397.5zM402.0,306.2H406.5L404.5,302.6H404.0zM404.0,306.2H409.5L407.5,302.6H406.0zM407.0,306.2H413.0L411.0,302.6H409.0zM411.0,306.2H415.5L413.5,302.6H413.0zM413.5,306.2H419.5L417.5,302.6H415.5zM420.0,306.2H429.0L427.0,302.6H422.0zM426.5,306.2H430.5L428.5,302.6H428.5zM429.0,306.2H433.0L431.0,302.6H431.0zM430.5,306.2H436.5L434.5,302.6H432.5zM434.0,306.2H438.0L436.0,302.6H436.0zM436.5,306.2H440.5L438.5,302.6H438.5zM439.0,306.2H443.0L441.0,302.6H441.0zM440.5,306.2H444.5L442.5,302.6H442.5zM442.5,306.2H449.5L447.5,302.6H444.5z" fill="#0000ff"/>
</g>
<rect x="263.0" y="177.6" width="184.80" height="136.70" fill="none" stroke="#1a1a1a" stroke-width="1.2"/>
<line x1="267.51" y1="314.3" x2="267.51" y2="317.5" stroke="#1a1a1a" stroke-width="1.2"/>
<text transform="translate(267.51,327.3) scale(1,1.04)" font-size="9.8" text-anchor="middle" font-family="Liberation Sans, sans-serif" font-weight="bold" >10</text>
<line x1="290.04" y1="314.3" x2="290.04" y2="317.5" stroke="#1a1a1a" stroke-width="1.2"/>
<text transform="translate(290.04,327.3) scale(1,1.04)" font-size="9.8" text-anchor="middle" font-family="Liberation Sans, sans-serif" font-weight="bold" >20</text>
<line x1="312.58" y1="314.3" x2="312.58" y2="317.5" stroke="#1a1a1a" stroke-width="1.2"/>
<text transform="translate(312.58,327.3) scale(1,1.04)" font-size="9.8" text-anchor="middle" font-family="Liberation Sans, sans-serif" font-weight="bold" >30</text>
<line x1="335.12" y1="314.3" x2="335.12" y2="317.5" stroke="#1a1a1a" stroke-width="1.2"/>
<text transform="translate(335.12,327.3) scale(1,1.04)" font-size="9.8" text-anchor="middle" font-family="Liberation Sans, sans-serif" font-weight="bold" >40</text>
<line x1="357.65" y1="314.3" x2="357.65" y2="317.5" stroke="#1a1a1a" stroke-width="1.2"/>
<text transform="translate(357.65,327.3) scale(1,1.04)" font-size="9.8" text-anchor="middle" font-family="Liberation Sans, sans-serif" font-weight="bold" >50</text>
<line x1="380.19" y1="314.3" x2="380.19" y2="317.5" stroke="#1a1a1a" stroke-width="1.2"/>
<text transform="translate(380.19,327.3) scale(1,1.04)" font-size="9.8" text-anchor="middle" font-family="Liberation Sans, sans-serif" font-weight="bold" >60</text>
<line x1="402.73" y1="314.3" x2="402.73" y2="317.5" stroke="#1a1a1a" stroke-width="1.2"/>
<text transform="translate(402.73,327.3) scale(1,1.04)" font-size="9.8" text-anchor="middle" font-family="Liberation Sans, sans-serif" font-weight="bold" >70</text>
<line x1="425.26" y1="314.3" x2="425.26" y2="317.5" stroke="#1a1a1a" stroke-width="1.2"/>
<text transform="translate(425.26,327.3) scale(1,1.04)" font-size="9.8" text-anchor="middle" font-family="Liberation Sans, sans-serif" font-weight="bold" >80</text>
<line x1="447.80" y1="314.3" x2="447.80" y2="317.5" stroke="#1a1a1a" stroke-width="1.2"/>
<text transform="translate(447.80,327.3) scale(1,1.04)" font-size="9.8" text-anchor="middle" font-family="Liberation Sans, sans-serif" font-weight="bold" >90</text>
<line x1="278.78" y1="314.3" x2="278.78" y2="316.3" stroke="#1a1a1a" stroke-width="1.2"/>
<line x1="301.31" y1="314.3" x2="301.31" y2="316.3" stroke="#1a1a1a" stroke-width="1.2"/>
<line x1="323.85" y1="314.3" x2="323.85" y2="316.3" stroke="#1a1a1a" stroke-width="1.2"/>
<line x1="346.39" y1="314.3" x2="346.39" y2="316.3" stroke="#1a1a1a" stroke-width="1.2"/>
<line x1="368.92" y1="314.3" x2="368.92" y2="316.3" stroke="#1a1a1a" stroke-width="1.2"/>
<line x1="391.46" y1="314.3" x2="391.46" y2="316.3" stroke="#1a1a1a" stroke-width="1.2"/>
<line x1="414.00" y1="314.3" x2="414.00" y2="316.3" stroke="#1a1a1a" stroke-width="1.2"/>
<line x1="436.53" y1="314.3" x2="436.53" y2="316.3" stroke="#1a1a1a" stroke-width="1.2"/>
<line x1="259.8" y1="304.90" x2="263.0" y2="304.90" stroke="#1a1a1a" stroke-width="1.2"/>
<text x="255.8" y="308.50" font-size="9.8" text-anchor="end" font-family="Liberation Sans, sans-serif" font-weight="bold">10</text>
<text x="256.1" y="304.60" font-size="6" font-family="Liberation Sans, sans-serif" font-weight="bold">0</text>
<line x1="259.8" y1="273.10" x2="263.0" y2="273.10" stroke="#1a1a1a" stroke-width="1.2"/>
<text x="255.8" y="276.70" font-size="9.8" text-anchor="end" font-family="Liberation Sans, sans-serif" font-weight="bold">10</text>
<text x="256.1" y="272.80" font-size="6" font-family="Liberation Sans, sans-serif" font-weight="bold">1</text>
<line x1="259.8" y1="241.30" x2="263.0" y2="241.30" stroke="#1a1a1a" stroke-width="1.2"/>
<text x="255.8" y="244.90" font-size="9.8" text-anchor="end" font-family="Liberation Sans, sans-serif" font-weight="bold">10</text>
<text x="256.1" y="241.00" font-size="6" font-family="Liberation Sans, sans-serif" font-weight="bold">2</text>
<line x1="259.8" y1="209.50" x2="263.0" y2="209.50" stroke="#1a1a1a" stroke-width="1.2"/>
<text x="255.8" y="213.10" font-size="9.8" text-anchor="end" font-family="Liberation Sans, sans-serif" font-weight="bold">10</text>
<text x="256.1" y="209.20" font-size="6" font-family="Liberation Sans, sans-serif" font-weight="bold">3</text>
<line x1="259.8" y1="177.70" x2="263.0" y2="177.70" stroke="#1a1a1a" stroke-width="1.2"/>
<text x="255.8" y="181.30" font-size="9.8" text-anchor="end" font-family="Liberation Sans, sans-serif" font-weight="bold">10</text>
<text x="256.1" y="177.40" font-size="6" font-family="Liberation Sans, sans-serif" font-weight="bold">4</text>
<line x1="261.2" y1="311.95" x2="263.0" y2="311.95" stroke="#1a1a1a" stroke-width="0.9"/>
<line x1="261.2" y1="309.83" x2="263.0" y2="309.83" stroke="#1a1a1a" stroke-width="0.9"/>
<line x1="261.2" y1="307.98" x2="263.0" y2="307.98" stroke="#1a1a1a" stroke-width="0.9"/>
<line x1="261.2" y1="306.36" x2="263.0" y2="306.36" stroke="#1a1a1a" stroke-width="0.9"/>
<line x1="261.2" y1="295.33" x2="263.0" y2="295.33" stroke="#1a1a1a" stroke-width="0.9"/>
<line x1="261.2" y1="289.73" x2="263.0" y2="289.73" stroke="#1a1a1a" stroke-width="0.9"/>
<line x1="261.2" y1="285.75" x2="263.0" y2="285.75" stroke="#1a1a1a" stroke-width="0.9"/>
<line x1="261.2" y1="282.67" x2="263.0" y2="282.67" stroke="#1a1a1a" stroke-width="0.9"/>
<line x1="261.2" y1="280.15" x2="263.0" y2="280.15" stroke="#1a1a1a" stroke-width="0.9"/>
<line x1="261.2" y1="278.03" x2="263.0" y2="278.03" stroke="#1a1a1a" stroke-width="0.9"/>
<line x1="261.2" y1="276.18" x2="263.0" y2="276.18" stroke="#1a1a1a" stroke-width="0.9"/>
<line x1="261.2" y1="274.56" x2="263.0" y2="274.56" stroke="#1a1a1a" stroke-width="0.9"/>
<line x1="261.2" y1="263.53" x2="263.0" y2="263.53" stroke="#1a1a1a" stroke-width="0.9"/>
<line x1="261.2" y1="257.93" x2="263.0" y2="257.93" stroke="#1a1a1a" stroke-width="0.9"/>
<line x1="261.2" y1="253.95" x2="263.0" y2="253.95" stroke="#1a1a1a" stroke-width="0.9"/>
<line x1="261.2" y1="250.87" x2="263.0" y2="250.87" stroke="#1a1a1a" stroke-width="0.9"/>
<line x1="261.2" y1="248.35" x2="263.0" y2="248.35" stroke="#1a1a1a" stroke-width="0.9"/>
<line x1="261.2" y1="246.23" x2="263.0" y2="246.23" stroke="#1a1a1a" stroke-width="0.9"/>
<line x1="261.2" y1="244.38" x2="263.0" y2="244.38" stroke="#1a1a1a" stroke-width="0.9"/>
<line x1="261.2" y1="242.76" x2="263.0" y2="242.76" stroke="#1a1a1a" stroke-width="0.9"/>
<line x1="261.2" y1="231.73" x2="263.0" y2="231.73" stroke="#1a1a1a" stroke-width="0.9"/>
<line x1="261.2" y1="226.13" x2="263.0" y2="226.13" stroke="#1a1a1a" stroke-width="0.9"/>
<line x1="261.2" y1="222.15" x2="263.0" y2="222.15" stroke="#1a1a1a" stroke-width="0.9"/>
<line x1="261.2" y1="219.07" x2="263.0" y2="219.07" stroke="#1a1a1a" stroke-width="0.9"/>
<line x1="261.2" y1="216.55" x2="263.0" y2="216.55" stroke="#1a1a1a" stroke-width="0.9"/>
<line x1="261.2" y1="214.43" x2="263.0" y2="214.43" stroke="#1a1a1a" stroke-width="0.9"/>
<line x1="261.2" y1="212.58" x2="263.0" y2="212.58" stroke="#1a1a1a" stroke-width="0.9"/>
<line x1="261.2" y1="210.96" x2="263.0" y2="210.96" stroke="#1a1a1a" stroke-width="0.9"/>
<line x1="261.2" y1="199.93" x2="263.0" y2="199.93" stroke="#1a1a1a" stroke-width="0.9"/>
<line x1="261.2" y1="194.33" x2="263.0" y2="194.33" stroke="#1a1a1a" stroke-width="0.9"/>
<line x1="261.2" y1="190.35" x2="263.0" y2="190.35" stroke="#1a1a1a" stroke-width="0.9"/>
<line x1="261.2" y1="187.27" x2="263.0" y2="187.27" stroke="#1a1a1a" stroke-width="0.9"/>
<line x1="261.2" y1="184.75" x2="263.0" y2="184.75" stroke="#1a1a1a" stroke-width="0.9"/>
<line x1="261.2" y1="182.63" x2="263.0" y2="182.63" stroke="#1a1a1a" stroke-width="0.9"/>
<line x1="261.2" y1="180.78" x2="263.0" y2="180.78" stroke="#1a1a1a" stroke-width="0.9"/>
<line x1="261.2" y1="179.16" x2="263.0" y2="179.16" stroke="#1a1a1a" stroke-width="0.9"/>
<circle cx="348.8" cy="193.3" r="1.5" fill="#000" stroke="#666" stroke-width="0.4"/>
<circle cx="348.8" cy="204.5" r="1.5" fill="#ff0000" stroke="#ff8080" stroke-width="0.4"/>
<path d="M346.8,217.8 l4,0 l-2,-3.4z" fill="#0000ff"/>
<text transform="translate(359.6,195.3) scale(1,1.07)" font-size="9.5" text-anchor="start" font-family="Liberation Sans, sans-serif" font-weight="bold" >C-6</text>
<text transform="translate(383.7,195.3) scale(1,1.07)" font-size="9.5" text-anchor="start" font-family="Liberation Sans, sans-serif" font-weight="bold" >2.6 ns</text>
<text transform="translate(359.6,207.2) scale(1,1.07)" font-size="9.5" text-anchor="start" font-family="Liberation Sans, sans-serif" font-weight="bold" >C-6@TPE</text>
<text transform="translate(410.2,207.2) scale(1,1.07)" font-size="9.5" text-anchor="start" font-family="Liberation Sans, sans-serif" font-weight="bold" >5.1 ns</text>
<text transform="translate(359.6,218.9) scale(1,1.07)" font-size="9.5" text-anchor="start" font-family="Liberation Sans, sans-serif" font-weight="bold" >IRF</text>
<text x="0" y="0" font-size="12.8" text-anchor="middle" font-family="Liberation Sans, sans-serif" font-weight="bold" transform="translate(241.0,247.85) rotate(-90)">PL counts</text>
<text transform="translate(358.95,338.9) scale(1,1.03)" font-size="12.8" text-anchor="middle" font-family="Liberation Sans, sans-serif" font-weight="bold" >Time (ns)</text>
<text x="230.8" y="181.5" font-size="17.5" text-anchor="start" font-family="Liberation Sans, sans-serif" font-weight="bold" >e</text>
<clipPath id="cf"><rect x="492.3" y="177.6" width="185.7" height="137.6"/></clipPath>
<g clip-path="url(#cf)">
<path d="M492.30,313.00 C495.25,312.80 504.78,312.20 510.00,311.80 C515.22,311.40 520.60,311.08 523.60,310.60 C526.60,310.12 526.10,309.45 528.00,308.90 C529.90,308.35 533.13,308.27 535.00,307.30 C536.87,306.33 538.03,304.98 539.20,303.10 C540.37,301.22 541.07,298.82 542.00,296.00 C542.93,293.18 543.87,288.77 544.80,286.20 C545.73,283.63 546.43,282.23 547.60,280.60 C548.77,278.97 550.57,277.42 551.80,276.40 C553.03,275.38 553.88,275.07 555.00,274.50 C556.12,273.93 557.13,273.77 558.50,273.00 C559.87,272.23 561.50,270.78 563.20,269.90 C564.90,269.02 566.85,268.25 568.70,267.70 C570.55,267.15 572.45,266.60 574.30,266.60 C576.15,266.60 577.97,267.15 579.80,267.70 C581.63,268.25 583.60,269.27 585.30,269.90 C587.00,270.53 588.57,270.95 590.00,271.50 C591.43,272.05 591.78,271.98 593.90,273.20 C596.02,274.42 599.75,276.77 602.70,278.80 C605.65,280.83 608.65,283.38 611.60,285.40 C614.55,287.42 617.45,289.17 620.40,290.90 C623.35,292.63 626.35,294.32 629.30,295.80 C632.25,297.28 635.15,298.58 638.10,299.80 C641.05,301.02 644.03,302.07 647.00,303.10 C649.97,304.13 652.95,305.13 655.90,306.00 C658.85,306.87 660.85,307.57 664.70,308.30 C668.55,309.03 676.62,310.05 679.00,310.40" fill="none" stroke="#000" stroke-width="1.15" stroke-linejoin="round"/>
<path d="M492.30,312.60 C493.75,312.45 498.03,312.08 501.00,311.70 C503.97,311.32 507.08,310.75 510.10,310.30 C513.12,309.85 516.12,309.62 519.10,309.00 C522.08,308.38 525.70,307.35 528.00,306.60 C530.30,305.85 531.50,305.67 532.90,304.50 C534.30,303.33 535.35,301.95 536.40,299.60 C537.45,297.25 538.27,294.03 539.20,290.40 C540.13,286.77 541.18,281.62 542.00,277.80 C542.82,273.98 543.30,271.53 544.10,267.50 C544.90,263.47 545.97,256.80 546.80,253.60 C547.63,250.40 548.23,249.85 549.10,248.30 C549.97,246.75 550.93,245.30 552.00,244.30 C553.07,243.30 554.33,243.08 555.50,242.30 C556.67,241.52 557.83,240.63 559.00,239.60 C560.17,238.57 561.33,237.17 562.50,236.10 C563.67,235.03 565.00,234.03 566.00,233.20 C567.00,232.37 567.50,231.73 568.50,231.10 C569.50,230.47 570.83,229.68 572.00,229.40 C573.17,229.12 574.33,229.05 575.50,229.40 C576.67,229.75 577.55,230.48 579.00,231.50 C580.45,232.52 582.45,234.00 584.20,235.50 C585.95,237.00 587.75,238.75 589.50,240.50 C591.25,242.25 592.50,243.50 594.70,246.00 C596.90,248.50 599.88,252.43 602.70,255.50 C605.52,258.57 608.65,261.45 611.60,264.40 C614.55,267.35 617.45,270.25 620.40,273.20 C623.35,276.15 626.35,279.43 629.30,282.10 C632.25,284.77 635.15,286.98 638.10,289.20 C641.05,291.42 644.03,293.45 647.00,295.40 C649.97,297.35 652.95,299.35 655.90,300.90 C658.85,302.45 660.85,303.52 664.70,304.70 C668.55,305.88 676.62,307.45 679.00,308.00" fill="none" stroke="#ff0000" stroke-width="1.15" stroke-linejoin="round"/>
<path d="M492.30,312.10 C493.75,311.88 498.03,311.32 501.00,310.80 C503.97,310.28 507.08,309.57 510.10,309.00 C513.12,308.43 516.78,307.82 519.10,307.40 C521.42,306.98 522.52,306.87 524.00,306.50 C525.48,306.13 526.63,305.77 528.00,305.20 C529.37,304.63 531.03,304.15 532.20,303.10 C533.37,302.05 534.18,301.02 535.00,298.90 C535.82,296.78 536.40,293.68 537.10,290.40 C537.80,287.12 538.50,282.93 539.20,279.20 C539.90,275.47 540.60,273.03 541.30,268.00 C542.00,262.97 542.80,253.88 543.40,249.00 C544.00,244.12 544.22,243.62 544.90,238.70 C545.58,233.78 546.63,224.45 547.50,219.50 C548.37,214.55 549.08,211.63 550.10,209.00 C551.12,206.37 552.58,204.43 553.60,203.70 C554.62,202.97 555.33,204.25 556.20,204.60 C557.07,204.95 557.78,205.37 558.80,205.80 C559.82,206.23 561.28,207.32 562.30,207.20 C563.32,207.08 564.02,205.82 564.90,205.10 C565.78,204.38 566.75,203.48 567.60,202.90 C568.45,202.32 569.27,202.00 570.00,201.60 C570.73,201.20 571.23,200.63 572.00,200.50 C572.77,200.37 573.73,200.07 574.60,200.80 C575.47,201.53 576.32,203.35 577.20,204.90 C578.08,206.45 579.02,208.22 579.90,210.10 C580.78,211.98 581.33,213.57 582.50,216.20 C583.67,218.83 585.45,222.63 586.90,225.90 C588.35,229.17 589.75,232.88 591.20,235.80 C592.65,238.72 594.13,241.03 595.60,243.40 C597.07,245.77 597.33,246.47 600.00,250.00 C602.67,253.53 608.20,260.67 611.60,264.60 C615.00,268.53 617.45,270.60 620.40,273.60 C623.35,276.60 626.35,279.90 629.30,282.60 C632.25,285.30 635.15,287.57 638.10,289.80 C641.05,292.03 644.03,294.07 647.00,296.00 C649.97,297.93 652.95,299.87 655.90,301.40 C658.85,302.93 660.85,304.00 664.70,305.20 C668.55,306.40 676.62,308.03 679.00,308.60" fill="none" stroke="#0000ff" stroke-width="1.15" stroke-linejoin="round"/>
<path d="M492.30,313.20 C495.27,313.02 504.15,312.62 510.10,312.10 C516.05,311.58 523.85,310.67 528.00,310.10 C532.15,309.53 533.13,309.63 535.00,308.70 C536.87,307.77 538.03,306.62 539.20,304.50 C540.37,302.38 541.07,299.52 542.00,296.00 C542.93,292.48 543.87,288.07 544.80,283.40 C545.73,278.73 546.68,272.68 547.60,268.00 C548.52,263.32 549.47,258.58 550.30,255.30 C551.13,252.02 551.83,250.23 552.60,248.30 C553.37,246.37 554.12,244.87 554.90,243.70 C555.68,242.53 556.23,242.37 557.30,241.30 C558.37,240.23 560.02,238.68 561.30,237.30 C562.58,235.92 563.80,234.28 565.00,233.00 C566.20,231.72 567.18,230.62 568.50,229.60 C569.82,228.58 571.58,227.38 572.90,226.90 C574.22,226.42 575.23,226.43 576.40,226.70 C577.57,226.97 578.45,227.33 579.90,228.50 C581.35,229.67 583.35,231.87 585.10,233.70 C586.85,235.53 588.80,237.62 590.40,239.50 C592.00,241.38 592.65,242.30 594.70,245.00 C596.75,247.70 599.88,252.37 602.70,255.70 C605.52,259.03 608.65,261.95 611.60,265.00 C614.55,268.05 617.45,271.00 620.40,274.00 C623.35,277.00 626.35,280.28 629.30,283.00 C632.25,285.72 635.15,288.03 638.10,290.30 C641.05,292.57 644.03,294.65 647.00,296.60 C649.97,298.55 652.95,300.52 655.90,302.00 C658.85,303.48 660.85,304.57 664.70,305.50 C668.55,306.43 676.62,307.25 679.00,307.60" fill="none" stroke="#ff00ff" stroke-width="1.15" stroke-linejoin="round"/>
<path d="M492.30,314.20 C498.25,314.20 520.65,314.30 528.00,314.20 C535.35,314.10 534.07,314.17 536.40,313.60 C538.73,313.03 540.13,312.08 542.00,310.80 C543.87,309.52 545.73,308.12 547.60,305.90 C549.47,303.68 551.47,300.32 553.20,297.50 C554.93,294.68 556.62,291.37 558.00,289.00 C559.38,286.63 559.90,285.57 561.50,283.30 C563.10,281.03 565.47,277.45 567.60,275.40 C569.73,273.35 572.08,272.18 574.30,271.00 C576.52,269.82 578.68,268.60 580.90,268.30 C583.12,268.00 585.43,268.35 587.60,269.20 C589.77,270.05 591.38,271.77 593.90,273.40 C596.42,275.03 599.75,276.97 602.70,279.00 C605.65,281.03 608.65,283.58 611.60,285.60 C614.55,287.62 617.45,289.37 620.40,291.10 C623.35,292.83 626.35,294.52 629.30,296.00 C632.25,297.48 635.15,298.78 638.10,300.00 C641.05,301.22 644.03,302.27 647.00,303.30 C649.97,304.33 652.95,305.33 655.90,306.20 C658.85,307.07 660.85,307.75 664.70,308.50 C668.55,309.25 676.62,310.33 679.00,310.70" fill="none" stroke="#008000" stroke-width="1.15" stroke-linejoin="round"/>
<path d="M492.30,314.20 C498.25,314.25 520.65,314.53 528.00,314.50 C535.35,314.47 534.07,314.38 536.40,314.00 C538.73,313.62 539.90,313.55 542.00,312.20 C544.10,310.85 546.90,308.83 549.00,305.90 C551.10,302.97 553.10,298.12 554.60,294.60 C556.10,291.08 556.75,288.37 558.00,284.80 C559.25,281.23 560.68,276.60 562.10,273.20 C563.52,269.80 564.83,266.62 566.50,264.40 C568.17,262.18 570.25,260.47 572.10,259.90 C573.95,259.33 575.77,260.45 577.60,261.00 C579.43,261.55 581.87,262.63 583.10,263.20 C584.33,263.77 583.58,262.92 585.00,264.40 C586.42,265.88 589.38,269.70 591.60,272.10 C593.82,274.50 595.72,276.40 598.30,278.80 C600.88,281.20 604.15,284.12 607.10,286.50 C610.05,288.88 613.03,291.18 616.00,293.10 C618.97,295.02 621.95,296.52 624.90,298.00 C627.85,299.48 630.75,300.78 633.70,302.00 C636.65,303.22 639.65,304.30 642.60,305.30 C645.55,306.30 648.45,307.25 651.40,308.00 C654.35,308.75 655.70,309.13 660.30,309.80 C664.90,310.47 675.88,311.63 679.00,312.00" fill="none" stroke="#00ffff" stroke-width="1.15" stroke-linejoin="round"/>
</g>
<rect x="492.3" y="177.6" width="185.70" height="137.60" fill="none" stroke="#1a1a1a" stroke-width="1.2"/>
<line x1="492.30" y1="315.2" x2="492.30" y2="318.59999999999997" stroke="#1a1a1a" stroke-width="1.2"/>
<text transform="translate(492.30,327.3) scale(1,1.04)" font-size="9.8" text-anchor="middle" font-family="Liberation Sans, sans-serif" font-weight="bold" >400</text>
<line x1="528.01" y1="315.2" x2="528.01" y2="318.59999999999997" stroke="#1a1a1a" stroke-width="1.2"/>
<text transform="translate(528.01,327.3) scale(1,1.04)" font-size="9.8" text-anchor="middle" font-family="Liberation Sans, sans-serif" font-weight="bold" >450</text>
<line x1="563.72" y1="315.2" x2="563.72" y2="318.59999999999997" stroke="#1a1a1a" stroke-width="1.2"/>
<text transform="translate(563.72,327.3) scale(1,1.04)" font-size="9.8" text-anchor="middle" font-family="Liberation Sans, sans-serif" font-weight="bold" >500</text>
<line x1="599.43" y1="315.2" x2="599.43" y2="318.59999999999997" stroke="#1a1a1a" stroke-width="1.2"/>
<text transform="translate(599.43,327.3) scale(1,1.04)" font-size="9.8" text-anchor="middle" font-family="Liberation Sans, sans-serif" font-weight="bold" >550</text>
<line x1="635.15" y1="315.2" x2="635.15" y2="318.59999999999997" stroke="#1a1a1a" stroke-width="1.2"/>
<text transform="translate(635.15,327.3) scale(1,1.04)" font-size="9.8" text-anchor="middle" font-family="Liberation Sans, sans-serif" font-weight="bold" >600</text>
<line x1="670.86" y1="315.2" x2="670.86" y2="318.59999999999997" stroke="#1a1a1a" stroke-width="1.2"/>
<text transform="translate(670.86,327.3) scale(1,1.04)" font-size="9.8" text-anchor="middle" font-family="Liberation Sans, sans-serif" font-weight="bold" >650</text>
<line x1="510.16" y1="315.2" x2="510.16" y2="317.2" stroke="#1a1a1a" stroke-width="1.2"/>
<line x1="545.87" y1="315.2" x2="545.87" y2="317.2" stroke="#1a1a1a" stroke-width="1.2"/>
<line x1="581.58" y1="315.2" x2="581.58" y2="317.2" stroke="#1a1a1a" stroke-width="1.2"/>
<line x1="617.29" y1="315.2" x2="617.29" y2="317.2" stroke="#1a1a1a" stroke-width="1.2"/>
<line x1="653.00" y1="315.2" x2="653.00" y2="317.2" stroke="#1a1a1a" stroke-width="1.2"/>
<line x1="489.1" y1="315.20" x2="492.3" y2="315.20" stroke="#1a1a1a" stroke-width="1.2"/>
<text transform="translate(487.3,318.70) scale(1,1.04)" font-size="9.8" text-anchor="end" font-family="Liberation Sans, sans-serif" font-weight="bold" >0</text>
<line x1="489.1" y1="292.27" x2="492.3" y2="292.27" stroke="#1a1a1a" stroke-width="1.2"/>
<text transform="translate(487.3,295.77) scale(1,1.04)" font-size="9.8" text-anchor="end" font-family="Liberation Sans, sans-serif" font-weight="bold" >150</text>
<line x1="489.1" y1="269.33" x2="492.3" y2="269.33" stroke="#1a1a1a" stroke-width="1.2"/>
<text transform="translate(487.3,272.83) scale(1,1.04)" font-size="9.8" text-anchor="end" font-family="Liberation Sans, sans-serif" font-weight="bold" >300</text>
<line x1="489.1" y1="246.40" x2="492.3" y2="246.40" stroke="#1a1a1a" stroke-width="1.2"/>
<text transform="translate(487.3,249.90) scale(1,1.04)" font-size="9.8" text-anchor="end" font-family="Liberation Sans, sans-serif" font-weight="bold" >450</text>
<line x1="489.1" y1="223.47" x2="492.3" y2="223.47" stroke="#1a1a1a" stroke-width="1.2"/>
<text transform="translate(487.3,226.97) scale(1,1.04)" font-size="9.8" text-anchor="end" font-family="Liberation Sans, sans-serif" font-weight="bold" >600</text>
<line x1="489.1" y1="200.53" x2="492.3" y2="200.53" stroke="#1a1a1a" stroke-width="1.2"/>
<text transform="translate(487.3,204.03) scale(1,1.04)" font-size="9.8" text-anchor="end" font-family="Liberation Sans, sans-serif" font-weight="bold" >750</text>
<line x1="489.1" y1="177.60" x2="492.3" y2="177.60" stroke="#1a1a1a" stroke-width="1.2"/>
<text transform="translate(487.3,181.10) scale(1,1.04)" font-size="9.8" text-anchor="end" font-family="Liberation Sans, sans-serif" font-weight="bold" >900</text>
<line x1="490.3" y1="303.73" x2="492.3" y2="303.73" stroke="#1a1a1a" stroke-width="1.2"/>
<line x1="490.3" y1="280.80" x2="492.3" y2="280.80" stroke="#1a1a1a" stroke-width="1.2"/>
<line x1="490.3" y1="257.87" x2="492.3" y2="257.87" stroke="#1a1a1a" stroke-width="1.2"/>
<line x1="490.3" y1="234.93" x2="492.3" y2="234.93" stroke="#1a1a1a" stroke-width="1.2"/>
<line x1="490.3" y1="212.00" x2="492.3" y2="212.00" stroke="#1a1a1a" stroke-width="1.2"/>
<line x1="490.3" y1="189.07" x2="492.3" y2="189.07" stroke="#1a1a1a" stroke-width="1.2"/>
<line x1="608.9" y1="189.00" x2="620.5" y2="189.00" stroke="#000" stroke-width="1.1"/>
<text x="623.3" y="191.40" font-size="9" font-family="Liberation Sans, sans-serif" font-weight="bold">5 <tspan font-family="Liberation Serif, serif" font-weight="normal" font-size="9.6">μ</tspan>L min<tspan font-size="5.6" dy="-3.6">-1</tspan></text>
<line x1="608.9" y1="201.64" x2="620.5" y2="201.64" stroke="#ff0000" stroke-width="1.1"/>
<text x="623.3" y="204.04" font-size="9" font-family="Liberation Sans, sans-serif" font-weight="bold">10 <tspan font-family="Liberation Serif, serif" font-weight="normal" font-size="9.6">μ</tspan>L min<tspan font-size="5.6" dy="-3.6">-1</tspan></text>
<line x1="608.9" y1="214.28" x2="620.5" y2="214.28" stroke="#0000ff" stroke-width="1.1"/>
<text x="623.3" y="216.68" font-size="9" font-family="Liberation Sans, sans-serif" font-weight="bold">20 <tspan font-family="Liberation Serif, serif" font-weight="normal" font-size="9.6">μ</tspan>L min<tspan font-size="5.6" dy="-3.6">-1</tspan></text>
<line x1="608.9" y1="226.92" x2="620.5" y2="226.92" stroke="#ff00ff" stroke-width="1.1"/>
<text x="623.3" y="229.32" font-size="9" font-family="Liberation Sans, sans-serif" font-weight="bold">40 <tspan font-family="Liberation Serif, serif" font-weight="normal" font-size="9.6">μ</tspan>L min<tspan font-size="5.6" dy="-3.6">-1</tspan></text>
<line x1="608.9" y1="239.56" x2="620.5" y2="239.56" stroke="#008000" stroke-width="1.1"/>
<text x="623.3" y="241.96" font-size="9" font-family="Liberation Sans, sans-serif" font-weight="bold">80 <tspan font-family="Liberation Serif, serif" font-weight="normal" font-size="9.6">μ</tspan>L min<tspan font-size="5.6" dy="-3.6">-1</tspan></text>
<line x1="608.9" y1="252.20" x2="620.5" y2="252.20" stroke="#00ffff" stroke-width="1.1"/>
<text x="623.3" y="254.60" font-size="9" font-family="Liberation Sans, sans-serif" font-weight="bold">160 <tspan font-family="Liberation Serif, serif" font-weight="normal" font-size="9.6">μ</tspan>L min<tspan font-size="5.6" dy="-3.6">-1</tspan></text>
<text x="0" y="0" font-size="12.8" text-anchor="middle" font-family="Liberation Sans, sans-serif" font-weight="bold" transform="translate(467.8,248.9) rotate(-90)">Intensity (arb.u.)</text>
<text transform="translate(584.7,339.1) scale(1,1.03)" font-size="12.8" text-anchor="middle" font-family="Liberation Sans, sans-serif" font-weight="bold" >Wavelength (nm)</text>
<text x="454.5" y="181" font-size="17.5" text-anchor="start" font-family="Liberation Sans, sans-serif" font-weight="bold" >f</text>
</svg></body></html>
